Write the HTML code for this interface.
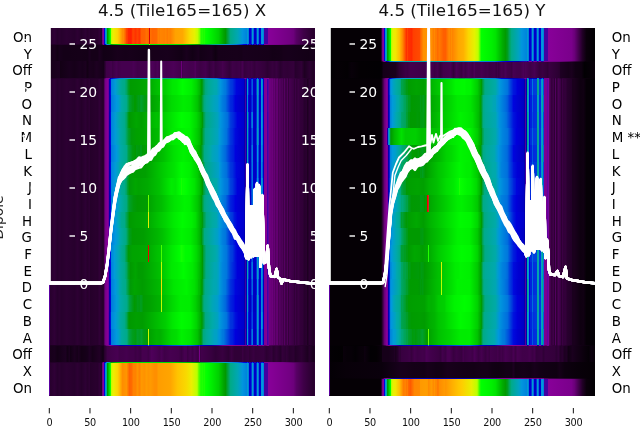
<!DOCTYPE html><html><head><meta charset="utf-8"><title>Tile165</title><style>html,body{margin:0;padding:0;background:#fff}svg{display:block}</style></head><body><svg width="640" height="440" viewBox="0 0 640 440" font-family="'DejaVu Sans','Liberation Sans',sans-serif">
<defs><linearGradient id="l0"><stop offset="0.00188" stop-color="#26002b"/><stop offset="0.02068" stop-color="#2f0036"/><stop offset="0.03195" stop-color="#27002d"/><stop offset="0.03947" stop-color="#2b0031"/><stop offset="0.04699" stop-color="#27002d"/><stop offset="0.06579" stop-color="#2c0032"/><stop offset="0.09586" stop-color="#27002d"/><stop offset="0.1071" stop-color="#2d0033"/><stop offset="0.1147" stop-color="#29002f"/><stop offset="0.1222" stop-color="#25002a"/><stop offset="0.1372" stop-color="#2d0034"/><stop offset="0.1447" stop-color="#28002d"/><stop offset="0.1523" stop-color="#2d0033"/><stop offset="0.156" stop-color="#25002a"/><stop offset="0.1748" stop-color="#29002e"/><stop offset="0.1823" stop-color="#28002d"/><stop offset="0.1898" stop-color="#300036"/><stop offset="0.1974" stop-color="#28002d"/><stop offset="0.2011" stop-color="#710082"/><stop offset="0.2049" stop-color="#880099"/><stop offset="0.2086" stop-color="#0000dd"/><stop offset="0.2124" stop-color="#008bdd"/><stop offset="0.2162" stop-color="#00aaa1"/><stop offset="0.2199" stop-color="#009a00"/><stop offset="0.2274" stop-color="#00e000"/><stop offset="0.2312" stop-color="#13ff00"/><stop offset="0.235" stop-color="#c4fc00"/><stop offset="0.2387" stop-color="#def300"/><stop offset="0.2425" stop-color="#edee00"/><stop offset="0.2575" stop-color="#fbd500"/><stop offset="0.265" stop-color="#ffba00"/><stop offset="0.2763" stop-color="#ff8d00"/><stop offset="0.2801" stop-color="#ff8c00"/><stop offset="0.2876" stop-color="#ff6000"/><stop offset="0.2914" stop-color="#ff4200"/><stop offset="0.2951" stop-color="#ff3900"/><stop offset="0.2989" stop-color="#ff2400"/><stop offset="0.3064" stop-color="#ff2000"/><stop offset="0.3102" stop-color="#ff2600"/><stop offset="0.3139" stop-color="#ff3c00"/><stop offset="0.3177" stop-color="#ff4200"/><stop offset="0.3252" stop-color="#ff3300"/><stop offset="0.3327" stop-color="#ff4200"/><stop offset="0.3402" stop-color="#ff3300"/><stop offset="0.3477" stop-color="#ff6000"/><stop offset="0.359" stop-color="#ff6200"/><stop offset="0.3665" stop-color="#ff7000"/><stop offset="0.3741" stop-color="#ff6700"/><stop offset="0.3778" stop-color="#dd0000"/><stop offset="0.3816" stop-color="#ff7000"/><stop offset="0.3891" stop-color="#ff6500"/><stop offset="0.4041" stop-color="#ff6900"/><stop offset="0.4117" stop-color="#ff8200"/><stop offset="0.4154" stop-color="#ff7d00"/><stop offset="0.4192" stop-color="#ff8400"/><stop offset="0.4342" stop-color="#ff8000"/><stop offset="0.438" stop-color="#ff8500"/><stop offset="0.4455" stop-color="#ff7c00"/><stop offset="0.4492" stop-color="#ff8400"/><stop offset="0.4568" stop-color="#ff8100"/><stop offset="0.4756" stop-color="#ffa200"/><stop offset="0.5019" stop-color="#ffa800"/><stop offset="0.5282" stop-color="#f8db00"/><stop offset="0.547" stop-color="#e6f100"/><stop offset="0.5583" stop-color="#c5fc00"/><stop offset="0.5658" stop-color="#84ff00"/><stop offset="0.5695" stop-color="#44ff00"/><stop offset="0.5733" stop-color="#20ff00"/><stop offset="0.5771" stop-color="#24ff00"/><stop offset="0.5808" stop-color="#17ff00"/><stop offset="0.5846" stop-color="#1dff00"/><stop offset="0.5883" stop-color="#09ff00"/><stop offset="0.5959" stop-color="#00fe00"/><stop offset="0.6372" stop-color="#00d100"/><stop offset="0.656" stop-color="#00a600"/><stop offset="0.6635" stop-color="#009900"/><stop offset="0.6823" stop-color="#00aa87"/><stop offset="0.7086" stop-color="#00a7b2"/><stop offset="0.7274" stop-color="#0096dd"/><stop offset="0.7425" stop-color="#0084dd"/><stop offset="0.7462" stop-color="#009ece"/><stop offset="0.75" stop-color="#0080dd"/><stop offset="0.7538" stop-color="#0000c9"/><stop offset="0.7575" stop-color="#0000d1"/><stop offset="0.7613" stop-color="#0038dd"/><stop offset="0.765" stop-color="#009ece"/><stop offset="0.7688" stop-color="#006add"/><stop offset="0.7726" stop-color="#0000c9"/><stop offset="0.7763" stop-color="#0000c9"/><stop offset="0.7801" stop-color="#0031dd"/><stop offset="0.7838" stop-color="#009ece"/><stop offset="0.7876" stop-color="#0071dd"/><stop offset="0.7914" stop-color="#0000c9"/><stop offset="0.7951" stop-color="#0000ce"/><stop offset="0.7989" stop-color="#0092dd"/><stop offset="0.8026" stop-color="#0099dd"/><stop offset="0.8064" stop-color="#0081dd"/><stop offset="0.8102" stop-color="#4400a2"/><stop offset="0.8214" stop-color="#4400a2"/><stop offset="0.8252" stop-color="#880099"/><stop offset="0.9041" stop-color="#730083"/><stop offset="0.9192" stop-color="#6c007b"/><stop offset="0.9305" stop-color="#570064"/><stop offset="0.9568" stop-color="#3f0048"/><stop offset="0.9756" stop-color="#33003a"/><stop offset="0.9868" stop-color="#2d0033"/><stop offset="0.9944" stop-color="#28002d"/><stop offset="0.9981" stop-color="#2d0034"/></linearGradient><linearGradient id="l1"><stop offset="0.00188" stop-color="#140017"/><stop offset="0.02068" stop-color="#1a001d"/><stop offset="0.03195" stop-color="#130015"/><stop offset="0.03947" stop-color="#17001b"/><stop offset="0.05451" stop-color="#140017"/><stop offset="0.06955" stop-color="#140017"/><stop offset="0.1147" stop-color="#150018"/><stop offset="0.1447" stop-color="#140017"/><stop offset="0.1523" stop-color="#1a001e"/><stop offset="0.1598" stop-color="#150018"/><stop offset="0.1823" stop-color="#150018"/><stop offset="0.1898" stop-color="#1b001f"/><stop offset="0.2049" stop-color="#120015"/><stop offset="0.235" stop-color="#140017"/><stop offset="0.2575" stop-color="#18001b"/><stop offset="0.2876" stop-color="#160019"/><stop offset="0.3026" stop-color="#17001a"/><stop offset="0.3477" stop-color="#140017"/><stop offset="0.3665" stop-color="#140017"/><stop offset="0.3929" stop-color="#17001a"/><stop offset="0.4192" stop-color="#17001b"/><stop offset="0.4455" stop-color="#18001c"/><stop offset="0.468" stop-color="#160019"/><stop offset="0.4981" stop-color="#120015"/><stop offset="0.5169" stop-color="#19001d"/><stop offset="0.5395" stop-color="#120015"/><stop offset="0.562" stop-color="#19001d"/><stop offset="0.5695" stop-color="#130016"/><stop offset="0.6109" stop-color="#18001c"/><stop offset="0.6259" stop-color="#0f0011"/><stop offset="0.6372" stop-color="#160019"/><stop offset="0.7049" stop-color="#17001a"/><stop offset="0.7237" stop-color="#160019"/><stop offset="0.7312" stop-color="#18001c"/><stop offset="0.8252" stop-color="#160019"/><stop offset="0.8402" stop-color="#130016"/><stop offset="0.8741" stop-color="#150018"/><stop offset="0.8816" stop-color="#17001a"/><stop offset="0.9004" stop-color="#17001b"/><stop offset="0.9756" stop-color="#130016"/><stop offset="0.9981" stop-color="#17001b"/></linearGradient><linearGradient id="l2"><stop offset="0.00188" stop-color="#18001b"/><stop offset="0.03947" stop-color="#1c0020"/><stop offset="0.04323" stop-color="#130015"/><stop offset="0.07707" stop-color="#19001d"/><stop offset="0.09586" stop-color="#160019"/><stop offset="0.1147" stop-color="#1a001e"/><stop offset="0.1259" stop-color="#17001b"/><stop offset="0.1372" stop-color="#1b001f"/><stop offset="0.1447" stop-color="#130015"/><stop offset="0.1523" stop-color="#1a001e"/><stop offset="0.1673" stop-color="#18001b"/><stop offset="0.1786" stop-color="#1d0021"/><stop offset="0.2049" stop-color="#160019"/><stop offset="0.2162" stop-color="#3f0048"/><stop offset="0.235" stop-color="#43004d"/><stop offset="0.2387" stop-color="#3c0045"/><stop offset="0.2538" stop-color="#470052"/><stop offset="0.2613" stop-color="#41004a"/><stop offset="0.2726" stop-color="#45004f"/><stop offset="0.3102" stop-color="#45004f"/><stop offset="0.3177" stop-color="#490054"/><stop offset="0.3327" stop-color="#41004a"/><stop offset="0.3553" stop-color="#43004d"/><stop offset="0.3665" stop-color="#45004f"/><stop offset="0.3741" stop-color="#41004a"/><stop offset="0.3891" stop-color="#4d0058"/><stop offset="0.4004" stop-color="#460050"/><stop offset="0.4079" stop-color="#4b0056"/><stop offset="0.4154" stop-color="#43004c"/><stop offset="0.4267" stop-color="#4a0055"/><stop offset="0.4417" stop-color="#45004f"/><stop offset="0.468" stop-color="#4c0057"/><stop offset="0.4944" stop-color="#43004c"/><stop offset="0.4981" stop-color="#6b007a"/><stop offset="0.5019" stop-color="#42004c"/><stop offset="0.5056" stop-color="#4a0055"/><stop offset="0.5282" stop-color="#45004f"/><stop offset="0.5432" stop-color="#460050"/><stop offset="0.5508" stop-color="#4f005a"/><stop offset="0.5545" stop-color="#44004e"/><stop offset="0.5695" stop-color="#3e0046"/><stop offset="0.5883" stop-color="#44004e"/><stop offset="0.6034" stop-color="#36003e"/><stop offset="0.6184" stop-color="#400049"/><stop offset="0.6259" stop-color="#36003e"/><stop offset="0.6485" stop-color="#400049"/><stop offset="0.6523" stop-color="#45004e"/><stop offset="0.6786" stop-color="#33003a"/><stop offset="0.6898" stop-color="#3f0048"/><stop offset="0.7049" stop-color="#3b0044"/><stop offset="0.7162" stop-color="#3e0047"/><stop offset="0.7199" stop-color="#3a0042"/><stop offset="0.7274" stop-color="#460050"/><stop offset="0.735" stop-color="#36003e"/><stop offset="0.75" stop-color="#3c0045"/><stop offset="0.7575" stop-color="#3a0042"/><stop offset="0.7613" stop-color="#3d0046"/><stop offset="0.7726" stop-color="#35003c"/><stop offset="0.7801" stop-color="#3b0044"/><stop offset="0.8102" stop-color="#34003b"/><stop offset="0.8214" stop-color="#2d0033"/><stop offset="0.8402" stop-color="#37003e"/><stop offset="0.8477" stop-color="#33003a"/><stop offset="0.8553" stop-color="#380040"/><stop offset="0.8703" stop-color="#2a0030"/><stop offset="0.8816" stop-color="#320039"/><stop offset="0.8966" stop-color="#300036"/><stop offset="0.9192" stop-color="#34003b"/><stop offset="0.9267" stop-color="#27002d"/><stop offset="0.9492" stop-color="#300036"/><stop offset="0.9605" stop-color="#1e0022"/><stop offset="0.9793" stop-color="#2b0031"/><stop offset="0.9944" stop-color="#210025"/><stop offset="0.9981" stop-color="#2a0030"/></linearGradient><linearGradient id="l3"><stop offset="0.00188" stop-color="#26002b"/><stop offset="0.02068" stop-color="#2f0036"/><stop offset="0.03195" stop-color="#27002d"/><stop offset="0.03947" stop-color="#2b0031"/><stop offset="0.04699" stop-color="#27002d"/><stop offset="0.06579" stop-color="#2c0032"/><stop offset="0.09586" stop-color="#27002d"/><stop offset="0.1071" stop-color="#2d0033"/><stop offset="0.1147" stop-color="#29002f"/><stop offset="0.1222" stop-color="#25002a"/><stop offset="0.1372" stop-color="#2d0034"/><stop offset="0.1447" stop-color="#28002d"/><stop offset="0.1523" stop-color="#2d0033"/><stop offset="0.156" stop-color="#25002a"/><stop offset="0.1748" stop-color="#29002e"/><stop offset="0.1823" stop-color="#28002d"/><stop offset="0.1898" stop-color="#300036"/><stop offset="0.2011" stop-color="#25002a"/><stop offset="0.2049" stop-color="#29002e"/><stop offset="0.2086" stop-color="#570064"/><stop offset="0.2124" stop-color="#780089"/><stop offset="0.2199" stop-color="#860097"/><stop offset="0.2237" stop-color="#6e009c"/><stop offset="0.2274" stop-color="#0000ac"/><stop offset="0.2312" stop-color="#0005dd"/><stop offset="0.235" stop-color="#0082dd"/><stop offset="0.25" stop-color="#009cd5"/><stop offset="0.2688" stop-color="#00aa9a"/><stop offset="0.2763" stop-color="#00aa8e"/><stop offset="0.2838" stop-color="#00aa88"/><stop offset="0.2914" stop-color="#00a665"/><stop offset="0.2989" stop-color="#009e26"/><stop offset="0.3064" stop-color="#009b00"/><stop offset="0.3289" stop-color="#009e00"/><stop offset="0.3741" stop-color="#00a800"/><stop offset="0.4079" stop-color="#00bf00"/><stop offset="0.438" stop-color="#00ce00"/><stop offset="0.4643" stop-color="#00e800"/><stop offset="0.4793" stop-color="#00ec00"/><stop offset="0.5019" stop-color="#00fe00"/><stop offset="0.5357" stop-color="#00ef00"/><stop offset="0.5545" stop-color="#00d500"/><stop offset="0.5658" stop-color="#00bb00"/><stop offset="0.5733" stop-color="#009b00"/><stop offset="0.5771" stop-color="#009c15"/><stop offset="0.5808" stop-color="#00a143"/><stop offset="0.5883" stop-color="#00a97c"/><stop offset="0.5996" stop-color="#00aa95"/><stop offset="0.6222" stop-color="#00a9ad"/><stop offset="0.6297" stop-color="#00a8b0"/><stop offset="0.6447" stop-color="#0096dd"/><stop offset="0.6598" stop-color="#007cdd"/><stop offset="0.6635" stop-color="#0079dd"/><stop offset="0.6823" stop-color="#003cdd"/><stop offset="0.6898" stop-color="#0034dd"/><stop offset="0.7049" stop-color="#0005dd"/><stop offset="0.7312" stop-color="#0000ce"/><stop offset="0.735" stop-color="#0000b7"/><stop offset="0.7387" stop-color="#3b00a3"/><stop offset="0.7425" stop-color="#0000bb"/><stop offset="0.7462" stop-color="#009ece"/><stop offset="0.75" stop-color="#002add"/><stop offset="0.7538" stop-color="#0000c5"/><stop offset="0.7575" stop-color="#0000c5"/><stop offset="0.7613" stop-color="#0037dd"/><stop offset="0.765" stop-color="#0060dd"/><stop offset="0.7688" stop-color="#0000cd"/><stop offset="0.7763" stop-color="#0000c4"/><stop offset="0.7801" stop-color="#003cdd"/><stop offset="0.7838" stop-color="#00a6b7"/><stop offset="0.7876" stop-color="#007cdd"/><stop offset="0.7914" stop-color="#0000c4"/><stop offset="0.7951" stop-color="#0000d4"/><stop offset="0.7989" stop-color="#009fcb"/><stop offset="0.8026" stop-color="#0087dd"/><stop offset="0.8064" stop-color="#0000c4"/><stop offset="0.8102" stop-color="#800091"/><stop offset="0.8177" stop-color="#840095"/><stop offset="0.8214" stop-color="#3d00a2"/><stop offset="0.8252" stop-color="#5e009e"/><stop offset="0.8289" stop-color="#700080"/><stop offset="0.8365" stop-color="#670076"/><stop offset="0.8402" stop-color="#6c007b"/><stop offset="0.844" stop-color="#5c006a"/><stop offset="0.8477" stop-color="#660075"/><stop offset="0.8515" stop-color="#540060"/><stop offset="0.8553" stop-color="#60006e"/><stop offset="0.859" stop-color="#620070"/><stop offset="0.8628" stop-color="#490053"/><stop offset="0.8665" stop-color="#550061"/><stop offset="0.8741" stop-color="#4a0055"/><stop offset="0.8778" stop-color="#4e0059"/><stop offset="0.8816" stop-color="#3f0048"/><stop offset="0.8853" stop-color="#550061"/><stop offset="0.8891" stop-color="#3f0048"/><stop offset="0.8929" stop-color="#3e0047"/><stop offset="0.8966" stop-color="#4e0059"/><stop offset="0.9004" stop-color="#35003c"/><stop offset="0.9041" stop-color="#460050"/><stop offset="0.9192" stop-color="#3b0044"/><stop offset="0.9229" stop-color="#320039"/><stop offset="0.9267" stop-color="#3d0046"/><stop offset="0.9305" stop-color="#33003a"/><stop offset="0.938" stop-color="#3b0043"/><stop offset="0.9455" stop-color="#320039"/><stop offset="0.953" stop-color="#310038"/><stop offset="0.9605" stop-color="#27002d"/><stop offset="0.968" stop-color="#2a0030"/><stop offset="0.9718" stop-color="#1e0022"/><stop offset="0.9793" stop-color="#2c0032"/><stop offset="0.9944" stop-color="#210025"/><stop offset="0.9981" stop-color="#2c0032"/></linearGradient><linearGradient id="l4"><stop offset="0.00188" stop-color="#26002b"/><stop offset="0.02068" stop-color="#2f0036"/><stop offset="0.03195" stop-color="#27002d"/><stop offset="0.03947" stop-color="#2b0031"/><stop offset="0.04699" stop-color="#27002d"/><stop offset="0.06579" stop-color="#2c0032"/><stop offset="0.09586" stop-color="#27002d"/><stop offset="0.1071" stop-color="#2d0033"/><stop offset="0.1147" stop-color="#29002f"/><stop offset="0.1222" stop-color="#25002a"/><stop offset="0.1372" stop-color="#2d0034"/><stop offset="0.1447" stop-color="#28002d"/><stop offset="0.1523" stop-color="#2d0033"/><stop offset="0.156" stop-color="#25002a"/><stop offset="0.1748" stop-color="#29002e"/><stop offset="0.1823" stop-color="#28002d"/><stop offset="0.1898" stop-color="#300036"/><stop offset="0.2011" stop-color="#25002a"/><stop offset="0.2049" stop-color="#29002e"/><stop offset="0.2086" stop-color="#570064"/><stop offset="0.2124" stop-color="#780089"/><stop offset="0.2199" stop-color="#860097"/><stop offset="0.2237" stop-color="#70009c"/><stop offset="0.2274" stop-color="#0600a9"/><stop offset="0.2312" stop-color="#0000d8"/><stop offset="0.235" stop-color="#007bdd"/><stop offset="0.2538" stop-color="#0098dd"/><stop offset="0.2613" stop-color="#009dd0"/><stop offset="0.2726" stop-color="#00aaa6"/><stop offset="0.2876" stop-color="#00aa91"/><stop offset="0.2914" stop-color="#00aa8a"/><stop offset="0.3026" stop-color="#009f2f"/><stop offset="0.3139" stop-color="#009b10"/><stop offset="0.3177" stop-color="#009b0e"/><stop offset="0.3214" stop-color="#009a00"/><stop offset="0.3252" stop-color="#009a00"/><stop offset="0.3365" stop-color="#009c1a"/><stop offset="0.3402" stop-color="#009c14"/><stop offset="0.344" stop-color="#009e26"/><stop offset="0.3477" stop-color="#009e2c"/><stop offset="0.359" stop-color="#009b12"/><stop offset="0.3665" stop-color="#009b0c"/><stop offset="0.3703" stop-color="#009900"/><stop offset="0.4079" stop-color="#00b000"/><stop offset="0.438" stop-color="#00c400"/><stop offset="0.4605" stop-color="#00da00"/><stop offset="0.5056" stop-color="#00ed00"/><stop offset="0.532" stop-color="#00e700"/><stop offset="0.5583" stop-color="#00c400"/><stop offset="0.5695" stop-color="#00a300"/><stop offset="0.5733" stop-color="#009b11"/><stop offset="0.5808" stop-color="#00a563"/><stop offset="0.5846" stop-color="#00a981"/><stop offset="0.5921" stop-color="#00aa96"/><stop offset="0.6184" stop-color="#00a5b9"/><stop offset="0.6335" stop-color="#00a0c8"/><stop offset="0.641" stop-color="#0095dd"/><stop offset="0.6523" stop-color="#007ddd"/><stop offset="0.6635" stop-color="#006edd"/><stop offset="0.6823" stop-color="#0029dd"/><stop offset="0.6898" stop-color="#0022dd"/><stop offset="0.7011" stop-color="#0000db"/><stop offset="0.7199" stop-color="#0000cd"/><stop offset="0.7312" stop-color="#0000c8"/><stop offset="0.735" stop-color="#0000b0"/><stop offset="0.7387" stop-color="#4b00a1"/><stop offset="0.7425" stop-color="#0000b6"/><stop offset="0.7462" stop-color="#008bdd"/><stop offset="0.75" stop-color="#000bdd"/><stop offset="0.7538" stop-color="#0000bf"/><stop offset="0.7575" stop-color="#0000c0"/><stop offset="0.7613" stop-color="#001edd"/><stop offset="0.765" stop-color="#0042dd"/><stop offset="0.7688" stop-color="#0000c7"/><stop offset="0.7763" stop-color="#0000c0"/><stop offset="0.7801" stop-color="#002add"/><stop offset="0.7838" stop-color="#00a1c5"/><stop offset="0.7876" stop-color="#0071dd"/><stop offset="0.7914" stop-color="#0000bf"/><stop offset="0.7951" stop-color="#0000cd"/><stop offset="0.7989" stop-color="#0095dd"/><stop offset="0.8026" stop-color="#007bdd"/><stop offset="0.8064" stop-color="#0000bf"/><stop offset="0.8102" stop-color="#800091"/><stop offset="0.8177" stop-color="#840095"/><stop offset="0.8214" stop-color="#4300a2"/><stop offset="0.8252" stop-color="#62009e"/><stop offset="0.8289" stop-color="#700080"/><stop offset="0.8365" stop-color="#670076"/><stop offset="0.8402" stop-color="#6c007b"/><stop offset="0.844" stop-color="#5c006a"/><stop offset="0.8477" stop-color="#660075"/><stop offset="0.8515" stop-color="#540060"/><stop offset="0.8553" stop-color="#60006e"/><stop offset="0.859" stop-color="#620070"/><stop offset="0.8628" stop-color="#490053"/><stop offset="0.8665" stop-color="#550061"/><stop offset="0.8741" stop-color="#4a0055"/><stop offset="0.8778" stop-color="#4e0059"/><stop offset="0.8816" stop-color="#3f0048"/><stop offset="0.8853" stop-color="#550061"/><stop offset="0.8891" stop-color="#3f0048"/><stop offset="0.8929" stop-color="#3e0047"/><stop offset="0.8966" stop-color="#4e0059"/><stop offset="0.9004" stop-color="#35003c"/><stop offset="0.9041" stop-color="#460050"/><stop offset="0.9192" stop-color="#3b0044"/><stop offset="0.9229" stop-color="#320039"/><stop offset="0.9267" stop-color="#3d0046"/><stop offset="0.9305" stop-color="#33003a"/><stop offset="0.938" stop-color="#3b0043"/><stop offset="0.9455" stop-color="#320039"/><stop offset="0.953" stop-color="#310038"/><stop offset="0.9605" stop-color="#27002d"/><stop offset="0.968" stop-color="#2a0030"/><stop offset="0.9718" stop-color="#1e0022"/><stop offset="0.9793" stop-color="#2c0032"/><stop offset="0.9944" stop-color="#210025"/><stop offset="0.9981" stop-color="#2c0032"/></linearGradient><linearGradient id="l5"><stop offset="0.00188" stop-color="#26002b"/><stop offset="0.02068" stop-color="#2f0036"/><stop offset="0.03195" stop-color="#27002d"/><stop offset="0.03947" stop-color="#2b0031"/><stop offset="0.04699" stop-color="#27002d"/><stop offset="0.06579" stop-color="#2c0032"/><stop offset="0.09586" stop-color="#27002d"/><stop offset="0.1071" stop-color="#2d0033"/><stop offset="0.1147" stop-color="#29002f"/><stop offset="0.1222" stop-color="#25002a"/><stop offset="0.1372" stop-color="#2d0034"/><stop offset="0.1447" stop-color="#28002d"/><stop offset="0.1523" stop-color="#2d0033"/><stop offset="0.156" stop-color="#25002a"/><stop offset="0.1748" stop-color="#29002e"/><stop offset="0.1823" stop-color="#28002d"/><stop offset="0.1898" stop-color="#300036"/><stop offset="0.2011" stop-color="#25002a"/><stop offset="0.2049" stop-color="#29002e"/><stop offset="0.2086" stop-color="#570064"/><stop offset="0.2124" stop-color="#780089"/><stop offset="0.2199" stop-color="#860097"/><stop offset="0.2237" stop-color="#6f009c"/><stop offset="0.2274" stop-color="#0000ab"/><stop offset="0.2312" stop-color="#0005dd"/><stop offset="0.235" stop-color="#0083dd"/><stop offset="0.25" stop-color="#009cd4"/><stop offset="0.2688" stop-color="#00aaa0"/><stop offset="0.2838" stop-color="#00aa8c"/><stop offset="0.2914" stop-color="#00a664"/><stop offset="0.2989" stop-color="#009b14"/><stop offset="0.3026" stop-color="#009900"/><stop offset="0.3289" stop-color="#00a600"/><stop offset="0.3477" stop-color="#009f00"/><stop offset="0.3853" stop-color="#00b600"/><stop offset="0.4041" stop-color="#00c100"/><stop offset="0.4154" stop-color="#00bf00"/><stop offset="0.4342" stop-color="#00d000"/><stop offset="0.4643" stop-color="#00e700"/><stop offset="0.4981" stop-color="#00fd00"/><stop offset="0.5282" stop-color="#00f600"/><stop offset="0.5545" stop-color="#00d800"/><stop offset="0.5658" stop-color="#00c000"/><stop offset="0.5771" stop-color="#009a04"/><stop offset="0.5808" stop-color="#00a036"/><stop offset="0.5883" stop-color="#00a879"/><stop offset="0.5921" stop-color="#00aa87"/><stop offset="0.6335" stop-color="#00a4bb"/><stop offset="0.6447" stop-color="#0095dd"/><stop offset="0.6598" stop-color="#007fdd"/><stop offset="0.6711" stop-color="#006fdd"/><stop offset="0.6823" stop-color="#003cdd"/><stop offset="0.6936" stop-color="#0028dd"/><stop offset="0.7086" stop-color="#0000dd"/><stop offset="0.7312" stop-color="#0000cf"/><stop offset="0.735" stop-color="#0000b8"/><stop offset="0.7387" stop-color="#3600a3"/><stop offset="0.7425" stop-color="#0000bd"/><stop offset="0.7462" stop-color="#00a7b4"/><stop offset="0.75" stop-color="#0042dd"/><stop offset="0.7538" stop-color="#0000c7"/><stop offset="0.7575" stop-color="#0000c7"/><stop offset="0.7613" stop-color="#005fdd"/><stop offset="0.765" stop-color="#0081dd"/><stop offset="0.7688" stop-color="#0000d0"/><stop offset="0.7726" stop-color="#0000c5"/><stop offset="0.7763" stop-color="#0000c5"/><stop offset="0.7801" stop-color="#002ddd"/><stop offset="0.7838" stop-color="#009fca"/><stop offset="0.7876" stop-color="#0071dd"/><stop offset="0.7914" stop-color="#0000c5"/><stop offset="0.7951" stop-color="#0000d3"/><stop offset="0.7989" stop-color="#009adb"/><stop offset="0.8026" stop-color="#0081dd"/><stop offset="0.8064" stop-color="#0000c6"/><stop offset="0.8102" stop-color="#800091"/><stop offset="0.8177" stop-color="#840095"/><stop offset="0.8214" stop-color="#3b00a3"/><stop offset="0.8252" stop-color="#5d009e"/><stop offset="0.8289" stop-color="#700080"/><stop offset="0.8365" stop-color="#670076"/><stop offset="0.8402" stop-color="#6c007b"/><stop offset="0.844" stop-color="#5c006a"/><stop offset="0.8477" stop-color="#660075"/><stop offset="0.8515" stop-color="#540060"/><stop offset="0.8553" stop-color="#60006e"/><stop offset="0.859" stop-color="#620070"/><stop offset="0.8628" stop-color="#490053"/><stop offset="0.8665" stop-color="#550061"/><stop offset="0.8741" stop-color="#4a0055"/><stop offset="0.8778" stop-color="#4e0059"/><stop offset="0.8816" stop-color="#3f0048"/><stop offset="0.8853" stop-color="#550061"/><stop offset="0.8891" stop-color="#3f0048"/><stop offset="0.8929" stop-color="#3e0047"/><stop offset="0.8966" stop-color="#4e0059"/><stop offset="0.9004" stop-color="#35003c"/><stop offset="0.9041" stop-color="#460050"/><stop offset="0.9192" stop-color="#3b0044"/><stop offset="0.9229" stop-color="#320039"/><stop offset="0.9267" stop-color="#3d0046"/><stop offset="0.9305" stop-color="#33003a"/><stop offset="0.938" stop-color="#3b0043"/><stop offset="0.9455" stop-color="#320039"/><stop offset="0.953" stop-color="#310038"/><stop offset="0.9605" stop-color="#27002d"/><stop offset="0.968" stop-color="#2a0030"/><stop offset="0.9718" stop-color="#1e0022"/><stop offset="0.9793" stop-color="#2c0032"/><stop offset="0.9944" stop-color="#210025"/><stop offset="0.9981" stop-color="#2c0032"/></linearGradient><linearGradient id="l6"><stop offset="0.00188" stop-color="#26002b"/><stop offset="0.02068" stop-color="#2f0036"/><stop offset="0.03195" stop-color="#27002d"/><stop offset="0.03947" stop-color="#2b0031"/><stop offset="0.04699" stop-color="#27002d"/><stop offset="0.06579" stop-color="#2c0032"/><stop offset="0.09586" stop-color="#27002d"/><stop offset="0.1071" stop-color="#2d0033"/><stop offset="0.1147" stop-color="#29002f"/><stop offset="0.1222" stop-color="#25002a"/><stop offset="0.1372" stop-color="#2d0034"/><stop offset="0.1447" stop-color="#28002d"/><stop offset="0.1523" stop-color="#2d0033"/><stop offset="0.156" stop-color="#25002a"/><stop offset="0.1748" stop-color="#29002e"/><stop offset="0.1823" stop-color="#28002d"/><stop offset="0.1898" stop-color="#300036"/><stop offset="0.2011" stop-color="#25002a"/><stop offset="0.2049" stop-color="#29002e"/><stop offset="0.2086" stop-color="#570064"/><stop offset="0.2124" stop-color="#780089"/><stop offset="0.2199" stop-color="#860097"/><stop offset="0.2237" stop-color="#6e009c"/><stop offset="0.2274" stop-color="#0000ac"/><stop offset="0.2312" stop-color="#0004dd"/><stop offset="0.235" stop-color="#0083dd"/><stop offset="0.25" stop-color="#009bd7"/><stop offset="0.2613" stop-color="#00a4bd"/><stop offset="0.2688" stop-color="#00aaa3"/><stop offset="0.2838" stop-color="#00aa8c"/><stop offset="0.2876" stop-color="#00a97e"/><stop offset="0.2989" stop-color="#009f2f"/><stop offset="0.3102" stop-color="#009a08"/><stop offset="0.3289" stop-color="#00a000"/><stop offset="0.3553" stop-color="#00a300"/><stop offset="0.4192" stop-color="#00bf00"/><stop offset="0.4643" stop-color="#00e900"/><stop offset="0.5132" stop-color="#00f600"/><stop offset="0.532" stop-color="#00f200"/><stop offset="0.5583" stop-color="#00cc00"/><stop offset="0.5658" stop-color="#00bd00"/><stop offset="0.5733" stop-color="#009b00"/><stop offset="0.5771" stop-color="#009d1f"/><stop offset="0.5808" stop-color="#00a34f"/><stop offset="0.5883" stop-color="#00aa8b"/><stop offset="0.6071" stop-color="#00aa9f"/><stop offset="0.6335" stop-color="#00a4bd"/><stop offset="0.641" stop-color="#009bd8"/><stop offset="0.6598" stop-color="#007ddd"/><stop offset="0.6673" stop-color="#0073dd"/><stop offset="0.6823" stop-color="#0036dd"/><stop offset="0.6898" stop-color="#002add"/><stop offset="0.7011" stop-color="#0009dd"/><stop offset="0.7162" stop-color="#0000d4"/><stop offset="0.7312" stop-color="#0000ce"/><stop offset="0.735" stop-color="#0000b6"/><stop offset="0.7387" stop-color="#3c00a3"/><stop offset="0.7425" stop-color="#0000ba"/><stop offset="0.7462" stop-color="#00a5b8"/><stop offset="0.75" stop-color="#0038dd"/><stop offset="0.7538" stop-color="#0000c3"/><stop offset="0.7575" stop-color="#0000c3"/><stop offset="0.7613" stop-color="#0031dd"/><stop offset="0.765" stop-color="#005add"/><stop offset="0.7688" stop-color="#0000ca"/><stop offset="0.7763" stop-color="#0000c3"/><stop offset="0.7801" stop-color="#0035dd"/><stop offset="0.7838" stop-color="#00a4bb"/><stop offset="0.7876" stop-color="#007add"/><stop offset="0.7914" stop-color="#0000c3"/><stop offset="0.7951" stop-color="#0000d1"/><stop offset="0.7989" stop-color="#0096dd"/><stop offset="0.8026" stop-color="#007ddd"/><stop offset="0.8064" stop-color="#0000c5"/><stop offset="0.8102" stop-color="#800091"/><stop offset="0.8177" stop-color="#840095"/><stop offset="0.8214" stop-color="#3f00a2"/><stop offset="0.8252" stop-color="#5e009e"/><stop offset="0.8289" stop-color="#700080"/><stop offset="0.8365" stop-color="#670076"/><stop offset="0.8402" stop-color="#6c007b"/><stop offset="0.844" stop-color="#5c006a"/><stop offset="0.8477" stop-color="#660075"/><stop offset="0.8515" stop-color="#540060"/><stop offset="0.8553" stop-color="#60006e"/><stop offset="0.859" stop-color="#620070"/><stop offset="0.8628" stop-color="#490053"/><stop offset="0.8665" stop-color="#550061"/><stop offset="0.8741" stop-color="#4a0055"/><stop offset="0.8778" stop-color="#4e0059"/><stop offset="0.8816" stop-color="#3f0048"/><stop offset="0.8853" stop-color="#550061"/><stop offset="0.8891" stop-color="#3f0048"/><stop offset="0.8929" stop-color="#3e0047"/><stop offset="0.8966" stop-color="#4e0059"/><stop offset="0.9004" stop-color="#35003c"/><stop offset="0.9041" stop-color="#460050"/><stop offset="0.9192" stop-color="#3b0044"/><stop offset="0.9229" stop-color="#320039"/><stop offset="0.9267" stop-color="#3d0046"/><stop offset="0.9305" stop-color="#33003a"/><stop offset="0.938" stop-color="#3b0043"/><stop offset="0.9455" stop-color="#320039"/><stop offset="0.953" stop-color="#310038"/><stop offset="0.9605" stop-color="#27002d"/><stop offset="0.968" stop-color="#2a0030"/><stop offset="0.9718" stop-color="#1e0022"/><stop offset="0.9793" stop-color="#2c0032"/><stop offset="0.9944" stop-color="#210025"/><stop offset="0.9981" stop-color="#2c0032"/></linearGradient><linearGradient id="l7"><stop offset="0.00188" stop-color="#26002b"/><stop offset="0.02068" stop-color="#2f0036"/><stop offset="0.03195" stop-color="#27002d"/><stop offset="0.03947" stop-color="#2b0031"/><stop offset="0.04699" stop-color="#27002d"/><stop offset="0.06579" stop-color="#2c0032"/><stop offset="0.09586" stop-color="#27002d"/><stop offset="0.1071" stop-color="#2d0033"/><stop offset="0.1147" stop-color="#29002f"/><stop offset="0.1222" stop-color="#25002a"/><stop offset="0.1372" stop-color="#2d0034"/><stop offset="0.1447" stop-color="#28002d"/><stop offset="0.1523" stop-color="#2d0033"/><stop offset="0.156" stop-color="#25002a"/><stop offset="0.1748" stop-color="#29002e"/><stop offset="0.1823" stop-color="#28002d"/><stop offset="0.1898" stop-color="#300036"/><stop offset="0.2011" stop-color="#25002a"/><stop offset="0.2049" stop-color="#29002e"/><stop offset="0.2086" stop-color="#570064"/><stop offset="0.2124" stop-color="#780089"/><stop offset="0.2199" stop-color="#860097"/><stop offset="0.2237" stop-color="#70009c"/><stop offset="0.2274" stop-color="#0500a9"/><stop offset="0.2312" stop-color="#0000d9"/><stop offset="0.235" stop-color="#007bdd"/><stop offset="0.2538" stop-color="#0099dd"/><stop offset="0.2613" stop-color="#00a0c7"/><stop offset="0.2688" stop-color="#00aaa8"/><stop offset="0.2914" stop-color="#00aa8a"/><stop offset="0.2989" stop-color="#00a246"/><stop offset="0.3139" stop-color="#009b0e"/><stop offset="0.3252" stop-color="#009900"/><stop offset="0.3289" stop-color="#009b10"/><stop offset="0.3402" stop-color="#009a09"/><stop offset="0.344" stop-color="#009c17"/><stop offset="0.3477" stop-color="#009c16"/><stop offset="0.3515" stop-color="#009904"/><stop offset="0.3853" stop-color="#00a600"/><stop offset="0.4305" stop-color="#00c000"/><stop offset="0.468" stop-color="#00e000"/><stop offset="0.4906" stop-color="#00ec00"/><stop offset="0.5056" stop-color="#00f200"/><stop offset="0.5357" stop-color="#00e800"/><stop offset="0.5583" stop-color="#00bf00"/><stop offset="0.5658" stop-color="#00b100"/><stop offset="0.5695" stop-color="#00a100"/><stop offset="0.5733" stop-color="#009c15"/><stop offset="0.5846" stop-color="#00aa88"/><stop offset="0.6071" stop-color="#00aaa9"/><stop offset="0.6147" stop-color="#00a5b9"/><stop offset="0.6335" stop-color="#009fca"/><stop offset="0.641" stop-color="#0095dd"/><stop offset="0.6523" stop-color="#007ddd"/><stop offset="0.6635" stop-color="#006add"/><stop offset="0.6748" stop-color="#0044dd"/><stop offset="0.6823" stop-color="#002ddd"/><stop offset="0.6936" stop-color="#001ddd"/><stop offset="0.7011" stop-color="#0003dd"/><stop offset="0.7312" stop-color="#0000ca"/><stop offset="0.735" stop-color="#0000b2"/><stop offset="0.7387" stop-color="#4300a2"/><stop offset="0.7425" stop-color="#0000b8"/><stop offset="0.7462" stop-color="#00a5b9"/><stop offset="0.75" stop-color="#0035dd"/><stop offset="0.7538" stop-color="#0000c1"/><stop offset="0.7575" stop-color="#0000c1"/><stop offset="0.7613" stop-color="#004ddd"/><stop offset="0.765" stop-color="#007bdd"/><stop offset="0.7688" stop-color="#0000ca"/><stop offset="0.7763" stop-color="#0000c1"/><stop offset="0.7801" stop-color="#001add"/><stop offset="0.7838" stop-color="#0098dd"/><stop offset="0.7876" stop-color="#0055dd"/><stop offset="0.7914" stop-color="#0000c0"/><stop offset="0.7951" stop-color="#0000cc"/><stop offset="0.7989" stop-color="#008bdd"/><stop offset="0.8026" stop-color="#0071dd"/><stop offset="0.8064" stop-color="#0000c1"/><stop offset="0.8102" stop-color="#800091"/><stop offset="0.8177" stop-color="#840095"/><stop offset="0.8214" stop-color="#4200a2"/><stop offset="0.8252" stop-color="#61009e"/><stop offset="0.8289" stop-color="#700080"/><stop offset="0.8365" stop-color="#670076"/><stop offset="0.8402" stop-color="#6c007b"/><stop offset="0.844" stop-color="#5c006a"/><stop offset="0.8477" stop-color="#660075"/><stop offset="0.8515" stop-color="#540060"/><stop offset="0.8553" stop-color="#60006e"/><stop offset="0.859" stop-color="#620070"/><stop offset="0.8628" stop-color="#490053"/><stop offset="0.8665" stop-color="#550061"/><stop offset="0.8741" stop-color="#4a0055"/><stop offset="0.8778" stop-color="#4e0059"/><stop offset="0.8816" stop-color="#3f0048"/><stop offset="0.8853" stop-color="#550061"/><stop offset="0.8891" stop-color="#3f0048"/><stop offset="0.8929" stop-color="#3e0047"/><stop offset="0.8966" stop-color="#4e0059"/><stop offset="0.9004" stop-color="#35003c"/><stop offset="0.9041" stop-color="#460050"/><stop offset="0.9192" stop-color="#3b0044"/><stop offset="0.9229" stop-color="#320039"/><stop offset="0.9267" stop-color="#3d0046"/><stop offset="0.9305" stop-color="#33003a"/><stop offset="0.938" stop-color="#3b0043"/><stop offset="0.9455" stop-color="#320039"/><stop offset="0.953" stop-color="#310038"/><stop offset="0.9605" stop-color="#27002d"/><stop offset="0.968" stop-color="#2a0030"/><stop offset="0.9718" stop-color="#1e0022"/><stop offset="0.9793" stop-color="#2c0032"/><stop offset="0.9944" stop-color="#210025"/><stop offset="0.9981" stop-color="#2c0032"/></linearGradient><linearGradient id="l8"><stop offset="0.00188" stop-color="#26002b"/><stop offset="0.02068" stop-color="#2f0036"/><stop offset="0.03195" stop-color="#27002d"/><stop offset="0.03947" stop-color="#2b0031"/><stop offset="0.04699" stop-color="#27002d"/><stop offset="0.06579" stop-color="#2c0032"/><stop offset="0.09586" stop-color="#27002d"/><stop offset="0.1071" stop-color="#2d0033"/><stop offset="0.1147" stop-color="#29002f"/><stop offset="0.1222" stop-color="#25002a"/><stop offset="0.1372" stop-color="#2d0034"/><stop offset="0.1447" stop-color="#28002d"/><stop offset="0.1523" stop-color="#2d0033"/><stop offset="0.156" stop-color="#25002a"/><stop offset="0.1748" stop-color="#29002e"/><stop offset="0.1823" stop-color="#28002d"/><stop offset="0.1898" stop-color="#300036"/><stop offset="0.2011" stop-color="#25002a"/><stop offset="0.2049" stop-color="#29002e"/><stop offset="0.2086" stop-color="#570064"/><stop offset="0.2124" stop-color="#780089"/><stop offset="0.2199" stop-color="#860097"/><stop offset="0.2237" stop-color="#6f009c"/><stop offset="0.2274" stop-color="#0000ab"/><stop offset="0.2312" stop-color="#0005dd"/><stop offset="0.235" stop-color="#0083dd"/><stop offset="0.25" stop-color="#009bd7"/><stop offset="0.2613" stop-color="#00a4bc"/><stop offset="0.265" stop-color="#00aaaa"/><stop offset="0.2876" stop-color="#00aa88"/><stop offset="0.2951" stop-color="#00a24c"/><stop offset="0.3026" stop-color="#009a09"/><stop offset="0.3102" stop-color="#009f00"/><stop offset="0.3402" stop-color="#009e00"/><stop offset="0.3628" stop-color="#00a000"/><stop offset="0.4079" stop-color="#00be00"/><stop offset="0.4492" stop-color="#00d800"/><stop offset="0.4718" stop-color="#00e400"/><stop offset="0.4981" stop-color="#00fa00"/><stop offset="0.5282" stop-color="#00f100"/><stop offset="0.5583" stop-color="#00ce00"/><stop offset="0.5695" stop-color="#00ae00"/><stop offset="0.5733" stop-color="#009d00"/><stop offset="0.5771" stop-color="#009c19"/><stop offset="0.5846" stop-color="#00a76c"/><stop offset="0.5883" stop-color="#00aa88"/><stop offset="0.6372" stop-color="#00a0c7"/><stop offset="0.641" stop-color="#009ad9"/><stop offset="0.6523" stop-color="#0083dd"/><stop offset="0.6673" stop-color="#0070dd"/><stop offset="0.6823" stop-color="#0037dd"/><stop offset="0.6898" stop-color="#002fdd"/><stop offset="0.7049" stop-color="#0005dd"/><stop offset="0.7312" stop-color="#0000cd"/><stop offset="0.735" stop-color="#0000b6"/><stop offset="0.7387" stop-color="#3d00a2"/><stop offset="0.7425" stop-color="#0000b9"/><stop offset="0.7462" stop-color="#00a3bf"/><stop offset="0.75" stop-color="#0035dd"/><stop offset="0.7538" stop-color="#0000c5"/><stop offset="0.7575" stop-color="#0000c5"/><stop offset="0.7613" stop-color="#0047dd"/><stop offset="0.765" stop-color="#0078dd"/><stop offset="0.7688" stop-color="#0000cd"/><stop offset="0.7763" stop-color="#0000c3"/><stop offset="0.7801" stop-color="#0014dd"/><stop offset="0.7838" stop-color="#008fdd"/><stop offset="0.7876" stop-color="#0049dd"/><stop offset="0.7914" stop-color="#0000c1"/><stop offset="0.7951" stop-color="#0000cd"/><stop offset="0.7989" stop-color="#0084dd"/><stop offset="0.8026" stop-color="#0060dd"/><stop offset="0.8064" stop-color="#0000c3"/><stop offset="0.8102" stop-color="#800091"/><stop offset="0.8177" stop-color="#840095"/><stop offset="0.8214" stop-color="#4100a2"/><stop offset="0.8252" stop-color="#60009e"/><stop offset="0.8289" stop-color="#700080"/><stop offset="0.8365" stop-color="#670076"/><stop offset="0.8402" stop-color="#6c007b"/><stop offset="0.844" stop-color="#5c006a"/><stop offset="0.8477" stop-color="#660075"/><stop offset="0.8515" stop-color="#540060"/><stop offset="0.8553" stop-color="#60006e"/><stop offset="0.859" stop-color="#620070"/><stop offset="0.8628" stop-color="#490053"/><stop offset="0.8665" stop-color="#550061"/><stop offset="0.8741" stop-color="#4a0055"/><stop offset="0.8778" stop-color="#4e0059"/><stop offset="0.8816" stop-color="#3f0048"/><stop offset="0.8853" stop-color="#550061"/><stop offset="0.8891" stop-color="#3f0048"/><stop offset="0.8929" stop-color="#3e0047"/><stop offset="0.8966" stop-color="#4e0059"/><stop offset="0.9004" stop-color="#35003c"/><stop offset="0.9041" stop-color="#460050"/><stop offset="0.9192" stop-color="#3b0044"/><stop offset="0.9229" stop-color="#320039"/><stop offset="0.9267" stop-color="#3d0046"/><stop offset="0.9305" stop-color="#33003a"/><stop offset="0.938" stop-color="#3b0043"/><stop offset="0.9455" stop-color="#320039"/><stop offset="0.953" stop-color="#310038"/><stop offset="0.9605" stop-color="#27002d"/><stop offset="0.968" stop-color="#2a0030"/><stop offset="0.9718" stop-color="#1e0022"/><stop offset="0.9793" stop-color="#2c0032"/><stop offset="0.9944" stop-color="#210025"/><stop offset="0.9981" stop-color="#2c0032"/></linearGradient><linearGradient id="l9"><stop offset="0.00188" stop-color="#26002b"/><stop offset="0.02068" stop-color="#2f0036"/><stop offset="0.03195" stop-color="#27002d"/><stop offset="0.03947" stop-color="#2b0031"/><stop offset="0.04699" stop-color="#27002d"/><stop offset="0.06579" stop-color="#2c0032"/><stop offset="0.09586" stop-color="#27002d"/><stop offset="0.1071" stop-color="#2d0033"/><stop offset="0.1147" stop-color="#29002f"/><stop offset="0.1222" stop-color="#25002a"/><stop offset="0.1372" stop-color="#2d0034"/><stop offset="0.1447" stop-color="#28002d"/><stop offset="0.1523" stop-color="#2d0033"/><stop offset="0.156" stop-color="#25002a"/><stop offset="0.1748" stop-color="#29002e"/><stop offset="0.1823" stop-color="#28002d"/><stop offset="0.1898" stop-color="#300036"/><stop offset="0.2011" stop-color="#25002a"/><stop offset="0.2049" stop-color="#29002e"/><stop offset="0.2086" stop-color="#570064"/><stop offset="0.2124" stop-color="#780089"/><stop offset="0.2199" stop-color="#860097"/><stop offset="0.2237" stop-color="#6e009c"/><stop offset="0.2274" stop-color="#0000ac"/><stop offset="0.2312" stop-color="#0009dd"/><stop offset="0.235" stop-color="#0083dd"/><stop offset="0.25" stop-color="#009cd5"/><stop offset="0.2726" stop-color="#00aa96"/><stop offset="0.2838" stop-color="#00aa8a"/><stop offset="0.2914" stop-color="#00a563"/><stop offset="0.2951" stop-color="#00a038"/><stop offset="0.3026" stop-color="#009a06"/><stop offset="0.3252" stop-color="#00a600"/><stop offset="0.3365" stop-color="#00a200"/><stop offset="0.3703" stop-color="#00aa00"/><stop offset="0.4154" stop-color="#00c100"/><stop offset="0.4605" stop-color="#00ec00"/><stop offset="0.4756" stop-color="#00e900"/><stop offset="0.4944" stop-color="#01ff00"/><stop offset="0.4981" stop-color="#14ff00"/><stop offset="0.5019" stop-color="#05ff00"/><stop offset="0.5056" stop-color="#07ff00"/><stop offset="0.5169" stop-color="#00fd00"/><stop offset="0.547" stop-color="#00e500"/><stop offset="0.5658" stop-color="#00c200"/><stop offset="0.5771" stop-color="#009a00"/><stop offset="0.5808" stop-color="#00a035"/><stop offset="0.5883" stop-color="#00a771"/><stop offset="0.5921" stop-color="#00a983"/><stop offset="0.6147" stop-color="#00aaa3"/><stop offset="0.6297" stop-color="#00aaaa"/><stop offset="0.6447" stop-color="#0097dd"/><stop offset="0.6598" stop-color="#007fdd"/><stop offset="0.6711" stop-color="#0074dd"/><stop offset="0.6823" stop-color="#0042dd"/><stop offset="0.6898" stop-color="#0037dd"/><stop offset="0.7086" stop-color="#0000db"/><stop offset="0.7312" stop-color="#0000cf"/><stop offset="0.735" stop-color="#0000b8"/><stop offset="0.7387" stop-color="#3500a3"/><stop offset="0.7425" stop-color="#0000bd"/><stop offset="0.7462" stop-color="#009ecd"/><stop offset="0.75" stop-color="#0031dd"/><stop offset="0.7538" stop-color="#0000c7"/><stop offset="0.7575" stop-color="#0000c7"/><stop offset="0.7613" stop-color="#0045dd"/><stop offset="0.765" stop-color="#0074dd"/><stop offset="0.7688" stop-color="#0000d0"/><stop offset="0.7763" stop-color="#0000c6"/><stop offset="0.7801" stop-color="#0025dd"/><stop offset="0.7838" stop-color="#009ad9"/><stop offset="0.7876" stop-color="#0061dd"/><stop offset="0.7914" stop-color="#0000c4"/><stop offset="0.7951" stop-color="#0000d4"/><stop offset="0.7989" stop-color="#009bd6"/><stop offset="0.8026" stop-color="#0083dd"/><stop offset="0.8064" stop-color="#0000c5"/><stop offset="0.8102" stop-color="#800091"/><stop offset="0.8177" stop-color="#840095"/><stop offset="0.8214" stop-color="#3d00a2"/><stop offset="0.8252" stop-color="#5e009e"/><stop offset="0.8289" stop-color="#700080"/><stop offset="0.8365" stop-color="#670076"/><stop offset="0.8402" stop-color="#6c007b"/><stop offset="0.844" stop-color="#5c006a"/><stop offset="0.8477" stop-color="#660075"/><stop offset="0.8515" stop-color="#540060"/><stop offset="0.8553" stop-color="#60006e"/><stop offset="0.859" stop-color="#620070"/><stop offset="0.8628" stop-color="#490053"/><stop offset="0.8665" stop-color="#550061"/><stop offset="0.8741" stop-color="#4a0055"/><stop offset="0.8778" stop-color="#4e0059"/><stop offset="0.8816" stop-color="#3f0048"/><stop offset="0.8853" stop-color="#550061"/><stop offset="0.8891" stop-color="#3f0048"/><stop offset="0.8929" stop-color="#3e0047"/><stop offset="0.8966" stop-color="#4e0059"/><stop offset="0.9004" stop-color="#35003c"/><stop offset="0.9041" stop-color="#460050"/><stop offset="0.9192" stop-color="#3b0044"/><stop offset="0.9229" stop-color="#320039"/><stop offset="0.9267" stop-color="#3d0046"/><stop offset="0.9305" stop-color="#33003a"/><stop offset="0.938" stop-color="#3b0043"/><stop offset="0.9455" stop-color="#320039"/><stop offset="0.953" stop-color="#310038"/><stop offset="0.9605" stop-color="#27002d"/><stop offset="0.968" stop-color="#2a0030"/><stop offset="0.9718" stop-color="#1e0022"/><stop offset="0.9793" stop-color="#2c0032"/><stop offset="0.9944" stop-color="#210025"/><stop offset="0.9981" stop-color="#2c0032"/></linearGradient><linearGradient id="l10"><stop offset="0.00188" stop-color="#26002b"/><stop offset="0.02068" stop-color="#2f0036"/><stop offset="0.03195" stop-color="#27002d"/><stop offset="0.03947" stop-color="#2b0031"/><stop offset="0.04699" stop-color="#27002d"/><stop offset="0.06579" stop-color="#2c0032"/><stop offset="0.09586" stop-color="#27002d"/><stop offset="0.1071" stop-color="#2d0033"/><stop offset="0.1147" stop-color="#29002f"/><stop offset="0.1222" stop-color="#25002a"/><stop offset="0.1372" stop-color="#2d0034"/><stop offset="0.1447" stop-color="#28002d"/><stop offset="0.1523" stop-color="#2d0033"/><stop offset="0.156" stop-color="#25002a"/><stop offset="0.1748" stop-color="#29002e"/><stop offset="0.1823" stop-color="#28002d"/><stop offset="0.1898" stop-color="#300036"/><stop offset="0.2011" stop-color="#25002a"/><stop offset="0.2049" stop-color="#29002e"/><stop offset="0.2086" stop-color="#570064"/><stop offset="0.2124" stop-color="#780089"/><stop offset="0.2199" stop-color="#860097"/><stop offset="0.2237" stop-color="#70009c"/><stop offset="0.2274" stop-color="#0100aa"/><stop offset="0.2312" stop-color="#0000dc"/><stop offset="0.235" stop-color="#007edd"/><stop offset="0.2538" stop-color="#009ada"/><stop offset="0.2613" stop-color="#00a0c7"/><stop offset="0.2688" stop-color="#00aaaa"/><stop offset="0.2914" stop-color="#00a981"/><stop offset="0.2989" stop-color="#00a03c"/><stop offset="0.3026" stop-color="#009e27"/><stop offset="0.3177" stop-color="#009a0a"/><stop offset="0.3327" stop-color="#009900"/><stop offset="0.3703" stop-color="#009d00"/><stop offset="0.3741" stop-color="#70ff00"/><stop offset="0.3778" stop-color="#00a400"/><stop offset="0.4041" stop-color="#00b500"/><stop offset="0.4229" stop-color="#00bd00"/><stop offset="0.453" stop-color="#00d700"/><stop offset="0.4718" stop-color="#00e400"/><stop offset="0.5094" stop-color="#00f400"/><stop offset="0.5282" stop-color="#00f000"/><stop offset="0.5583" stop-color="#00c800"/><stop offset="0.5658" stop-color="#00b700"/><stop offset="0.5733" stop-color="#009a06"/><stop offset="0.5808" stop-color="#00a55f"/><stop offset="0.5846" stop-color="#00a982"/><stop offset="0.5921" stop-color="#00aa92"/><stop offset="0.6297" stop-color="#00a4bd"/><stop offset="0.641" stop-color="#0096dd"/><stop offset="0.6523" stop-color="#007ddd"/><stop offset="0.6635" stop-color="#006ddd"/><stop offset="0.6823" stop-color="#0022dd"/><stop offset="0.6936" stop-color="#0011dd"/><stop offset="0.7011" stop-color="#0000dd"/><stop offset="0.7237" stop-color="#0000ce"/><stop offset="0.7312" stop-color="#0000cb"/><stop offset="0.735" stop-color="#0000b4"/><stop offset="0.7387" stop-color="#4200a2"/><stop offset="0.7425" stop-color="#0000b8"/><stop offset="0.7462" stop-color="#0095dd"/><stop offset="0.75" stop-color="#001bdd"/><stop offset="0.7538" stop-color="#0000c2"/><stop offset="0.7575" stop-color="#0000c2"/><stop offset="0.7613" stop-color="#003fdd"/><stop offset="0.765" stop-color="#0071dd"/><stop offset="0.7688" stop-color="#0000ca"/><stop offset="0.7726" stop-color="#0000c0"/><stop offset="0.7763" stop-color="#0000c1"/><stop offset="0.7801" stop-color="#0023dd"/><stop offset="0.7838" stop-color="#009dd1"/><stop offset="0.7876" stop-color="#0066dd"/><stop offset="0.7914" stop-color="#0000c1"/><stop offset="0.7951" stop-color="#0000cc"/><stop offset="0.7989" stop-color="#0087dd"/><stop offset="0.8026" stop-color="#0066dd"/><stop offset="0.8064" stop-color="#0000c0"/><stop offset="0.8102" stop-color="#800091"/><stop offset="0.8177" stop-color="#840095"/><stop offset="0.8214" stop-color="#4100a2"/><stop offset="0.8252" stop-color="#60009e"/><stop offset="0.8289" stop-color="#700080"/><stop offset="0.8365" stop-color="#670076"/><stop offset="0.8402" stop-color="#6c007b"/><stop offset="0.844" stop-color="#5c006a"/><stop offset="0.8477" stop-color="#660075"/><stop offset="0.8515" stop-color="#540060"/><stop offset="0.8553" stop-color="#60006e"/><stop offset="0.859" stop-color="#620070"/><stop offset="0.8628" stop-color="#490053"/><stop offset="0.8665" stop-color="#550061"/><stop offset="0.8741" stop-color="#4a0055"/><stop offset="0.8778" stop-color="#4e0059"/><stop offset="0.8816" stop-color="#3f0048"/><stop offset="0.8853" stop-color="#550061"/><stop offset="0.8891" stop-color="#3f0048"/><stop offset="0.8929" stop-color="#3e0047"/><stop offset="0.8966" stop-color="#4e0059"/><stop offset="0.9004" stop-color="#35003c"/><stop offset="0.9041" stop-color="#460050"/><stop offset="0.9192" stop-color="#3b0044"/><stop offset="0.9229" stop-color="#320039"/><stop offset="0.9267" stop-color="#3d0046"/><stop offset="0.9305" stop-color="#33003a"/><stop offset="0.938" stop-color="#3b0043"/><stop offset="0.9455" stop-color="#320039"/><stop offset="0.953" stop-color="#310038"/><stop offset="0.9605" stop-color="#27002d"/><stop offset="0.968" stop-color="#2a0030"/><stop offset="0.9718" stop-color="#1e0022"/><stop offset="0.9793" stop-color="#2c0032"/><stop offset="0.9944" stop-color="#210025"/><stop offset="0.9981" stop-color="#2c0032"/></linearGradient><linearGradient id="l11"><stop offset="0.00188" stop-color="#26002b"/><stop offset="0.02068" stop-color="#2f0036"/><stop offset="0.03195" stop-color="#27002d"/><stop offset="0.03947" stop-color="#2b0031"/><stop offset="0.04699" stop-color="#27002d"/><stop offset="0.06579" stop-color="#2c0032"/><stop offset="0.09586" stop-color="#27002d"/><stop offset="0.1071" stop-color="#2d0033"/><stop offset="0.1147" stop-color="#29002f"/><stop offset="0.1222" stop-color="#25002a"/><stop offset="0.1372" stop-color="#2d0034"/><stop offset="0.1447" stop-color="#28002d"/><stop offset="0.1523" stop-color="#2d0033"/><stop offset="0.156" stop-color="#25002a"/><stop offset="0.1748" stop-color="#29002e"/><stop offset="0.1823" stop-color="#28002d"/><stop offset="0.1898" stop-color="#300036"/><stop offset="0.2011" stop-color="#25002a"/><stop offset="0.2049" stop-color="#29002e"/><stop offset="0.2086" stop-color="#570064"/><stop offset="0.2124" stop-color="#780089"/><stop offset="0.2199" stop-color="#860097"/><stop offset="0.2237" stop-color="#6e009c"/><stop offset="0.2274" stop-color="#0000ad"/><stop offset="0.2312" stop-color="#000add"/><stop offset="0.235" stop-color="#0084dd"/><stop offset="0.25" stop-color="#009bd8"/><stop offset="0.2613" stop-color="#00a6b7"/><stop offset="0.2726" stop-color="#00aa91"/><stop offset="0.2838" stop-color="#00aa88"/><stop offset="0.2951" stop-color="#00a03b"/><stop offset="0.3026" stop-color="#009a00"/><stop offset="0.3289" stop-color="#00a100"/><stop offset="0.3553" stop-color="#00a400"/><stop offset="0.3703" stop-color="#00aa00"/><stop offset="0.3741" stop-color="#e4f100"/><stop offset="0.3778" stop-color="#00ad00"/><stop offset="0.4079" stop-color="#00c100"/><stop offset="0.438" stop-color="#00d400"/><stop offset="0.468" stop-color="#00ea00"/><stop offset="0.5019" stop-color="#00fb00"/><stop offset="0.5357" stop-color="#00f000"/><stop offset="0.5508" stop-color="#00e000"/><stop offset="0.5695" stop-color="#00af00"/><stop offset="0.5771" stop-color="#009a0a"/><stop offset="0.5808" stop-color="#00a037"/><stop offset="0.5921" stop-color="#00aa85"/><stop offset="0.6147" stop-color="#00aaa2"/><stop offset="0.6297" stop-color="#00a8af"/><stop offset="0.641" stop-color="#009bd8"/><stop offset="0.656" stop-color="#0083dd"/><stop offset="0.6711" stop-color="#0076dd"/><stop offset="0.6823" stop-color="#0041dd"/><stop offset="0.6898" stop-color="#0035dd"/><stop offset="0.6974" stop-color="#0017dd"/><stop offset="0.7086" stop-color="#0000dc"/><stop offset="0.7312" stop-color="#0000ce"/><stop offset="0.735" stop-color="#0000b7"/><stop offset="0.7387" stop-color="#3700a3"/><stop offset="0.7425" stop-color="#0000bc"/><stop offset="0.7462" stop-color="#009bd8"/><stop offset="0.75" stop-color="#0025dd"/><stop offset="0.7538" stop-color="#0000c6"/><stop offset="0.7575" stop-color="#0000c6"/><stop offset="0.7613" stop-color="#0045dd"/><stop offset="0.765" stop-color="#0075dd"/><stop offset="0.7688" stop-color="#0000ce"/><stop offset="0.7763" stop-color="#0000c6"/><stop offset="0.7801" stop-color="#0022dd"/><stop offset="0.7838" stop-color="#0098dd"/><stop offset="0.7876" stop-color="#005bdd"/><stop offset="0.7914" stop-color="#0000c6"/><stop offset="0.7951" stop-color="#0000d3"/><stop offset="0.7989" stop-color="#0094dd"/><stop offset="0.8026" stop-color="#007cdd"/><stop offset="0.8064" stop-color="#0000c5"/><stop offset="0.8102" stop-color="#800091"/><stop offset="0.8177" stop-color="#840095"/><stop offset="0.8214" stop-color="#3e00a2"/><stop offset="0.8252" stop-color="#5e009e"/><stop offset="0.8289" stop-color="#700080"/><stop offset="0.8365" stop-color="#670076"/><stop offset="0.8402" stop-color="#6c007b"/><stop offset="0.844" stop-color="#5c006a"/><stop offset="0.8477" stop-color="#660075"/><stop offset="0.8515" stop-color="#540060"/><stop offset="0.8553" stop-color="#60006e"/><stop offset="0.859" stop-color="#620070"/><stop offset="0.8628" stop-color="#490053"/><stop offset="0.8665" stop-color="#550061"/><stop offset="0.8741" stop-color="#4a0055"/><stop offset="0.8778" stop-color="#4e0059"/><stop offset="0.8816" stop-color="#3f0048"/><stop offset="0.8853" stop-color="#550061"/><stop offset="0.8891" stop-color="#3f0048"/><stop offset="0.8929" stop-color="#3e0047"/><stop offset="0.8966" stop-color="#4e0059"/><stop offset="0.9004" stop-color="#35003c"/><stop offset="0.9041" stop-color="#460050"/><stop offset="0.9192" stop-color="#3b0044"/><stop offset="0.9229" stop-color="#320039"/><stop offset="0.9267" stop-color="#3d0046"/><stop offset="0.9305" stop-color="#33003a"/><stop offset="0.938" stop-color="#3b0043"/><stop offset="0.9455" stop-color="#320039"/><stop offset="0.953" stop-color="#310038"/><stop offset="0.9605" stop-color="#27002d"/><stop offset="0.968" stop-color="#2a0030"/><stop offset="0.9718" stop-color="#1e0022"/><stop offset="0.9793" stop-color="#2c0032"/><stop offset="0.9944" stop-color="#210025"/><stop offset="0.9981" stop-color="#2c0032"/></linearGradient><linearGradient id="l12"><stop offset="0.00188" stop-color="#26002b"/><stop offset="0.02068" stop-color="#2f0036"/><stop offset="0.03195" stop-color="#27002d"/><stop offset="0.03947" stop-color="#2b0031"/><stop offset="0.04699" stop-color="#27002d"/><stop offset="0.06579" stop-color="#2c0032"/><stop offset="0.09586" stop-color="#27002d"/><stop offset="0.1071" stop-color="#2d0033"/><stop offset="0.1147" stop-color="#29002f"/><stop offset="0.1222" stop-color="#25002a"/><stop offset="0.1372" stop-color="#2d0034"/><stop offset="0.1447" stop-color="#28002d"/><stop offset="0.1523" stop-color="#2d0033"/><stop offset="0.156" stop-color="#25002a"/><stop offset="0.1748" stop-color="#29002e"/><stop offset="0.1823" stop-color="#28002d"/><stop offset="0.1898" stop-color="#300036"/><stop offset="0.2011" stop-color="#25002a"/><stop offset="0.2049" stop-color="#29002e"/><stop offset="0.2086" stop-color="#570064"/><stop offset="0.2124" stop-color="#780089"/><stop offset="0.2199" stop-color="#860097"/><stop offset="0.2237" stop-color="#6f009c"/><stop offset="0.2274" stop-color="#0000ab"/><stop offset="0.2312" stop-color="#0000dd"/><stop offset="0.235" stop-color="#0080dd"/><stop offset="0.25" stop-color="#0098dd"/><stop offset="0.2613" stop-color="#00a1c4"/><stop offset="0.2688" stop-color="#00aaa6"/><stop offset="0.2876" stop-color="#00aa87"/><stop offset="0.2914" stop-color="#00a874"/><stop offset="0.2989" stop-color="#009f32"/><stop offset="0.3026" stop-color="#009c1a"/><stop offset="0.3139" stop-color="#009a00"/><stop offset="0.3553" stop-color="#009e00"/><stop offset="0.4079" stop-color="#00b600"/><stop offset="0.4267" stop-color="#00c100"/><stop offset="0.4643" stop-color="#00e100"/><stop offset="0.4981" stop-color="#00f500"/><stop offset="0.532" stop-color="#00ec00"/><stop offset="0.5545" stop-color="#00d100"/><stop offset="0.5658" stop-color="#00b800"/><stop offset="0.5733" stop-color="#009a08"/><stop offset="0.5846" stop-color="#00aa86"/><stop offset="0.6222" stop-color="#00a5ba"/><stop offset="0.6335" stop-color="#00a0c8"/><stop offset="0.641" stop-color="#0097dd"/><stop offset="0.6523" stop-color="#0081dd"/><stop offset="0.6635" stop-color="#0075dd"/><stop offset="0.6823" stop-color="#002cdd"/><stop offset="0.6898" stop-color="#0028dd"/><stop offset="0.7049" stop-color="#0000dd"/><stop offset="0.7199" stop-color="#0000d0"/><stop offset="0.7312" stop-color="#0000cb"/><stop offset="0.735" stop-color="#0000b3"/><stop offset="0.7387" stop-color="#4300a2"/><stop offset="0.7425" stop-color="#0000b7"/><stop offset="0.7462" stop-color="#009ecd"/><stop offset="0.75" stop-color="#0026dd"/><stop offset="0.7538" stop-color="#0000c1"/><stop offset="0.7575" stop-color="#0000c3"/><stop offset="0.7613" stop-color="#002edd"/><stop offset="0.765" stop-color="#0058dd"/><stop offset="0.7688" stop-color="#0000c9"/><stop offset="0.7763" stop-color="#0000c2"/><stop offset="0.7801" stop-color="#000cdd"/><stop offset="0.7838" stop-color="#008add"/><stop offset="0.7876" stop-color="#003edd"/><stop offset="0.7914" stop-color="#0000c1"/><stop offset="0.7951" stop-color="#0000cc"/><stop offset="0.7989" stop-color="#0084dd"/><stop offset="0.8026" stop-color="#0060dd"/><stop offset="0.8064" stop-color="#0000c2"/><stop offset="0.8102" stop-color="#800091"/><stop offset="0.8177" stop-color="#840095"/><stop offset="0.8214" stop-color="#3f00a2"/><stop offset="0.8252" stop-color="#5f009e"/><stop offset="0.8289" stop-color="#700080"/><stop offset="0.8365" stop-color="#670076"/><stop offset="0.8402" stop-color="#6c007b"/><stop offset="0.844" stop-color="#5c006a"/><stop offset="0.8477" stop-color="#660075"/><stop offset="0.8515" stop-color="#540060"/><stop offset="0.8553" stop-color="#60006e"/><stop offset="0.859" stop-color="#620070"/><stop offset="0.8628" stop-color="#490053"/><stop offset="0.8665" stop-color="#550061"/><stop offset="0.8741" stop-color="#4a0055"/><stop offset="0.8778" stop-color="#4e0059"/><stop offset="0.8816" stop-color="#3f0048"/><stop offset="0.8853" stop-color="#550061"/><stop offset="0.8891" stop-color="#3f0048"/><stop offset="0.8929" stop-color="#3e0047"/><stop offset="0.8966" stop-color="#4e0059"/><stop offset="0.9004" stop-color="#35003c"/><stop offset="0.9041" stop-color="#460050"/><stop offset="0.9192" stop-color="#3b0044"/><stop offset="0.9229" stop-color="#320039"/><stop offset="0.9267" stop-color="#3d0046"/><stop offset="0.9305" stop-color="#33003a"/><stop offset="0.938" stop-color="#3b0043"/><stop offset="0.9455" stop-color="#320039"/><stop offset="0.953" stop-color="#310038"/><stop offset="0.9605" stop-color="#27002d"/><stop offset="0.968" stop-color="#2a0030"/><stop offset="0.9718" stop-color="#1e0022"/><stop offset="0.9793" stop-color="#2c0032"/><stop offset="0.9944" stop-color="#210025"/><stop offset="0.9981" stop-color="#2c0032"/></linearGradient><linearGradient id="l13"><stop offset="0.00188" stop-color="#26002b"/><stop offset="0.02068" stop-color="#2f0036"/><stop offset="0.03195" stop-color="#27002d"/><stop offset="0.03947" stop-color="#2b0031"/><stop offset="0.04699" stop-color="#27002d"/><stop offset="0.06579" stop-color="#2c0032"/><stop offset="0.09586" stop-color="#27002d"/><stop offset="0.1071" stop-color="#2d0033"/><stop offset="0.1147" stop-color="#29002f"/><stop offset="0.1222" stop-color="#25002a"/><stop offset="0.1372" stop-color="#2d0034"/><stop offset="0.1447" stop-color="#28002d"/><stop offset="0.1523" stop-color="#2d0033"/><stop offset="0.156" stop-color="#25002a"/><stop offset="0.1748" stop-color="#29002e"/><stop offset="0.1823" stop-color="#28002d"/><stop offset="0.1898" stop-color="#300036"/><stop offset="0.2011" stop-color="#25002a"/><stop offset="0.2049" stop-color="#29002e"/><stop offset="0.2086" stop-color="#570064"/><stop offset="0.2124" stop-color="#780089"/><stop offset="0.2199" stop-color="#860097"/><stop offset="0.2237" stop-color="#6e009c"/><stop offset="0.2274" stop-color="#0000ad"/><stop offset="0.2312" stop-color="#000ddd"/><stop offset="0.235" stop-color="#0086dd"/><stop offset="0.2462" stop-color="#009bd8"/><stop offset="0.2613" stop-color="#00a6b5"/><stop offset="0.2726" stop-color="#00aa94"/><stop offset="0.2838" stop-color="#00a981"/><stop offset="0.2989" stop-color="#009a06"/><stop offset="0.3139" stop-color="#00a300"/><stop offset="0.3289" stop-color="#00a400"/><stop offset="0.3703" stop-color="#00a800"/><stop offset="0.3741" stop-color="#f10000"/><stop offset="0.3778" stop-color="#00ad00"/><stop offset="0.4079" stop-color="#00c000"/><stop offset="0.4192" stop-color="#00c400"/><stop offset="0.4229" stop-color="#4bff00"/><stop offset="0.4267" stop-color="#00cb00"/><stop offset="0.4643" stop-color="#00eb00"/><stop offset="0.4906" stop-color="#00fd00"/><stop offset="0.4981" stop-color="#12ff00"/><stop offset="0.5132" stop-color="#00fb00"/><stop offset="0.532" stop-color="#00f800"/><stop offset="0.5545" stop-color="#00da00"/><stop offset="0.5658" stop-color="#00c200"/><stop offset="0.5771" stop-color="#009900"/><stop offset="0.5808" stop-color="#00a036"/><stop offset="0.5883" stop-color="#00a773"/><stop offset="0.5921" stop-color="#00aa8a"/><stop offset="0.6259" stop-color="#00aaa9"/><stop offset="0.6335" stop-color="#00a6b7"/><stop offset="0.6447" stop-color="#0095dd"/><stop offset="0.656" stop-color="#0083dd"/><stop offset="0.6673" stop-color="#0077dd"/><stop offset="0.6823" stop-color="#0041dd"/><stop offset="0.6898" stop-color="#0039dd"/><stop offset="0.7011" stop-color="#0010dd"/><stop offset="0.7086" stop-color="#0000db"/><stop offset="0.7312" stop-color="#0000ce"/><stop offset="0.735" stop-color="#0000b6"/><stop offset="0.7387" stop-color="#3900a3"/><stop offset="0.7425" stop-color="#0000bb"/><stop offset="0.7462" stop-color="#00a2c1"/><stop offset="0.75" stop-color="#0038dd"/><stop offset="0.7538" stop-color="#0000c7"/><stop offset="0.7575" stop-color="#0000c8"/><stop offset="0.7613" stop-color="#0031dd"/><stop offset="0.765" stop-color="#005add"/><stop offset="0.7688" stop-color="#0000cd"/><stop offset="0.7763" stop-color="#0000c6"/><stop offset="0.7801" stop-color="#0033dd"/><stop offset="0.7838" stop-color="#00a1c5"/><stop offset="0.7876" stop-color="#0077dd"/><stop offset="0.7914" stop-color="#0000c6"/><stop offset="0.7951" stop-color="#0000d4"/><stop offset="0.7989" stop-color="#009cd5"/><stop offset="0.8026" stop-color="#0084dd"/><stop offset="0.8064" stop-color="#0000c5"/><stop offset="0.8102" stop-color="#800091"/><stop offset="0.8177" stop-color="#840095"/><stop offset="0.8214" stop-color="#3e00a2"/><stop offset="0.8252" stop-color="#5e009e"/><stop offset="0.8289" stop-color="#700080"/><stop offset="0.8365" stop-color="#670076"/><stop offset="0.8402" stop-color="#6c007b"/><stop offset="0.844" stop-color="#5c006a"/><stop offset="0.8477" stop-color="#660075"/><stop offset="0.8515" stop-color="#540060"/><stop offset="0.8553" stop-color="#60006e"/><stop offset="0.859" stop-color="#620070"/><stop offset="0.8628" stop-color="#490053"/><stop offset="0.8665" stop-color="#550061"/><stop offset="0.8741" stop-color="#4a0055"/><stop offset="0.8778" stop-color="#4e0059"/><stop offset="0.8816" stop-color="#3f0048"/><stop offset="0.8853" stop-color="#550061"/><stop offset="0.8891" stop-color="#3f0048"/><stop offset="0.8929" stop-color="#3e0047"/><stop offset="0.8966" stop-color="#4e0059"/><stop offset="0.9004" stop-color="#35003c"/><stop offset="0.9041" stop-color="#460050"/><stop offset="0.9192" stop-color="#3b0044"/><stop offset="0.9229" stop-color="#320039"/><stop offset="0.9267" stop-color="#3d0046"/><stop offset="0.9305" stop-color="#33003a"/><stop offset="0.938" stop-color="#3b0043"/><stop offset="0.9455" stop-color="#320039"/><stop offset="0.953" stop-color="#310038"/><stop offset="0.9605" stop-color="#27002d"/><stop offset="0.968" stop-color="#2a0030"/><stop offset="0.9718" stop-color="#1e0022"/><stop offset="0.9793" stop-color="#2c0032"/><stop offset="0.9944" stop-color="#210025"/><stop offset="0.9981" stop-color="#2c0032"/></linearGradient><linearGradient id="l14"><stop offset="0.00188" stop-color="#26002b"/><stop offset="0.02068" stop-color="#2f0036"/><stop offset="0.03195" stop-color="#27002d"/><stop offset="0.03947" stop-color="#2b0031"/><stop offset="0.04699" stop-color="#27002d"/><stop offset="0.06579" stop-color="#2c0032"/><stop offset="0.09586" stop-color="#27002d"/><stop offset="0.1071" stop-color="#2d0033"/><stop offset="0.1147" stop-color="#29002f"/><stop offset="0.1222" stop-color="#25002a"/><stop offset="0.1372" stop-color="#2d0034"/><stop offset="0.1447" stop-color="#28002d"/><stop offset="0.1523" stop-color="#2d0033"/><stop offset="0.156" stop-color="#25002a"/><stop offset="0.1748" stop-color="#29002e"/><stop offset="0.1823" stop-color="#28002d"/><stop offset="0.1898" stop-color="#300036"/><stop offset="0.2011" stop-color="#25002a"/><stop offset="0.2049" stop-color="#29002e"/><stop offset="0.2086" stop-color="#570064"/><stop offset="0.2124" stop-color="#780089"/><stop offset="0.2199" stop-color="#860097"/><stop offset="0.2237" stop-color="#6e009c"/><stop offset="0.2274" stop-color="#0000ac"/><stop offset="0.2312" stop-color="#0005dd"/><stop offset="0.235" stop-color="#0082dd"/><stop offset="0.2462" stop-color="#009ada"/><stop offset="0.2613" stop-color="#00a6b7"/><stop offset="0.2688" stop-color="#00aaa0"/><stop offset="0.2838" stop-color="#00aa8a"/><stop offset="0.2914" stop-color="#00a667"/><stop offset="0.2989" stop-color="#009d22"/><stop offset="0.3064" stop-color="#009900"/><stop offset="0.3252" stop-color="#00a400"/><stop offset="0.3365" stop-color="#009c00"/><stop offset="0.3515" stop-color="#009d00"/><stop offset="0.4192" stop-color="#00c100"/><stop offset="0.4229" stop-color="#c5fc00"/><stop offset="0.4267" stop-color="#00c700"/><stop offset="0.4605" stop-color="#00e900"/><stop offset="0.4831" stop-color="#00f000"/><stop offset="0.5056" stop-color="#00fc00"/><stop offset="0.5395" stop-color="#00ea00"/><stop offset="0.5545" stop-color="#00d600"/><stop offset="0.5658" stop-color="#00bd00"/><stop offset="0.5771" stop-color="#009902"/><stop offset="0.5808" stop-color="#00a036"/><stop offset="0.5883" stop-color="#00a877"/><stop offset="0.5921" stop-color="#00aa89"/><stop offset="0.6222" stop-color="#00a7b2"/><stop offset="0.6297" stop-color="#00a7b4"/><stop offset="0.6372" stop-color="#00a1c5"/><stop offset="0.641" stop-color="#009bd6"/><stop offset="0.6523" stop-color="#0085dd"/><stop offset="0.6673" stop-color="#0077dd"/><stop offset="0.6823" stop-color="#003fdd"/><stop offset="0.6974" stop-color="#001ddd"/><stop offset="0.7086" stop-color="#0000da"/><stop offset="0.7312" stop-color="#0000d0"/><stop offset="0.735" stop-color="#0000b8"/><stop offset="0.7387" stop-color="#3700a3"/><stop offset="0.7425" stop-color="#0000bc"/><stop offset="0.7462" stop-color="#00a5ba"/><stop offset="0.75" stop-color="#003cdd"/><stop offset="0.7538" stop-color="#0000c4"/><stop offset="0.7575" stop-color="#0000c5"/><stop offset="0.7613" stop-color="#0054dd"/><stop offset="0.765" stop-color="#007cdd"/><stop offset="0.7688" stop-color="#0000ce"/><stop offset="0.7726" stop-color="#0000c4"/><stop offset="0.7763" stop-color="#0000c5"/><stop offset="0.7801" stop-color="#0031dd"/><stop offset="0.7838" stop-color="#00a1c5"/><stop offset="0.7876" stop-color="#0078dd"/><stop offset="0.7914" stop-color="#0000c5"/><stop offset="0.7951" stop-color="#0000d2"/><stop offset="0.7989" stop-color="#0094dd"/><stop offset="0.8026" stop-color="#007cdd"/><stop offset="0.8064" stop-color="#0000c5"/><stop offset="0.8102" stop-color="#800091"/><stop offset="0.8177" stop-color="#840095"/><stop offset="0.8214" stop-color="#3e00a2"/><stop offset="0.8252" stop-color="#5e009e"/><stop offset="0.8289" stop-color="#700080"/><stop offset="0.8365" stop-color="#670076"/><stop offset="0.8402" stop-color="#6c007b"/><stop offset="0.844" stop-color="#5c006a"/><stop offset="0.8477" stop-color="#660075"/><stop offset="0.8515" stop-color="#540060"/><stop offset="0.8553" stop-color="#60006e"/><stop offset="0.859" stop-color="#620070"/><stop offset="0.8628" stop-color="#490053"/><stop offset="0.8665" stop-color="#550061"/><stop offset="0.8741" stop-color="#4a0055"/><stop offset="0.8778" stop-color="#4e0059"/><stop offset="0.8816" stop-color="#3f0048"/><stop offset="0.8853" stop-color="#550061"/><stop offset="0.8891" stop-color="#3f0048"/><stop offset="0.8929" stop-color="#3e0047"/><stop offset="0.8966" stop-color="#4e0059"/><stop offset="0.9004" stop-color="#35003c"/><stop offset="0.9041" stop-color="#460050"/><stop offset="0.9192" stop-color="#3b0044"/><stop offset="0.9229" stop-color="#320039"/><stop offset="0.9267" stop-color="#3d0046"/><stop offset="0.9305" stop-color="#33003a"/><stop offset="0.938" stop-color="#3b0043"/><stop offset="0.9455" stop-color="#320039"/><stop offset="0.953" stop-color="#310038"/><stop offset="0.9605" stop-color="#27002d"/><stop offset="0.968" stop-color="#2a0030"/><stop offset="0.9718" stop-color="#1e0022"/><stop offset="0.9793" stop-color="#2c0032"/><stop offset="0.9944" stop-color="#210025"/><stop offset="0.9981" stop-color="#2c0032"/></linearGradient><linearGradient id="l15"><stop offset="0.00188" stop-color="#26002b"/><stop offset="0.02068" stop-color="#2f0036"/><stop offset="0.03195" stop-color="#27002d"/><stop offset="0.03947" stop-color="#2b0031"/><stop offset="0.04699" stop-color="#27002d"/><stop offset="0.06579" stop-color="#2c0032"/><stop offset="0.09586" stop-color="#27002d"/><stop offset="0.1071" stop-color="#2d0033"/><stop offset="0.1147" stop-color="#29002f"/><stop offset="0.1222" stop-color="#25002a"/><stop offset="0.1372" stop-color="#2d0034"/><stop offset="0.1447" stop-color="#28002d"/><stop offset="0.1523" stop-color="#2d0033"/><stop offset="0.156" stop-color="#25002a"/><stop offset="0.1748" stop-color="#29002e"/><stop offset="0.1823" stop-color="#28002d"/><stop offset="0.1898" stop-color="#300036"/><stop offset="0.2011" stop-color="#25002a"/><stop offset="0.2049" stop-color="#29002e"/><stop offset="0.2086" stop-color="#570064"/><stop offset="0.2124" stop-color="#780089"/><stop offset="0.2199" stop-color="#860097"/><stop offset="0.2237" stop-color="#6f009c"/><stop offset="0.2274" stop-color="#0000aa"/><stop offset="0.2312" stop-color="#0000dc"/><stop offset="0.235" stop-color="#007edd"/><stop offset="0.25" stop-color="#0098dd"/><stop offset="0.2613" stop-color="#00a3bf"/><stop offset="0.265" stop-color="#00a9ac"/><stop offset="0.2763" stop-color="#00aa95"/><stop offset="0.2876" stop-color="#00aa89"/><stop offset="0.3026" stop-color="#009c18"/><stop offset="0.3064" stop-color="#009a06"/><stop offset="0.3214" stop-color="#00a400"/><stop offset="0.3515" stop-color="#009c00"/><stop offset="0.4079" stop-color="#00b500"/><stop offset="0.4192" stop-color="#00ba00"/><stop offset="0.4229" stop-color="#f5e000"/><stop offset="0.4267" stop-color="#00c100"/><stop offset="0.468" stop-color="#00e600"/><stop offset="0.4906" stop-color="#00ee00"/><stop offset="0.5169" stop-color="#00f500"/><stop offset="0.547" stop-color="#00e000"/><stop offset="0.5583" stop-color="#00ce00"/><stop offset="0.562" stop-color="#00c000"/><stop offset="0.5658" stop-color="#00bc00"/><stop offset="0.5733" stop-color="#009f00"/><stop offset="0.5771" stop-color="#009b14"/><stop offset="0.5808" stop-color="#00a350"/><stop offset="0.5846" stop-color="#00a874"/><stop offset="0.5883" stop-color="#00aa8b"/><stop offset="0.6184" stop-color="#00a8b0"/><stop offset="0.6297" stop-color="#00a6b5"/><stop offset="0.6372" stop-color="#00a0c7"/><stop offset="0.641" stop-color="#009ad9"/><stop offset="0.656" stop-color="#0080dd"/><stop offset="0.6635" stop-color="#0078dd"/><stop offset="0.6823" stop-color="#0031dd"/><stop offset="0.6936" stop-color="#001ddd"/><stop offset="0.7011" stop-color="#0006dd"/><stop offset="0.7312" stop-color="#0000cb"/><stop offset="0.735" stop-color="#0000b3"/><stop offset="0.7387" stop-color="#4000a2"/><stop offset="0.7425" stop-color="#0000ba"/><stop offset="0.7462" stop-color="#0096dd"/><stop offset="0.75" stop-color="#001edd"/><stop offset="0.7538" stop-color="#0000c4"/><stop offset="0.7575" stop-color="#0000c5"/><stop offset="0.7613" stop-color="#003bdd"/><stop offset="0.765" stop-color="#0069dd"/><stop offset="0.7688" stop-color="#0000ca"/><stop offset="0.7726" stop-color="#0000c0"/><stop offset="0.7763" stop-color="#0000c0"/><stop offset="0.7801" stop-color="#0016dd"/><stop offset="0.7838" stop-color="#0097dd"/><stop offset="0.7876" stop-color="#0053dd"/><stop offset="0.7914" stop-color="#0000c1"/><stop offset="0.7951" stop-color="#0000cd"/><stop offset="0.7989" stop-color="#008bdd"/><stop offset="0.8026" stop-color="#0073dd"/><stop offset="0.8064" stop-color="#0000c2"/><stop offset="0.8102" stop-color="#800091"/><stop offset="0.8177" stop-color="#840095"/><stop offset="0.8214" stop-color="#4100a2"/><stop offset="0.8252" stop-color="#60009e"/><stop offset="0.8289" stop-color="#700080"/><stop offset="0.8365" stop-color="#670076"/><stop offset="0.8402" stop-color="#6c007b"/><stop offset="0.844" stop-color="#5c006a"/><stop offset="0.8477" stop-color="#660075"/><stop offset="0.8515" stop-color="#540060"/><stop offset="0.8553" stop-color="#60006e"/><stop offset="0.859" stop-color="#620070"/><stop offset="0.8628" stop-color="#490053"/><stop offset="0.8665" stop-color="#550061"/><stop offset="0.8741" stop-color="#4a0055"/><stop offset="0.8778" stop-color="#4e0059"/><stop offset="0.8816" stop-color="#3f0048"/><stop offset="0.8853" stop-color="#550061"/><stop offset="0.8891" stop-color="#3f0048"/><stop offset="0.8929" stop-color="#3e0047"/><stop offset="0.8966" stop-color="#4e0059"/><stop offset="0.9004" stop-color="#35003c"/><stop offset="0.9041" stop-color="#460050"/><stop offset="0.9192" stop-color="#3b0044"/><stop offset="0.9229" stop-color="#320039"/><stop offset="0.9267" stop-color="#3d0046"/><stop offset="0.9305" stop-color="#33003a"/><stop offset="0.938" stop-color="#3b0043"/><stop offset="0.9455" stop-color="#320039"/><stop offset="0.953" stop-color="#310038"/><stop offset="0.9605" stop-color="#27002d"/><stop offset="0.968" stop-color="#2a0030"/><stop offset="0.9718" stop-color="#1e0022"/><stop offset="0.9793" stop-color="#2c0032"/><stop offset="0.9944" stop-color="#210025"/><stop offset="0.9981" stop-color="#2c0032"/></linearGradient><linearGradient id="l16"><stop offset="0.00188" stop-color="#26002b"/><stop offset="0.02068" stop-color="#2f0036"/><stop offset="0.03195" stop-color="#27002d"/><stop offset="0.03947" stop-color="#2b0031"/><stop offset="0.04699" stop-color="#27002d"/><stop offset="0.06579" stop-color="#2c0032"/><stop offset="0.09586" stop-color="#27002d"/><stop offset="0.1071" stop-color="#2d0033"/><stop offset="0.1147" stop-color="#29002f"/><stop offset="0.1222" stop-color="#25002a"/><stop offset="0.1372" stop-color="#2d0034"/><stop offset="0.1447" stop-color="#28002d"/><stop offset="0.1523" stop-color="#2d0033"/><stop offset="0.156" stop-color="#25002a"/><stop offset="0.1748" stop-color="#29002e"/><stop offset="0.1823" stop-color="#28002d"/><stop offset="0.1898" stop-color="#300036"/><stop offset="0.2011" stop-color="#25002a"/><stop offset="0.2049" stop-color="#29002e"/><stop offset="0.2086" stop-color="#570064"/><stop offset="0.2124" stop-color="#780089"/><stop offset="0.2199" stop-color="#860097"/><stop offset="0.2237" stop-color="#70009c"/><stop offset="0.2274" stop-color="#0500a9"/><stop offset="0.2312" stop-color="#0000d8"/><stop offset="0.235" stop-color="#007bdd"/><stop offset="0.2538" stop-color="#009bd8"/><stop offset="0.2613" stop-color="#00a1c6"/><stop offset="0.2688" stop-color="#00aaa9"/><stop offset="0.2914" stop-color="#00aa8c"/><stop offset="0.2951" stop-color="#00a878"/><stop offset="0.3026" stop-color="#00a140"/><stop offset="0.3139" stop-color="#009c18"/><stop offset="0.3214" stop-color="#009901"/><stop offset="0.3289" stop-color="#009a0a"/><stop offset="0.3327" stop-color="#009c15"/><stop offset="0.3402" stop-color="#009b10"/><stop offset="0.344" stop-color="#009d1f"/><stop offset="0.3477" stop-color="#009d1c"/><stop offset="0.3553" stop-color="#009b00"/><stop offset="0.3816" stop-color="#00a200"/><stop offset="0.4079" stop-color="#00ae00"/><stop offset="0.4192" stop-color="#00b100"/><stop offset="0.4229" stop-color="#c5fc00"/><stop offset="0.4267" stop-color="#00b900"/><stop offset="0.4643" stop-color="#00d900"/><stop offset="0.4944" stop-color="#00ee00"/><stop offset="0.5282" stop-color="#00ed00"/><stop offset="0.5508" stop-color="#00d100"/><stop offset="0.5658" stop-color="#00b400"/><stop offset="0.5695" stop-color="#00a300"/><stop offset="0.5733" stop-color="#009b11"/><stop offset="0.5808" stop-color="#00a76e"/><stop offset="0.5846" stop-color="#00aa87"/><stop offset="0.6071" stop-color="#00aaaa"/><stop offset="0.6147" stop-color="#00a6b7"/><stop offset="0.6335" stop-color="#009fca"/><stop offset="0.641" stop-color="#0092dd"/><stop offset="0.6635" stop-color="#0069dd"/><stop offset="0.6823" stop-color="#0024dd"/><stop offset="0.6936" stop-color="#0014dd"/><stop offset="0.7011" stop-color="#0000dd"/><stop offset="0.7312" stop-color="#0000c9"/><stop offset="0.735" stop-color="#0000b1"/><stop offset="0.7387" stop-color="#4900a1"/><stop offset="0.7425" stop-color="#0000b6"/><stop offset="0.7462" stop-color="#00a0c8"/><stop offset="0.75" stop-color="#0029dd"/><stop offset="0.7538" stop-color="#0000bf"/><stop offset="0.7575" stop-color="#0000bf"/><stop offset="0.7613" stop-color="#0021dd"/><stop offset="0.765" stop-color="#0049dd"/><stop offset="0.7688" stop-color="#0000c6"/><stop offset="0.7763" stop-color="#0000bf"/><stop offset="0.7801" stop-color="#002ddd"/><stop offset="0.7838" stop-color="#00a2c1"/><stop offset="0.7876" stop-color="#0078dd"/><stop offset="0.7914" stop-color="#0000c1"/><stop offset="0.7951" stop-color="#0000cd"/><stop offset="0.7989" stop-color="#008bdd"/><stop offset="0.8026" stop-color="#006edd"/><stop offset="0.8064" stop-color="#0000c0"/><stop offset="0.8102" stop-color="#800091"/><stop offset="0.8177" stop-color="#840095"/><stop offset="0.8214" stop-color="#4300a2"/><stop offset="0.8252" stop-color="#62009e"/><stop offset="0.8289" stop-color="#700080"/><stop offset="0.8365" stop-color="#670076"/><stop offset="0.8402" stop-color="#6c007b"/><stop offset="0.844" stop-color="#5c006a"/><stop offset="0.8477" stop-color="#660075"/><stop offset="0.8515" stop-color="#540060"/><stop offset="0.8553" stop-color="#60006e"/><stop offset="0.859" stop-color="#620070"/><stop offset="0.8628" stop-color="#490053"/><stop offset="0.8665" stop-color="#550061"/><stop offset="0.8741" stop-color="#4a0055"/><stop offset="0.8778" stop-color="#4e0059"/><stop offset="0.8816" stop-color="#3f0048"/><stop offset="0.8853" stop-color="#550061"/><stop offset="0.8891" stop-color="#3f0048"/><stop offset="0.8929" stop-color="#3e0047"/><stop offset="0.8966" stop-color="#4e0059"/><stop offset="0.9004" stop-color="#35003c"/><stop offset="0.9041" stop-color="#460050"/><stop offset="0.9192" stop-color="#3b0044"/><stop offset="0.9229" stop-color="#320039"/><stop offset="0.9267" stop-color="#3d0046"/><stop offset="0.9305" stop-color="#33003a"/><stop offset="0.938" stop-color="#3b0043"/><stop offset="0.9455" stop-color="#320039"/><stop offset="0.953" stop-color="#310038"/><stop offset="0.9605" stop-color="#27002d"/><stop offset="0.968" stop-color="#2a0030"/><stop offset="0.9718" stop-color="#1e0022"/><stop offset="0.9793" stop-color="#2c0032"/><stop offset="0.9944" stop-color="#210025"/><stop offset="0.9981" stop-color="#2c0032"/></linearGradient><linearGradient id="l17"><stop offset="0.00188" stop-color="#26002b"/><stop offset="0.02068" stop-color="#2f0036"/><stop offset="0.03195" stop-color="#27002d"/><stop offset="0.03947" stop-color="#2b0031"/><stop offset="0.04699" stop-color="#27002d"/><stop offset="0.06579" stop-color="#2c0032"/><stop offset="0.09586" stop-color="#27002d"/><stop offset="0.1071" stop-color="#2d0033"/><stop offset="0.1147" stop-color="#29002f"/><stop offset="0.1222" stop-color="#25002a"/><stop offset="0.1372" stop-color="#2d0034"/><stop offset="0.1447" stop-color="#28002d"/><stop offset="0.1523" stop-color="#2d0033"/><stop offset="0.156" stop-color="#25002a"/><stop offset="0.1748" stop-color="#29002e"/><stop offset="0.1823" stop-color="#28002d"/><stop offset="0.1898" stop-color="#300036"/><stop offset="0.2011" stop-color="#25002a"/><stop offset="0.2049" stop-color="#29002e"/><stop offset="0.2086" stop-color="#570064"/><stop offset="0.2124" stop-color="#780089"/><stop offset="0.2199" stop-color="#860097"/><stop offset="0.2237" stop-color="#6e009c"/><stop offset="0.2274" stop-color="#0000ad"/><stop offset="0.2312" stop-color="#000cdd"/><stop offset="0.235" stop-color="#0085dd"/><stop offset="0.25" stop-color="#009ad9"/><stop offset="0.2613" stop-color="#00a4bc"/><stop offset="0.2688" stop-color="#00aaa0"/><stop offset="0.2838" stop-color="#00aa8b"/><stop offset="0.2914" stop-color="#00a561"/><stop offset="0.2989" stop-color="#009b12"/><stop offset="0.3026" stop-color="#009900"/><stop offset="0.3289" stop-color="#009f00"/><stop offset="0.3515" stop-color="#009d00"/><stop offset="0.4079" stop-color="#00bd00"/><stop offset="0.438" stop-color="#00ce00"/><stop offset="0.4643" stop-color="#00e700"/><stop offset="0.4981" stop-color="#00fb00"/><stop offset="0.532" stop-color="#00f300"/><stop offset="0.5545" stop-color="#00d500"/><stop offset="0.5695" stop-color="#00ae00"/><stop offset="0.5733" stop-color="#00a000"/><stop offset="0.5771" stop-color="#009c16"/><stop offset="0.5883" stop-color="#00a983"/><stop offset="0.6147" stop-color="#00aaa9"/><stop offset="0.6335" stop-color="#00a3bf"/><stop offset="0.641" stop-color="#009ada"/><stop offset="0.656" stop-color="#0084dd"/><stop offset="0.6673" stop-color="#0075dd"/><stop offset="0.6823" stop-color="#0035dd"/><stop offset="0.6898" stop-color="#0030dd"/><stop offset="0.7011" stop-color="#000fdd"/><stop offset="0.7124" stop-color="#0000d8"/><stop offset="0.7312" stop-color="#0000cd"/><stop offset="0.735" stop-color="#0000b6"/><stop offset="0.7387" stop-color="#3d00a2"/><stop offset="0.7425" stop-color="#0000bb"/><stop offset="0.7462" stop-color="#008edd"/><stop offset="0.75" stop-color="#0018dd"/><stop offset="0.7538" stop-color="#0000c5"/><stop offset="0.7575" stop-color="#0000c5"/><stop offset="0.7613" stop-color="#002add"/><stop offset="0.765" stop-color="#004edd"/><stop offset="0.7688" stop-color="#0000cc"/><stop offset="0.7763" stop-color="#0000c4"/><stop offset="0.7801" stop-color="#002edd"/><stop offset="0.7838" stop-color="#00a0c7"/><stop offset="0.7876" stop-color="#0077dd"/><stop offset="0.7914" stop-color="#0000c3"/><stop offset="0.7951" stop-color="#0000d1"/><stop offset="0.7989" stop-color="#0099dd"/><stop offset="0.8026" stop-color="#0080dd"/><stop offset="0.8064" stop-color="#0000c5"/><stop offset="0.8102" stop-color="#800091"/><stop offset="0.8177" stop-color="#840095"/><stop offset="0.8214" stop-color="#3f00a2"/><stop offset="0.8252" stop-color="#5f009e"/><stop offset="0.8289" stop-color="#700080"/><stop offset="0.8365" stop-color="#670076"/><stop offset="0.8402" stop-color="#6c007b"/><stop offset="0.844" stop-color="#5c006a"/><stop offset="0.8477" stop-color="#660075"/><stop offset="0.8515" stop-color="#540060"/><stop offset="0.8553" stop-color="#60006e"/><stop offset="0.859" stop-color="#620070"/><stop offset="0.8628" stop-color="#490053"/><stop offset="0.8665" stop-color="#550061"/><stop offset="0.8741" stop-color="#4a0055"/><stop offset="0.8778" stop-color="#4e0059"/><stop offset="0.8816" stop-color="#3f0048"/><stop offset="0.8853" stop-color="#550061"/><stop offset="0.8891" stop-color="#3f0048"/><stop offset="0.8929" stop-color="#3e0047"/><stop offset="0.8966" stop-color="#4e0059"/><stop offset="0.9004" stop-color="#35003c"/><stop offset="0.9041" stop-color="#460050"/><stop offset="0.9192" stop-color="#3b0044"/><stop offset="0.9229" stop-color="#320039"/><stop offset="0.9267" stop-color="#3d0046"/><stop offset="0.9305" stop-color="#33003a"/><stop offset="0.938" stop-color="#3b0043"/><stop offset="0.9455" stop-color="#320039"/><stop offset="0.953" stop-color="#310038"/><stop offset="0.9605" stop-color="#27002d"/><stop offset="0.968" stop-color="#2a0030"/><stop offset="0.9718" stop-color="#1e0022"/><stop offset="0.9793" stop-color="#2c0032"/><stop offset="0.9944" stop-color="#210025"/><stop offset="0.9981" stop-color="#2c0032"/></linearGradient><linearGradient id="l18"><stop offset="0.00188" stop-color="#26002b"/><stop offset="0.02068" stop-color="#2f0036"/><stop offset="0.03195" stop-color="#27002d"/><stop offset="0.03947" stop-color="#2b0031"/><stop offset="0.04699" stop-color="#27002d"/><stop offset="0.06579" stop-color="#2c0032"/><stop offset="0.09586" stop-color="#27002d"/><stop offset="0.1071" stop-color="#2d0033"/><stop offset="0.1147" stop-color="#29002f"/><stop offset="0.1222" stop-color="#25002a"/><stop offset="0.1372" stop-color="#2d0034"/><stop offset="0.1447" stop-color="#28002d"/><stop offset="0.1523" stop-color="#2d0033"/><stop offset="0.156" stop-color="#25002a"/><stop offset="0.1748" stop-color="#29002e"/><stop offset="0.1823" stop-color="#28002d"/><stop offset="0.1898" stop-color="#300036"/><stop offset="0.2011" stop-color="#25002a"/><stop offset="0.2049" stop-color="#29002e"/><stop offset="0.2086" stop-color="#570064"/><stop offset="0.2124" stop-color="#780089"/><stop offset="0.2199" stop-color="#860097"/><stop offset="0.2237" stop-color="#70009c"/><stop offset="0.2274" stop-color="#0500a9"/><stop offset="0.2312" stop-color="#0000d8"/><stop offset="0.235" stop-color="#007add"/><stop offset="0.2538" stop-color="#0099dc"/><stop offset="0.2613" stop-color="#009fcc"/><stop offset="0.2726" stop-color="#00aaa0"/><stop offset="0.2914" stop-color="#00aa8a"/><stop offset="0.2951" stop-color="#00a876"/><stop offset="0.2989" stop-color="#00a354"/><stop offset="0.3026" stop-color="#00a13f"/><stop offset="0.3139" stop-color="#009d1e"/><stop offset="0.3252" stop-color="#009b10"/><stop offset="0.3327" stop-color="#009e2a"/><stop offset="0.3402" stop-color="#009d21"/><stop offset="0.3477" stop-color="#009f30"/><stop offset="0.3553" stop-color="#009c17"/><stop offset="0.3665" stop-color="#009a0c"/><stop offset="0.3703" stop-color="#009a00"/><stop offset="0.3741" stop-color="#cff800"/><stop offset="0.3778" stop-color="#00a100"/><stop offset="0.4041" stop-color="#00b100"/><stop offset="0.4192" stop-color="#00b100"/><stop offset="0.4605" stop-color="#00d800"/><stop offset="0.4793" stop-color="#00de00"/><stop offset="0.4981" stop-color="#00f100"/><stop offset="0.532" stop-color="#00e500"/><stop offset="0.5583" stop-color="#00c300"/><stop offset="0.5695" stop-color="#00a000"/><stop offset="0.5733" stop-color="#009c1b"/><stop offset="0.5808" stop-color="#00a97f"/><stop offset="0.5921" stop-color="#00aa97"/><stop offset="0.6071" stop-color="#00aaab"/><stop offset="0.6222" stop-color="#00a2c3"/><stop offset="0.6297" stop-color="#00a1c5"/><stop offset="0.641" stop-color="#0092dd"/><stop offset="0.6523" stop-color="#007add"/><stop offset="0.656" stop-color="#0078dd"/><stop offset="0.6748" stop-color="#003fdd"/><stop offset="0.6823" stop-color="#0025dd"/><stop offset="0.6898" stop-color="#001ddd"/><stop offset="0.7011" stop-color="#0000dc"/><stop offset="0.7312" stop-color="#0000c7"/><stop offset="0.735" stop-color="#0000ae"/><stop offset="0.7387" stop-color="#4c00a1"/><stop offset="0.7425" stop-color="#0000b5"/><stop offset="0.7462" stop-color="#009dd1"/><stop offset="0.75" stop-color="#001fdd"/><stop offset="0.7538" stop-color="#0000bf"/><stop offset="0.7575" stop-color="#0000c0"/><stop offset="0.7613" stop-color="#004edd"/><stop offset="0.765" stop-color="#007cdd"/><stop offset="0.7688" stop-color="#0000c9"/><stop offset="0.7763" stop-color="#0000be"/><stop offset="0.7801" stop-color="#0024dd"/><stop offset="0.7838" stop-color="#00a1c5"/><stop offset="0.7876" stop-color="#006edd"/><stop offset="0.7914" stop-color="#0000bd"/><stop offset="0.7951" stop-color="#0000c9"/><stop offset="0.7989" stop-color="#0083dd"/><stop offset="0.8026" stop-color="#005bdd"/><stop offset="0.8064" stop-color="#0000be"/><stop offset="0.8102" stop-color="#800091"/><stop offset="0.8177" stop-color="#840095"/><stop offset="0.8214" stop-color="#4400a2"/><stop offset="0.8252" stop-color="#62009e"/><stop offset="0.8289" stop-color="#700080"/><stop offset="0.8365" stop-color="#670076"/><stop offset="0.8402" stop-color="#6c007b"/><stop offset="0.844" stop-color="#5c006a"/><stop offset="0.8477" stop-color="#660075"/><stop offset="0.8515" stop-color="#540060"/><stop offset="0.8553" stop-color="#60006e"/><stop offset="0.859" stop-color="#620070"/><stop offset="0.8628" stop-color="#490053"/><stop offset="0.8665" stop-color="#550061"/><stop offset="0.8741" stop-color="#4a0055"/><stop offset="0.8778" stop-color="#4e0059"/><stop offset="0.8816" stop-color="#3f0048"/><stop offset="0.8853" stop-color="#550061"/><stop offset="0.8891" stop-color="#3f0048"/><stop offset="0.8929" stop-color="#3e0047"/><stop offset="0.8966" stop-color="#4e0059"/><stop offset="0.9004" stop-color="#35003c"/><stop offset="0.9041" stop-color="#460050"/><stop offset="0.9192" stop-color="#3b0044"/><stop offset="0.9229" stop-color="#320039"/><stop offset="0.9267" stop-color="#3d0046"/><stop offset="0.9305" stop-color="#33003a"/><stop offset="0.938" stop-color="#3b0043"/><stop offset="0.9455" stop-color="#320039"/><stop offset="0.953" stop-color="#310038"/><stop offset="0.9605" stop-color="#27002d"/><stop offset="0.968" stop-color="#2a0030"/><stop offset="0.9718" stop-color="#1e0022"/><stop offset="0.9793" stop-color="#2c0032"/><stop offset="0.9944" stop-color="#210025"/><stop offset="0.9981" stop-color="#2c0032"/></linearGradient><linearGradient id="l19"><stop offset="0.00188" stop-color="#160019"/><stop offset="0.02068" stop-color="#19001d"/><stop offset="0.03195" stop-color="#130016"/><stop offset="0.06203" stop-color="#1c0021"/><stop offset="0.06955" stop-color="#130016"/><stop offset="0.07707" stop-color="#1a001e"/><stop offset="0.08083" stop-color="#120015"/><stop offset="0.09586" stop-color="#1b001f"/><stop offset="0.1071" stop-color="#160019"/><stop offset="0.1109" stop-color="#1b001f"/><stop offset="0.1222" stop-color="#130015"/><stop offset="0.1447" stop-color="#17001b"/><stop offset="0.1523" stop-color="#1e0023"/><stop offset="0.1635" stop-color="#160019"/><stop offset="0.1898" stop-color="#210025"/><stop offset="0.2011" stop-color="#140017"/><stop offset="0.2049" stop-color="#17001a"/><stop offset="0.2086" stop-color="#28002d"/><stop offset="0.2199" stop-color="#3f0048"/><stop offset="0.2575" stop-color="#470051"/><stop offset="0.265" stop-color="#41004a"/><stop offset="0.2801" stop-color="#42004b"/><stop offset="0.2914" stop-color="#44004e"/><stop offset="0.3026" stop-color="#41004a"/><stop offset="0.3177" stop-color="#41004a"/><stop offset="0.3252" stop-color="#3c0044"/><stop offset="0.3327" stop-color="#400049"/><stop offset="0.344" stop-color="#3a0042"/><stop offset="0.3515" stop-color="#45004e"/><stop offset="0.3665" stop-color="#44004e"/><stop offset="0.3741" stop-color="#3f0048"/><stop offset="0.3853" stop-color="#4e005a"/><stop offset="0.4041" stop-color="#470052"/><stop offset="0.4154" stop-color="#42004b"/><stop offset="0.4229" stop-color="#490054"/><stop offset="0.4342" stop-color="#3f0048"/><stop offset="0.4568" stop-color="#460050"/><stop offset="0.4868" stop-color="#43004c"/><stop offset="0.4981" stop-color="#3a0042"/><stop offset="0.5094" stop-color="#460050"/><stop offset="0.5169" stop-color="#45004e"/><stop offset="0.5207" stop-color="#3b0044"/><stop offset="0.532" stop-color="#460050"/><stop offset="0.5395" stop-color="#3e0047"/><stop offset="0.547" stop-color="#470052"/><stop offset="0.5583" stop-color="#3d0046"/><stop offset="0.562" stop-color="#400049"/><stop offset="0.5658" stop-color="#770087"/><stop offset="0.5695" stop-color="#3b0044"/><stop offset="0.5733" stop-color="#41004a"/><stop offset="0.6109" stop-color="#37003f"/><stop offset="0.6259" stop-color="#300037"/><stop offset="0.641" stop-color="#35003c"/><stop offset="0.6523" stop-color="#380040"/><stop offset="0.6748" stop-color="#2d0034"/><stop offset="0.6861" stop-color="#390041"/><stop offset="0.6974" stop-color="#300036"/><stop offset="0.7162" stop-color="#300037"/><stop offset="0.7237" stop-color="#310038"/><stop offset="0.7274" stop-color="#390041"/><stop offset="0.735" stop-color="#310038"/><stop offset="0.7425" stop-color="#34003c"/><stop offset="0.75" stop-color="#36003e"/><stop offset="0.7538" stop-color="#300036"/><stop offset="0.7688" stop-color="#380040"/><stop offset="0.7763" stop-color="#33003a"/><stop offset="0.7951" stop-color="#35003c"/><stop offset="0.8064" stop-color="#36003e"/><stop offset="0.8177" stop-color="#2c0032"/><stop offset="0.8365" stop-color="#35003d"/><stop offset="0.844" stop-color="#2a0030"/><stop offset="0.8553" stop-color="#320039"/><stop offset="0.8703" stop-color="#26002c"/><stop offset="0.8778" stop-color="#33003a"/><stop offset="0.8891" stop-color="#2d0034"/><stop offset="0.8929" stop-color="#320039"/><stop offset="0.9041" stop-color="#28002e"/><stop offset="0.9192" stop-color="#2c0032"/><stop offset="0.9267" stop-color="#230028"/><stop offset="0.9492" stop-color="#2c0032"/><stop offset="0.9718" stop-color="#1d0021"/><stop offset="0.9793" stop-color="#26002b"/><stop offset="0.9944" stop-color="#18001c"/><stop offset="0.9981" stop-color="#1f0023"/></linearGradient><linearGradient id="l20"><stop offset="0.00188" stop-color="#26002b"/><stop offset="0.02068" stop-color="#2f0036"/><stop offset="0.03195" stop-color="#27002d"/><stop offset="0.03947" stop-color="#2b0031"/><stop offset="0.04699" stop-color="#27002d"/><stop offset="0.06579" stop-color="#2c0032"/><stop offset="0.09586" stop-color="#27002d"/><stop offset="0.1071" stop-color="#2d0033"/><stop offset="0.1147" stop-color="#29002f"/><stop offset="0.1222" stop-color="#25002a"/><stop offset="0.1372" stop-color="#2d0034"/><stop offset="0.1447" stop-color="#28002d"/><stop offset="0.1523" stop-color="#2d0033"/><stop offset="0.156" stop-color="#25002a"/><stop offset="0.1748" stop-color="#29002e"/><stop offset="0.1823" stop-color="#28002d"/><stop offset="0.1898" stop-color="#300036"/><stop offset="0.1974" stop-color="#28002d"/><stop offset="0.2011" stop-color="#710082"/><stop offset="0.2049" stop-color="#880099"/><stop offset="0.2086" stop-color="#0000dd"/><stop offset="0.2124" stop-color="#008bdd"/><stop offset="0.2162" stop-color="#00aaa1"/><stop offset="0.2199" stop-color="#009a00"/><stop offset="0.2274" stop-color="#00e000"/><stop offset="0.2312" stop-color="#13ff00"/><stop offset="0.235" stop-color="#c4fc00"/><stop offset="0.2387" stop-color="#def300"/><stop offset="0.2425" stop-color="#edee00"/><stop offset="0.2575" stop-color="#fbd500"/><stop offset="0.265" stop-color="#ffba00"/><stop offset="0.2763" stop-color="#ff8d00"/><stop offset="0.2914" stop-color="#ff9500"/><stop offset="0.3026" stop-color="#ff6200"/><stop offset="0.3102" stop-color="#ff6a00"/><stop offset="0.3177" stop-color="#ff8200"/><stop offset="0.3252" stop-color="#ff8200"/><stop offset="0.3327" stop-color="#ff9200"/><stop offset="0.3402" stop-color="#ff8400"/><stop offset="0.3477" stop-color="#ff9800"/><stop offset="0.359" stop-color="#ff9200"/><stop offset="0.3665" stop-color="#ff9b00"/><stop offset="0.3741" stop-color="#ff9500"/><stop offset="0.3816" stop-color="#ff9a00"/><stop offset="0.3966" stop-color="#ff8f00"/><stop offset="0.4041" stop-color="#ff8f00"/><stop offset="0.4117" stop-color="#ff9d00"/><stop offset="0.4568" stop-color="#ffa500"/><stop offset="0.4831" stop-color="#ffc300"/><stop offset="0.5169" stop-color="#f8da00"/><stop offset="0.5357" stop-color="#ebef00"/><stop offset="0.5545" stop-color="#bffe00"/><stop offset="0.5583" stop-color="#a7ff00"/><stop offset="0.562" stop-color="#6fff00"/><stop offset="0.5695" stop-color="#25ff00"/><stop offset="0.5733" stop-color="#1aff00"/><stop offset="0.5771" stop-color="#1fff00"/><stop offset="0.5808" stop-color="#14ff00"/><stop offset="0.5846" stop-color="#1aff00"/><stop offset="0.5883" stop-color="#08ff00"/><stop offset="0.5959" stop-color="#00fe00"/><stop offset="0.6372" stop-color="#00d100"/><stop offset="0.656" stop-color="#00a600"/><stop offset="0.6635" stop-color="#009900"/><stop offset="0.6823" stop-color="#00aa87"/><stop offset="0.7086" stop-color="#00a7b2"/><stop offset="0.7274" stop-color="#0096dd"/><stop offset="0.7425" stop-color="#0084dd"/><stop offset="0.7462" stop-color="#009ece"/><stop offset="0.75" stop-color="#0080dd"/><stop offset="0.7538" stop-color="#0000c9"/><stop offset="0.7575" stop-color="#0000d1"/><stop offset="0.7613" stop-color="#0038dd"/><stop offset="0.765" stop-color="#009ece"/><stop offset="0.7688" stop-color="#006add"/><stop offset="0.7726" stop-color="#0000c9"/><stop offset="0.7763" stop-color="#0000c9"/><stop offset="0.7801" stop-color="#0031dd"/><stop offset="0.7838" stop-color="#009ece"/><stop offset="0.7876" stop-color="#0071dd"/><stop offset="0.7914" stop-color="#0000c9"/><stop offset="0.7951" stop-color="#0000ce"/><stop offset="0.7989" stop-color="#0092dd"/><stop offset="0.8026" stop-color="#0099dd"/><stop offset="0.8064" stop-color="#0081dd"/><stop offset="0.8102" stop-color="#4400a2"/><stop offset="0.8214" stop-color="#4400a2"/><stop offset="0.8252" stop-color="#880099"/><stop offset="0.9041" stop-color="#730083"/><stop offset="0.9192" stop-color="#6c007b"/><stop offset="0.9305" stop-color="#570064"/><stop offset="0.9568" stop-color="#3f0048"/><stop offset="0.9756" stop-color="#33003a"/><stop offset="0.9868" stop-color="#2d0033"/><stop offset="0.9944" stop-color="#28002d"/><stop offset="0.9981" stop-color="#2d0034"/></linearGradient><linearGradient id="l21"><stop offset="0.00188" stop-color="#26002b"/><stop offset="0.02068" stop-color="#2f0036"/><stop offset="0.03195" stop-color="#27002d"/><stop offset="0.03947" stop-color="#2b0031"/><stop offset="0.04699" stop-color="#27002d"/><stop offset="0.06579" stop-color="#2c0032"/><stop offset="0.09586" stop-color="#27002d"/><stop offset="0.1071" stop-color="#2d0033"/><stop offset="0.1147" stop-color="#29002f"/><stop offset="0.1222" stop-color="#25002a"/><stop offset="0.1372" stop-color="#2d0034"/><stop offset="0.1447" stop-color="#28002d"/><stop offset="0.1523" stop-color="#2d0033"/><stop offset="0.156" stop-color="#25002a"/><stop offset="0.1748" stop-color="#29002e"/><stop offset="0.1823" stop-color="#28002d"/><stop offset="0.1898" stop-color="#300036"/><stop offset="0.1974" stop-color="#28002d"/><stop offset="0.2011" stop-color="#710082"/><stop offset="0.2049" stop-color="#880099"/><stop offset="0.2086" stop-color="#0000dd"/><stop offset="0.2124" stop-color="#008bdd"/><stop offset="0.2162" stop-color="#00aaa1"/><stop offset="0.2199" stop-color="#009a00"/><stop offset="0.2274" stop-color="#00e000"/><stop offset="0.2312" stop-color="#13ff00"/><stop offset="0.235" stop-color="#c4fc00"/><stop offset="0.2387" stop-color="#def300"/><stop offset="0.2425" stop-color="#edee00"/><stop offset="0.2575" stop-color="#fbd500"/><stop offset="0.265" stop-color="#ffba00"/><stop offset="0.2763" stop-color="#ff8d00"/><stop offset="0.2914" stop-color="#ff9500"/><stop offset="0.3026" stop-color="#ff6200"/><stop offset="0.3102" stop-color="#ff6a00"/><stop offset="0.3177" stop-color="#ff8200"/><stop offset="0.3252" stop-color="#ff8200"/><stop offset="0.3327" stop-color="#ff9200"/><stop offset="0.3402" stop-color="#ff8400"/><stop offset="0.3477" stop-color="#ff9800"/><stop offset="0.359" stop-color="#ff9200"/><stop offset="0.3665" stop-color="#ff9b00"/><stop offset="0.3741" stop-color="#ff9500"/><stop offset="0.3816" stop-color="#ff9a00"/><stop offset="0.3966" stop-color="#ff8f00"/><stop offset="0.4041" stop-color="#ff8f00"/><stop offset="0.4117" stop-color="#ff9d00"/><stop offset="0.4568" stop-color="#ffa500"/><stop offset="0.4831" stop-color="#ffc300"/><stop offset="0.5169" stop-color="#f8da00"/><stop offset="0.5357" stop-color="#ebef00"/><stop offset="0.5545" stop-color="#bffe00"/><stop offset="0.5583" stop-color="#a7ff00"/><stop offset="0.562" stop-color="#6fff00"/><stop offset="0.5695" stop-color="#25ff00"/><stop offset="0.5733" stop-color="#1aff00"/><stop offset="0.5771" stop-color="#1fff00"/><stop offset="0.5808" stop-color="#14ff00"/><stop offset="0.5846" stop-color="#1aff00"/><stop offset="0.5883" stop-color="#08ff00"/><stop offset="0.5959" stop-color="#00fe00"/><stop offset="0.6372" stop-color="#00d100"/><stop offset="0.656" stop-color="#00a600"/><stop offset="0.6635" stop-color="#009900"/><stop offset="0.6823" stop-color="#00aa87"/><stop offset="0.7086" stop-color="#00a7b2"/><stop offset="0.7274" stop-color="#0096dd"/><stop offset="0.7425" stop-color="#0084dd"/><stop offset="0.7462" stop-color="#009ece"/><stop offset="0.75" stop-color="#0080dd"/><stop offset="0.7538" stop-color="#0000c9"/><stop offset="0.7575" stop-color="#0000d1"/><stop offset="0.7613" stop-color="#0038dd"/><stop offset="0.765" stop-color="#009ece"/><stop offset="0.7688" stop-color="#006add"/><stop offset="0.7726" stop-color="#0000c9"/><stop offset="0.7763" stop-color="#0000c9"/><stop offset="0.7801" stop-color="#0031dd"/><stop offset="0.7838" stop-color="#009ece"/><stop offset="0.7876" stop-color="#0071dd"/><stop offset="0.7914" stop-color="#0000c9"/><stop offset="0.7951" stop-color="#0000ce"/><stop offset="0.7989" stop-color="#0092dd"/><stop offset="0.8026" stop-color="#0099dd"/><stop offset="0.8064" stop-color="#0081dd"/><stop offset="0.8102" stop-color="#4400a2"/><stop offset="0.8214" stop-color="#4400a2"/><stop offset="0.8252" stop-color="#880099"/><stop offset="0.9041" stop-color="#730083"/><stop offset="0.9192" stop-color="#6c007b"/><stop offset="0.9305" stop-color="#570064"/><stop offset="0.9568" stop-color="#3f0048"/><stop offset="0.9756" stop-color="#33003a"/><stop offset="0.9868" stop-color="#2d0033"/><stop offset="0.9944" stop-color="#28002d"/><stop offset="0.9981" stop-color="#2d0034"/></linearGradient><linearGradient id="lb0"><stop offset="0.00188" stop-color="#210025"/><stop offset="0.02444" stop-color="#230029"/><stop offset="0.09962" stop-color="#25002a"/><stop offset="0.1222" stop-color="#200025"/><stop offset="0.1523" stop-color="#28002d"/><stop offset="0.1823" stop-color="#220027"/><stop offset="0.1936" stop-color="#230029"/><stop offset="0.1974" stop-color="#220027"/><stop offset="0.2049" stop-color="#7f0090"/><stop offset="0.2086" stop-color="#1100a8"/><stop offset="0.2124" stop-color="#0000dd"/><stop offset="0.2162" stop-color="#007ddd"/><stop offset="0.2199" stop-color="#00a0c7"/><stop offset="0.2274" stop-color="#00aa8c"/><stop offset="0.2312" stop-color="#00a039"/><stop offset="0.235" stop-color="#00a400"/><stop offset="0.2763" stop-color="#00ea00"/><stop offset="0.3102" stop-color="#00fa00"/><stop offset="0.3741" stop-color="#00f000"/><stop offset="0.3778" stop-color="#89ff00"/><stop offset="0.3816" stop-color="#00ef00"/><stop offset="0.5056" stop-color="#00df00"/><stop offset="0.5658" stop-color="#009900"/><stop offset="0.5733" stop-color="#009f32"/><stop offset="0.5883" stop-color="#00a13e"/><stop offset="0.6034" stop-color="#00a459"/><stop offset="0.6147" stop-color="#00a980"/><stop offset="0.6485" stop-color="#00a9ae"/><stop offset="0.6786" stop-color="#0094dd"/><stop offset="0.7049" stop-color="#0079dd"/><stop offset="0.7237" stop-color="#0037dd"/><stop offset="0.7312" stop-color="#000ddd"/><stop offset="0.7425" stop-color="#0000d6"/><stop offset="0.7462" stop-color="#003bdd"/><stop offset="0.75" stop-color="#0000d1"/><stop offset="0.7538" stop-color="#3800a3"/><stop offset="0.7575" stop-color="#2700a5"/><stop offset="0.7613" stop-color="#0000b4"/><stop offset="0.765" stop-color="#003add"/><stop offset="0.7688" stop-color="#0000c3"/><stop offset="0.7726" stop-color="#3900a3"/><stop offset="0.7763" stop-color="#3900a3"/><stop offset="0.7801" stop-color="#0000b2"/><stop offset="0.7838" stop-color="#003add"/><stop offset="0.7876" stop-color="#0000c6"/><stop offset="0.7914" stop-color="#3800a3"/><stop offset="0.7951" stop-color="#2e00a4"/><stop offset="0.7989" stop-color="#0010dd"/><stop offset="0.8026" stop-color="#0021dd"/><stop offset="0.8064" stop-color="#0000d2"/><stop offset="0.8102" stop-color="#850096"/><stop offset="0.8703" stop-color="#740084"/><stop offset="0.9229" stop-color="#4c0057"/><stop offset="0.9756" stop-color="#29002f"/><stop offset="0.9981" stop-color="#27002d"/></linearGradient><linearGradient id="lb2"><stop offset="0.00188" stop-color="#220027"/><stop offset="0.02444" stop-color="#25002a"/><stop offset="0.09962" stop-color="#26002b"/><stop offset="0.1259" stop-color="#25002b"/><stop offset="0.1974" stop-color="#230028"/><stop offset="0.2049" stop-color="#230028"/><stop offset="0.2124" stop-color="#680077"/><stop offset="0.2162" stop-color="#7b008c"/><stop offset="0.2237" stop-color="#830094"/><stop offset="0.2274" stop-color="#60009e"/><stop offset="0.2312" stop-color="#0000aa"/><stop offset="0.235" stop-color="#0000d8"/><stop offset="0.265" stop-color="#007fdd"/><stop offset="0.2951" stop-color="#009bd7"/><stop offset="0.3177" stop-color="#00a4bc"/><stop offset="0.3703" stop-color="#00a5ba"/><stop offset="0.4154" stop-color="#00aaa1"/><stop offset="0.4605" stop-color="#00a97d"/><stop offset="0.4756" stop-color="#00a879"/><stop offset="0.4944" stop-color="#00a144"/><stop offset="0.4981" stop-color="#009f2c"/><stop offset="0.5056" stop-color="#00a143"/><stop offset="0.5282" stop-color="#00a351"/><stop offset="0.5395" stop-color="#00a97f"/><stop offset="0.5658" stop-color="#00aaa5"/><stop offset="0.5846" stop-color="#0098dd"/><stop offset="0.6297" stop-color="#0073dd"/><stop offset="0.6447" stop-color="#0023dd"/><stop offset="0.6485" stop-color="#0009dd"/><stop offset="0.6748" stop-color="#0000c0"/><stop offset="0.7049" stop-color="#0300aa"/><stop offset="0.7312" stop-color="#2200a6"/><stop offset="0.7387" stop-color="#870098"/><stop offset="0.7425" stop-color="#4800a1"/><stop offset="0.7462" stop-color="#0042dd"/><stop offset="0.75" stop-color="#0000b4"/><stop offset="0.7538" stop-color="#3500a3"/><stop offset="0.7575" stop-color="#3500a3"/><stop offset="0.7613" stop-color="#0000b8"/><stop offset="0.765" stop-color="#0000c4"/><stop offset="0.7688" stop-color="#2700a5"/><stop offset="0.7763" stop-color="#3600a3"/><stop offset="0.7801" stop-color="#0000b9"/><stop offset="0.7838" stop-color="#0067dd"/><stop offset="0.7876" stop-color="#0000d0"/><stop offset="0.7914" stop-color="#3700a3"/><stop offset="0.7951" stop-color="#1800a7"/><stop offset="0.7989" stop-color="#0045dd"/><stop offset="0.8026" stop-color="#0000dc"/><stop offset="0.8064" stop-color="#3600a3"/><stop offset="0.8102" stop-color="#7b008c"/><stop offset="0.8252" stop-color="#840095"/><stop offset="0.8289" stop-color="#5e006c"/><stop offset="0.8402" stop-color="#5c0069"/><stop offset="0.844" stop-color="#50005b"/><stop offset="0.8477" stop-color="#570063"/><stop offset="0.8515" stop-color="#4a0055"/><stop offset="0.859" stop-color="#540060"/><stop offset="0.8628" stop-color="#41004a"/><stop offset="0.8703" stop-color="#44004e"/><stop offset="0.8778" stop-color="#460050"/><stop offset="0.8816" stop-color="#3b0043"/><stop offset="0.8853" stop-color="#490054"/><stop offset="0.8891" stop-color="#3a0042"/><stop offset="0.8966" stop-color="#45004e"/><stop offset="0.9004" stop-color="#34003c"/><stop offset="0.9041" stop-color="#3f0048"/><stop offset="0.9342" stop-color="#300037"/><stop offset="0.9492" stop-color="#320039"/><stop offset="0.9643" stop-color="#28002e"/><stop offset="0.9756" stop-color="#25002a"/><stop offset="0.9831" stop-color="#28002d"/><stop offset="0.9944" stop-color="#210025"/><stop offset="0.9981" stop-color="#2c0032"/></linearGradient><linearGradient id="lb18"><stop offset="0.00188" stop-color="#1b001f"/><stop offset="0.02444" stop-color="#1c0021"/><stop offset="0.06579" stop-color="#1d0021"/><stop offset="0.1147" stop-color="#1e0022"/><stop offset="0.1523" stop-color="#240029"/><stop offset="0.1711" stop-color="#1f0023"/><stop offset="0.1936" stop-color="#200025"/><stop offset="0.2049" stop-color="#1e0022"/><stop offset="0.2162" stop-color="#6a0079"/><stop offset="0.2237" stop-color="#7a008b"/><stop offset="0.2312" stop-color="#850096"/><stop offset="0.235" stop-color="#60009e"/><stop offset="0.2462" stop-color="#3a00a3"/><stop offset="0.2613" stop-color="#1e00a6"/><stop offset="0.2688" stop-color="#0000ab"/><stop offset="0.3177" stop-color="#0000d0"/><stop offset="0.3703" stop-color="#0000d3"/><stop offset="0.3741" stop-color="#0088dd"/><stop offset="0.3778" stop-color="#0000d9"/><stop offset="0.4079" stop-color="#000cdd"/><stop offset="0.4192" stop-color="#000ddd"/><stop offset="0.4643" stop-color="#0044dd"/><stop offset="0.4793" stop-color="#004bdd"/><stop offset="0.5169" stop-color="#005ddd"/><stop offset="0.5207" stop-color="#0051dd"/><stop offset="0.532" stop-color="#0053dd"/><stop offset="0.5432" stop-color="#0042dd"/><stop offset="0.5583" stop-color="#001fdd"/><stop offset="0.562" stop-color="#000fdd"/><stop offset="0.5658" stop-color="#002add"/><stop offset="0.5695" stop-color="#0000d6"/><stop offset="0.5996" stop-color="#0000b0"/><stop offset="0.6109" stop-color="#0c00a8"/><stop offset="0.6259" stop-color="#2100a6"/><stop offset="0.6372" stop-color="#3300a4"/><stop offset="0.6523" stop-color="#66009d"/><stop offset="0.6786" stop-color="#870098"/><stop offset="0.7425" stop-color="#800091"/><stop offset="0.7462" stop-color="#2c00a5"/><stop offset="0.75" stop-color="#870098"/><stop offset="0.7613" stop-color="#7e009a"/><stop offset="0.765" stop-color="#66009d"/><stop offset="0.7688" stop-color="#830094"/><stop offset="0.7801" stop-color="#870098"/><stop offset="0.7838" stop-color="#2200a6"/><stop offset="0.7876" stop-color="#74009c"/><stop offset="0.7951" stop-color="#820093"/><stop offset="0.7989" stop-color="#59009f"/><stop offset="0.8026" stop-color="#7a009b"/><stop offset="0.8064" stop-color="#810092"/><stop offset="0.8102" stop-color="#630072"/><stop offset="0.8139" stop-color="#5f006c"/><stop offset="0.8214" stop-color="#7a008b"/><stop offset="0.8252" stop-color="#7a008b"/><stop offset="0.8289" stop-color="#4c0056"/><stop offset="0.8515" stop-color="#3e0047"/><stop offset="0.859" stop-color="#41004a"/><stop offset="0.8703" stop-color="#36003e"/><stop offset="0.8778" stop-color="#3e0046"/><stop offset="0.8816" stop-color="#36003e"/><stop offset="0.8853" stop-color="#3d0046"/><stop offset="0.8929" stop-color="#37003e"/><stop offset="0.9192" stop-color="#320039"/><stop offset="0.9342" stop-color="#2d0033"/><stop offset="0.9568" stop-color="#26002b"/><stop offset="0.9756" stop-color="#220027"/><stop offset="0.9906" stop-color="#200025"/><stop offset="0.9981" stop-color="#240029"/></linearGradient><linearGradient id="lb19"><stop offset="0.00188" stop-color="#210025"/><stop offset="0.02444" stop-color="#230029"/><stop offset="0.07707" stop-color="#25002b"/><stop offset="0.1147" stop-color="#230029"/><stop offset="0.1523" stop-color="#29002e"/><stop offset="0.1673" stop-color="#240029"/><stop offset="0.1936" stop-color="#25002b"/><stop offset="0.1974" stop-color="#230028"/><stop offset="0.2049" stop-color="#7f0090"/><stop offset="0.2086" stop-color="#0e00a8"/><stop offset="0.2124" stop-color="#0004dd"/><stop offset="0.2162" stop-color="#007fdd"/><stop offset="0.2199" stop-color="#00a1c4"/><stop offset="0.2274" stop-color="#00aa8a"/><stop offset="0.2312" stop-color="#009f32"/><stop offset="0.235" stop-color="#00a600"/><stop offset="0.2763" stop-color="#00eb00"/><stop offset="0.3628" stop-color="#00e900"/><stop offset="0.468" stop-color="#00dd00"/><stop offset="0.5357" stop-color="#00b800"/><stop offset="0.5658" stop-color="#009902"/><stop offset="0.5695" stop-color="#009e2a"/><stop offset="0.5883" stop-color="#00a038"/><stop offset="0.6034" stop-color="#00a455"/><stop offset="0.6147" stop-color="#00a97d"/><stop offset="0.656" stop-color="#00a5ba"/><stop offset="0.6786" stop-color="#0095dd"/><stop offset="0.7086" stop-color="#006edd"/><stop offset="0.7237" stop-color="#003bdd"/><stop offset="0.7312" stop-color="#0012dd"/><stop offset="0.7425" stop-color="#0000d9"/><stop offset="0.7462" stop-color="#0041dd"/><stop offset="0.75" stop-color="#0000d4"/><stop offset="0.7538" stop-color="#3100a4"/><stop offset="0.7613" stop-color="#0000b7"/><stop offset="0.765" stop-color="#0040dd"/><stop offset="0.7688" stop-color="#0000c7"/><stop offset="0.7726" stop-color="#3100a4"/><stop offset="0.7763" stop-color="#3000a4"/><stop offset="0.7801" stop-color="#0000b5"/><stop offset="0.7838" stop-color="#003fdd"/><stop offset="0.7876" stop-color="#0000c8"/><stop offset="0.7914" stop-color="#3100a4"/><stop offset="0.7951" stop-color="#2600a5"/><stop offset="0.7989" stop-color="#0017dd"/><stop offset="0.8026" stop-color="#0027dd"/><stop offset="0.8064" stop-color="#0000d5"/><stop offset="0.8102" stop-color="#860097"/><stop offset="0.8816" stop-color="#730083"/><stop offset="0.9229" stop-color="#50005c"/><stop offset="0.9756" stop-color="#2d0034"/><stop offset="0.9981" stop-color="#29002e"/></linearGradient><linearGradient id="r0"><stop offset="0.00188" stop-color="#050005"/><stop offset="0.1936" stop-color="#050005"/><stop offset="0.1974" stop-color="#2d0033"/><stop offset="0.2011" stop-color="#770088"/><stop offset="0.2049" stop-color="#880099"/><stop offset="0.2086" stop-color="#0000dd"/><stop offset="0.2124" stop-color="#008bdd"/><stop offset="0.2162" stop-color="#00aaa8"/><stop offset="0.2199" stop-color="#009a0b"/><stop offset="0.2237" stop-color="#00b900"/><stop offset="0.2312" stop-color="#00fe00"/><stop offset="0.235" stop-color="#b6ff00"/><stop offset="0.2387" stop-color="#d8f500"/><stop offset="0.2425" stop-color="#eaef00"/><stop offset="0.25" stop-color="#f1e800"/><stop offset="0.265" stop-color="#ffbe00"/><stop offset="0.2763" stop-color="#ff8c00"/><stop offset="0.2914" stop-color="#ff2f00"/><stop offset="0.2951" stop-color="#ff4300"/><stop offset="0.2989" stop-color="#ff3000"/><stop offset="0.3102" stop-color="#ff2900"/><stop offset="0.3177" stop-color="#ff3f00"/><stop offset="0.3402" stop-color="#ff4900"/><stop offset="0.344" stop-color="#ff6200"/><stop offset="0.3553" stop-color="#ff9000"/><stop offset="0.3703" stop-color="#ff9500"/><stop offset="0.3741" stop-color="#ff8100"/><stop offset="0.3853" stop-color="#ff9100"/><stop offset="0.3929" stop-color="#ff7e00"/><stop offset="0.3966" stop-color="#ff8900"/><stop offset="0.4004" stop-color="#ff7b00"/><stop offset="0.4041" stop-color="#ff7a00"/><stop offset="0.4079" stop-color="#ff6b00"/><stop offset="0.4154" stop-color="#ff7800"/><stop offset="0.4305" stop-color="#ff5f00"/><stop offset="0.438" stop-color="#ff5e00"/><stop offset="0.4492" stop-color="#ff8300"/><stop offset="0.453" stop-color="#ff8900"/><stop offset="0.4568" stop-color="#ff8200"/><stop offset="0.4605" stop-color="#ff8d00"/><stop offset="0.4643" stop-color="#ff8400"/><stop offset="0.4868" stop-color="#ffa600"/><stop offset="0.5056" stop-color="#ffb100"/><stop offset="0.5244" stop-color="#fad600"/><stop offset="0.547" stop-color="#e3f200"/><stop offset="0.5583" stop-color="#c5fc00"/><stop offset="0.562" stop-color="#abff00"/><stop offset="0.5658" stop-color="#73ff00"/><stop offset="0.5695" stop-color="#31ff00"/><stop offset="0.5733" stop-color="#03ff00"/><stop offset="0.6109" stop-color="#00f000"/><stop offset="0.6259" stop-color="#00e400"/><stop offset="0.6523" stop-color="#00ac00"/><stop offset="0.6635" stop-color="#009b00"/><stop offset="0.6711" stop-color="#009d1f"/><stop offset="0.6786" stop-color="#00a55d"/><stop offset="0.6861" stop-color="#00aa8a"/><stop offset="0.7124" stop-color="#00a3bf"/><stop offset="0.7237" stop-color="#0096dd"/><stop offset="0.7425" stop-color="#0084dd"/><stop offset="0.7462" stop-color="#009ece"/><stop offset="0.75" stop-color="#0080dd"/><stop offset="0.7538" stop-color="#0000c9"/><stop offset="0.7575" stop-color="#0000d1"/><stop offset="0.7613" stop-color="#0038dd"/><stop offset="0.765" stop-color="#009ece"/><stop offset="0.7688" stop-color="#006add"/><stop offset="0.7726" stop-color="#0000c9"/><stop offset="0.7763" stop-color="#0000c9"/><stop offset="0.7801" stop-color="#0031dd"/><stop offset="0.7838" stop-color="#009ece"/><stop offset="0.7876" stop-color="#0071dd"/><stop offset="0.7914" stop-color="#0000c9"/><stop offset="0.7951" stop-color="#0000ce"/><stop offset="0.7989" stop-color="#0092dd"/><stop offset="0.8026" stop-color="#0099dd"/><stop offset="0.8064" stop-color="#0081dd"/><stop offset="0.8102" stop-color="#4400a2"/><stop offset="0.8214" stop-color="#4400a2"/><stop offset="0.8252" stop-color="#880099"/><stop offset="0.9117" stop-color="#7a008b"/><stop offset="0.9229" stop-color="#6b007a"/><stop offset="0.938" stop-color="#45004f"/><stop offset="0.953" stop-color="#210026"/><stop offset="0.968" stop-color="#0a000b"/><stop offset="0.9981" stop-color="#020003"/></linearGradient><linearGradient id="r1"><stop offset="0.00188" stop-color="#050005"/><stop offset="0.1936" stop-color="#050005"/><stop offset="0.1974" stop-color="#2d0033"/><stop offset="0.2011" stop-color="#770088"/><stop offset="0.2049" stop-color="#880099"/><stop offset="0.2086" stop-color="#0000dd"/><stop offset="0.2124" stop-color="#008bdd"/><stop offset="0.2162" stop-color="#00aaa8"/><stop offset="0.2199" stop-color="#009a0b"/><stop offset="0.2237" stop-color="#00b900"/><stop offset="0.2312" stop-color="#00fe00"/><stop offset="0.235" stop-color="#b6ff00"/><stop offset="0.2387" stop-color="#d8f500"/><stop offset="0.2425" stop-color="#eaef00"/><stop offset="0.25" stop-color="#f1e800"/><stop offset="0.265" stop-color="#ffbe00"/><stop offset="0.2763" stop-color="#ff8c00"/><stop offset="0.2914" stop-color="#ff2f00"/><stop offset="0.2951" stop-color="#ff4300"/><stop offset="0.2989" stop-color="#ff3000"/><stop offset="0.3102" stop-color="#ff2900"/><stop offset="0.3177" stop-color="#ff3f00"/><stop offset="0.3402" stop-color="#ff4900"/><stop offset="0.344" stop-color="#ff6200"/><stop offset="0.3553" stop-color="#ff9000"/><stop offset="0.3703" stop-color="#ff9500"/><stop offset="0.3741" stop-color="#ff8100"/><stop offset="0.3853" stop-color="#ff9100"/><stop offset="0.3929" stop-color="#ff7e00"/><stop offset="0.3966" stop-color="#ff8900"/><stop offset="0.4004" stop-color="#ff7b00"/><stop offset="0.4041" stop-color="#ff7a00"/><stop offset="0.4079" stop-color="#ff6b00"/><stop offset="0.4154" stop-color="#ff7800"/><stop offset="0.4305" stop-color="#ff5f00"/><stop offset="0.438" stop-color="#ff5e00"/><stop offset="0.4492" stop-color="#ff8300"/><stop offset="0.453" stop-color="#ff8900"/><stop offset="0.4568" stop-color="#ff8200"/><stop offset="0.4605" stop-color="#ff8d00"/><stop offset="0.4643" stop-color="#ff8400"/><stop offset="0.4868" stop-color="#ffa600"/><stop offset="0.5056" stop-color="#ffb100"/><stop offset="0.5244" stop-color="#fad600"/><stop offset="0.547" stop-color="#e3f200"/><stop offset="0.5583" stop-color="#c5fc00"/><stop offset="0.562" stop-color="#abff00"/><stop offset="0.5658" stop-color="#73ff00"/><stop offset="0.5695" stop-color="#31ff00"/><stop offset="0.5733" stop-color="#03ff00"/><stop offset="0.6109" stop-color="#00f000"/><stop offset="0.6259" stop-color="#00e400"/><stop offset="0.6523" stop-color="#00ac00"/><stop offset="0.6635" stop-color="#009b00"/><stop offset="0.6711" stop-color="#009d1f"/><stop offset="0.6786" stop-color="#00a55d"/><stop offset="0.6861" stop-color="#00aa8a"/><stop offset="0.7124" stop-color="#00a3bf"/><stop offset="0.7237" stop-color="#0096dd"/><stop offset="0.7425" stop-color="#0084dd"/><stop offset="0.7462" stop-color="#009ece"/><stop offset="0.75" stop-color="#0080dd"/><stop offset="0.7538" stop-color="#0000c9"/><stop offset="0.7575" stop-color="#0000d1"/><stop offset="0.7613" stop-color="#0038dd"/><stop offset="0.765" stop-color="#009ece"/><stop offset="0.7688" stop-color="#006add"/><stop offset="0.7726" stop-color="#0000c9"/><stop offset="0.7763" stop-color="#0000c9"/><stop offset="0.7801" stop-color="#0031dd"/><stop offset="0.7838" stop-color="#009ece"/><stop offset="0.7876" stop-color="#0071dd"/><stop offset="0.7914" stop-color="#0000c9"/><stop offset="0.7951" stop-color="#0000ce"/><stop offset="0.7989" stop-color="#0092dd"/><stop offset="0.8026" stop-color="#0099dd"/><stop offset="0.8064" stop-color="#0081dd"/><stop offset="0.8102" stop-color="#4400a2"/><stop offset="0.8214" stop-color="#4400a2"/><stop offset="0.8252" stop-color="#880099"/><stop offset="0.9117" stop-color="#7a008b"/><stop offset="0.9229" stop-color="#6b007a"/><stop offset="0.938" stop-color="#45004f"/><stop offset="0.953" stop-color="#210026"/><stop offset="0.968" stop-color="#0a000b"/><stop offset="0.9981" stop-color="#020003"/></linearGradient><linearGradient id="r2"><stop offset="0.00188" stop-color="#020003"/><stop offset="0.03195" stop-color="#050005"/><stop offset="0.06955" stop-color="#030003"/><stop offset="0.08459" stop-color="#080009"/><stop offset="0.1184" stop-color="#030003"/><stop offset="0.1297" stop-color="#030003"/><stop offset="0.1898" stop-color="#020003"/><stop offset="0.1974" stop-color="#050006"/><stop offset="0.2049" stop-color="#150018"/><stop offset="0.25" stop-color="#1a001d"/><stop offset="0.265" stop-color="#2e0034"/><stop offset="0.2876" stop-color="#3c0045"/><stop offset="0.2951" stop-color="#3b0043"/><stop offset="0.3064" stop-color="#43004c"/><stop offset="0.3214" stop-color="#42004c"/><stop offset="0.359" stop-color="#3f0048"/><stop offset="0.3665" stop-color="#470052"/><stop offset="0.3816" stop-color="#3f0048"/><stop offset="0.3853" stop-color="#460050"/><stop offset="0.3966" stop-color="#3c0045"/><stop offset="0.4079" stop-color="#43004c"/><stop offset="0.4192" stop-color="#34003c"/><stop offset="0.4305" stop-color="#42004b"/><stop offset="0.4492" stop-color="#45004e"/><stop offset="0.4568" stop-color="#470052"/><stop offset="0.468" stop-color="#35003d"/><stop offset="0.4793" stop-color="#490053"/><stop offset="0.4981" stop-color="#3a0042"/><stop offset="0.5056" stop-color="#460050"/><stop offset="0.5132" stop-color="#3e0047"/><stop offset="0.5244" stop-color="#490054"/><stop offset="0.5395" stop-color="#3f0048"/><stop offset="0.547" stop-color="#4b0056"/><stop offset="0.5508" stop-color="#42004b"/><stop offset="0.5583" stop-color="#41004a"/><stop offset="0.5658" stop-color="#41004a"/><stop offset="0.5733" stop-color="#460050"/><stop offset="0.5883" stop-color="#3f0048"/><stop offset="0.5959" stop-color="#41004a"/><stop offset="0.6034" stop-color="#3c0044"/><stop offset="0.6222" stop-color="#3f0048"/><stop offset="0.6297" stop-color="#380040"/><stop offset="0.6335" stop-color="#3f0048"/><stop offset="0.6372" stop-color="#380040"/><stop offset="0.6485" stop-color="#45004e"/><stop offset="0.656" stop-color="#41004a"/><stop offset="0.6635" stop-color="#490054"/><stop offset="0.6711" stop-color="#41004a"/><stop offset="0.6823" stop-color="#3d0046"/><stop offset="0.6861" stop-color="#3a0042"/><stop offset="0.6936" stop-color="#470051"/><stop offset="0.7049" stop-color="#42004c"/><stop offset="0.7199" stop-color="#41004a"/><stop offset="0.7312" stop-color="#4b0056"/><stop offset="0.735" stop-color="#460050"/><stop offset="0.7387" stop-color="#4a0054"/><stop offset="0.7575" stop-color="#3e0046"/><stop offset="0.7726" stop-color="#470051"/><stop offset="0.7914" stop-color="#35003c"/><stop offset="0.8026" stop-color="#3a0042"/><stop offset="0.8177" stop-color="#33003a"/><stop offset="0.8214" stop-color="#300036"/><stop offset="0.8289" stop-color="#380040"/><stop offset="0.859" stop-color="#2d0034"/><stop offset="0.8665" stop-color="#29002f"/><stop offset="0.8703" stop-color="#1e0023"/><stop offset="0.9004" stop-color="#160019"/><stop offset="0.9117" stop-color="#1a001e"/><stop offset="0.9267" stop-color="#100013"/><stop offset="0.9492" stop-color="#0d000f"/><stop offset="0.9605" stop-color="#020003"/><stop offset="0.9981" stop-color="#080009"/></linearGradient><linearGradient id="r3"><stop offset="0.00188" stop-color="#050005"/><stop offset="0.1936" stop-color="#050005"/><stop offset="0.1974" stop-color="#0f0011"/><stop offset="0.2086" stop-color="#6a007a"/><stop offset="0.2162" stop-color="#850096"/><stop offset="0.2199" stop-color="#7a009b"/><stop offset="0.2237" stop-color="#0000b1"/><stop offset="0.2274" stop-color="#002add"/><stop offset="0.2312" stop-color="#008bdd"/><stop offset="0.235" stop-color="#009adb"/><stop offset="0.2425" stop-color="#00a3c0"/><stop offset="0.2538" stop-color="#00aaa5"/><stop offset="0.265" stop-color="#00aa92"/><stop offset="0.2688" stop-color="#00a97f"/><stop offset="0.2726" stop-color="#00a24a"/><stop offset="0.2763" stop-color="#00a248"/><stop offset="0.2876" stop-color="#009e26"/><stop offset="0.2914" stop-color="#009b13"/><stop offset="0.2951" stop-color="#009b14"/><stop offset="0.2989" stop-color="#009c00"/><stop offset="0.3289" stop-color="#00a300"/><stop offset="0.3553" stop-color="#009f00"/><stop offset="0.3778" stop-color="#00af00"/><stop offset="0.4117" stop-color="#00c700"/><stop offset="0.4342" stop-color="#00d400"/><stop offset="0.4605" stop-color="#00e700"/><stop offset="0.4756" stop-color="#00f600"/><stop offset="0.5094" stop-color="#00fa00"/><stop offset="0.5169" stop-color="#00f500"/><stop offset="0.532" stop-color="#00f400"/><stop offset="0.5583" stop-color="#00ce00"/><stop offset="0.5695" stop-color="#00ab00"/><stop offset="0.5733" stop-color="#009c00"/><stop offset="0.5771" stop-color="#009f32"/><stop offset="0.5846" stop-color="#00a877"/><stop offset="0.5883" stop-color="#00aa87"/><stop offset="0.6184" stop-color="#00aaa1"/><stop offset="0.6259" stop-color="#00aaa8"/><stop offset="0.641" stop-color="#0099dc"/><stop offset="0.6598" stop-color="#0081dd"/><stop offset="0.6711" stop-color="#0074dd"/><stop offset="0.6823" stop-color="#0041dd"/><stop offset="0.6936" stop-color="#0017dd"/><stop offset="0.7011" stop-color="#000fdd"/><stop offset="0.7086" stop-color="#0000da"/><stop offset="0.7312" stop-color="#0000c7"/><stop offset="0.735" stop-color="#0000b1"/><stop offset="0.7387" stop-color="#4600a1"/><stop offset="0.7425" stop-color="#0000b5"/><stop offset="0.7462" stop-color="#00aa8e"/><stop offset="0.75" stop-color="#00a2c3"/><stop offset="0.7538" stop-color="#0002dd"/><stop offset="0.7575" stop-color="#002add"/><stop offset="0.7613" stop-color="#002ddd"/><stop offset="0.765" stop-color="#0077dd"/><stop offset="0.7688" stop-color="#003bdd"/><stop offset="0.7801" stop-color="#003ddd"/><stop offset="0.7838" stop-color="#00aa8b"/><stop offset="0.7876" stop-color="#00aa9d"/><stop offset="0.7914" stop-color="#003cdd"/><stop offset="0.7951" stop-color="#003cdd"/><stop offset="0.7989" stop-color="#0092dd"/><stop offset="0.8026" stop-color="#00a6b7"/><stop offset="0.8064" stop-color="#0050dd"/><stop offset="0.8102" stop-color="#7f0090"/><stop offset="0.8177" stop-color="#7c008d"/><stop offset="0.8214" stop-color="#5f009e"/><stop offset="0.8252" stop-color="#7a009b"/><stop offset="0.8289" stop-color="#53005e"/><stop offset="0.8365" stop-color="#35003c"/><stop offset="0.844" stop-color="#400049"/><stop offset="0.8477" stop-color="#2d0034"/><stop offset="0.8515" stop-color="#52005e"/><stop offset="0.8553" stop-color="#300036"/><stop offset="0.8628" stop-color="#4a0055"/><stop offset="0.8703" stop-color="#3c0045"/><stop offset="0.8741" stop-color="#2d0033"/><stop offset="0.8778" stop-color="#3b0043"/><stop offset="0.8816" stop-color="#320039"/><stop offset="0.8891" stop-color="#33003a"/><stop offset="0.8966" stop-color="#28002e"/><stop offset="0.9117" stop-color="#230029"/><stop offset="0.9154" stop-color="#1a001e"/><stop offset="0.9229" stop-color="#1a001d"/><stop offset="0.9342" stop-color="#140017"/><stop offset="0.9455" stop-color="#0e0010"/><stop offset="0.9568" stop-color="#100012"/><stop offset="0.968" stop-color="#050006"/><stop offset="0.9793" stop-color="#050006"/><stop offset="0.9981" stop-color="#030004"/></linearGradient><linearGradient id="r4"><stop offset="0.00188" stop-color="#050005"/><stop offset="0.1936" stop-color="#050005"/><stop offset="0.1974" stop-color="#0f0011"/><stop offset="0.2086" stop-color="#6a007a"/><stop offset="0.2162" stop-color="#850096"/><stop offset="0.2199" stop-color="#7c009b"/><stop offset="0.2237" stop-color="#0000ae"/><stop offset="0.2274" stop-color="#0019dd"/><stop offset="0.2312" stop-color="#0084dd"/><stop offset="0.2387" stop-color="#009ada"/><stop offset="0.25" stop-color="#00a1c4"/><stop offset="0.2538" stop-color="#00a6b5"/><stop offset="0.2613" stop-color="#00aaa8"/><stop offset="0.2726" stop-color="#00a981"/><stop offset="0.2763" stop-color="#00a87b"/><stop offset="0.2838" stop-color="#00a55d"/><stop offset="0.2876" stop-color="#00a459"/><stop offset="0.2914" stop-color="#00a03c"/><stop offset="0.2951" stop-color="#00a039"/><stop offset="0.2989" stop-color="#009d1d"/><stop offset="0.3026" stop-color="#009d1c"/><stop offset="0.3102" stop-color="#009900"/><stop offset="0.3402" stop-color="#009a06"/><stop offset="0.344" stop-color="#009c17"/><stop offset="0.3477" stop-color="#009a0c"/><stop offset="0.3553" stop-color="#009c1c"/><stop offset="0.3628" stop-color="#009b00"/><stop offset="0.3703" stop-color="#009c00"/><stop offset="0.3816" stop-color="#00a700"/><stop offset="0.4154" stop-color="#00bc00"/><stop offset="0.4605" stop-color="#00da00"/><stop offset="0.4831" stop-color="#00eb00"/><stop offset="0.5094" stop-color="#00ec00"/><stop offset="0.5207" stop-color="#00e900"/><stop offset="0.532" stop-color="#00e500"/><stop offset="0.562" stop-color="#00be00"/><stop offset="0.5695" stop-color="#00a300"/><stop offset="0.5733" stop-color="#009e26"/><stop offset="0.5771" stop-color="#00a55d"/><stop offset="0.5808" stop-color="#00aa89"/><stop offset="0.5883" stop-color="#00aa99"/><stop offset="0.6109" stop-color="#00aaab"/><stop offset="0.6184" stop-color="#00a6b5"/><stop offset="0.6259" stop-color="#00a5b8"/><stop offset="0.6297" stop-color="#009fca"/><stop offset="0.641" stop-color="#0091dd"/><stop offset="0.6523" stop-color="#007edd"/><stop offset="0.6635" stop-color="#006ddd"/><stop offset="0.6711" stop-color="#005cdd"/><stop offset="0.6786" stop-color="#003bdd"/><stop offset="0.6861" stop-color="#0028dd"/><stop offset="0.6936" stop-color="#0005dd"/><stop offset="0.7312" stop-color="#0000c3"/><stop offset="0.735" stop-color="#0000ad"/><stop offset="0.7387" stop-color="#5100a0"/><stop offset="0.7425" stop-color="#0000b1"/><stop offset="0.7462" stop-color="#00aaa1"/><stop offset="0.75" stop-color="#009ad9"/><stop offset="0.7538" stop-color="#0000d9"/><stop offset="0.7575" stop-color="#001cdd"/><stop offset="0.7613" stop-color="#001edd"/><stop offset="0.765" stop-color="#005cdd"/><stop offset="0.7688" stop-color="#002ddd"/><stop offset="0.7801" stop-color="#0031dd"/><stop offset="0.7838" stop-color="#00a7b2"/><stop offset="0.7876" stop-color="#00a0c7"/><stop offset="0.7914" stop-color="#002ddd"/><stop offset="0.7951" stop-color="#002fdd"/><stop offset="0.7989" stop-color="#009dd0"/><stop offset="0.8026" stop-color="#00aa9c"/><stop offset="0.8064" stop-color="#0063dd"/><stop offset="0.8102" stop-color="#7f0090"/><stop offset="0.8177" stop-color="#7c008d"/><stop offset="0.8214" stop-color="#62009e"/><stop offset="0.8252" stop-color="#7a009b"/><stop offset="0.8289" stop-color="#53005e"/><stop offset="0.8365" stop-color="#35003c"/><stop offset="0.844" stop-color="#400049"/><stop offset="0.8477" stop-color="#2d0034"/><stop offset="0.8515" stop-color="#52005e"/><stop offset="0.8553" stop-color="#300036"/><stop offset="0.8628" stop-color="#4a0055"/><stop offset="0.8703" stop-color="#3c0045"/><stop offset="0.8741" stop-color="#2d0033"/><stop offset="0.8778" stop-color="#3b0043"/><stop offset="0.8816" stop-color="#320039"/><stop offset="0.8891" stop-color="#33003a"/><stop offset="0.8966" stop-color="#28002e"/><stop offset="0.9117" stop-color="#230029"/><stop offset="0.9154" stop-color="#1a001e"/><stop offset="0.9229" stop-color="#1a001d"/><stop offset="0.9342" stop-color="#140017"/><stop offset="0.9455" stop-color="#0e0010"/><stop offset="0.9568" stop-color="#100012"/><stop offset="0.968" stop-color="#050006"/><stop offset="0.9793" stop-color="#050006"/><stop offset="0.9981" stop-color="#030004"/></linearGradient><linearGradient id="r5"><stop offset="0.00188" stop-color="#050005"/><stop offset="0.1936" stop-color="#050005"/><stop offset="0.1974" stop-color="#0f0011"/><stop offset="0.2086" stop-color="#6a007a"/><stop offset="0.2162" stop-color="#850096"/><stop offset="0.2199" stop-color="#7c009b"/><stop offset="0.2237" stop-color="#0000ae"/><stop offset="0.2274" stop-color="#0018dd"/><stop offset="0.2312" stop-color="#0084dd"/><stop offset="0.2387" stop-color="#009ad9"/><stop offset="0.2538" stop-color="#00a9ac"/><stop offset="0.2688" stop-color="#00aa8d"/><stop offset="0.2726" stop-color="#00a76e"/><stop offset="0.2876" stop-color="#00a458"/><stop offset="0.2914" stop-color="#00a034"/><stop offset="0.2951" stop-color="#009f31"/><stop offset="0.2989" stop-color="#009b12"/><stop offset="0.3026" stop-color="#009b10"/><stop offset="0.3064" stop-color="#009900"/><stop offset="0.3252" stop-color="#009a00"/><stop offset="0.3327" stop-color="#009a06"/><stop offset="0.3402" stop-color="#009902"/><stop offset="0.344" stop-color="#009b11"/><stop offset="0.3553" stop-color="#009c16"/><stop offset="0.3628" stop-color="#009a00"/><stop offset="0.3778" stop-color="#00a800"/><stop offset="0.4041" stop-color="#00ba00"/><stop offset="0.4117" stop-color="#00c100"/><stop offset="0.4342" stop-color="#00ca00"/><stop offset="0.4944" stop-color="#00f300"/><stop offset="0.5207" stop-color="#00eb00"/><stop offset="0.5395" stop-color="#00e200"/><stop offset="0.562" stop-color="#00bc00"/><stop offset="0.5695" stop-color="#00a200"/><stop offset="0.5733" stop-color="#009d1c"/><stop offset="0.5771" stop-color="#00a560"/><stop offset="0.5808" stop-color="#00aa88"/><stop offset="0.5883" stop-color="#00aa97"/><stop offset="0.6259" stop-color="#00a7b2"/><stop offset="0.6335" stop-color="#009fcc"/><stop offset="0.641" stop-color="#0092dd"/><stop offset="0.6598" stop-color="#007bdd"/><stop offset="0.6673" stop-color="#006fdd"/><stop offset="0.6936" stop-color="#0013dd"/><stop offset="0.7086" stop-color="#0000d7"/><stop offset="0.7312" stop-color="#0000c3"/><stop offset="0.735" stop-color="#0000ad"/><stop offset="0.7387" stop-color="#5300a0"/><stop offset="0.7425" stop-color="#0000b2"/><stop offset="0.7462" stop-color="#00aa8a"/><stop offset="0.75" stop-color="#00a3c0"/><stop offset="0.7538" stop-color="#0000da"/><stop offset="0.7575" stop-color="#001edd"/><stop offset="0.7613" stop-color="#0021dd"/><stop offset="0.765" stop-color="#004ddd"/><stop offset="0.7688" stop-color="#002ddd"/><stop offset="0.7801" stop-color="#0033dd"/><stop offset="0.7838" stop-color="#00aa9a"/><stop offset="0.7876" stop-color="#00a9ac"/><stop offset="0.7914" stop-color="#0031dd"/><stop offset="0.7951" stop-color="#0031dd"/><stop offset="0.7989" stop-color="#0090dd"/><stop offset="0.8026" stop-color="#00a5b8"/><stop offset="0.8064" stop-color="#0049dd"/><stop offset="0.8102" stop-color="#7f0090"/><stop offset="0.8177" stop-color="#7c008d"/><stop offset="0.8214" stop-color="#61009e"/><stop offset="0.8252" stop-color="#7a009b"/><stop offset="0.8289" stop-color="#53005e"/><stop offset="0.8365" stop-color="#35003c"/><stop offset="0.844" stop-color="#400049"/><stop offset="0.8477" stop-color="#2d0034"/><stop offset="0.8515" stop-color="#52005e"/><stop offset="0.8553" stop-color="#300036"/><stop offset="0.8628" stop-color="#4a0055"/><stop offset="0.8703" stop-color="#3c0045"/><stop offset="0.8741" stop-color="#2d0033"/><stop offset="0.8778" stop-color="#3b0043"/><stop offset="0.8816" stop-color="#320039"/><stop offset="0.8891" stop-color="#33003a"/><stop offset="0.8966" stop-color="#28002e"/><stop offset="0.9117" stop-color="#230029"/><stop offset="0.9154" stop-color="#1a001e"/><stop offset="0.9229" stop-color="#1a001d"/><stop offset="0.9342" stop-color="#140017"/><stop offset="0.9455" stop-color="#0e0010"/><stop offset="0.9568" stop-color="#100012"/><stop offset="0.968" stop-color="#050006"/><stop offset="0.9793" stop-color="#050006"/><stop offset="0.9981" stop-color="#030004"/></linearGradient><linearGradient id="r6"><stop offset="0.00188" stop-color="#050005"/><stop offset="0.1936" stop-color="#050005"/><stop offset="0.1974" stop-color="#0f0011"/><stop offset="0.2086" stop-color="#6a007a"/><stop offset="0.2162" stop-color="#850096"/><stop offset="0.2199" stop-color="#0e00a8"/><stop offset="0.2237" stop-color="#0088dd"/><stop offset="0.2274" stop-color="#00aa9a"/><stop offset="0.2312" stop-color="#009d22"/><stop offset="0.235" stop-color="#009f00"/><stop offset="0.2462" stop-color="#00b800"/><stop offset="0.2575" stop-color="#00c800"/><stop offset="0.2726" stop-color="#00e000"/><stop offset="0.2876" stop-color="#00cc00"/><stop offset="0.3252" stop-color="#00cf00"/><stop offset="0.3477" stop-color="#00bf00"/><stop offset="0.3778" stop-color="#00c000"/><stop offset="0.4041" stop-color="#00c300"/><stop offset="0.4267" stop-color="#00cc00"/><stop offset="0.4605" stop-color="#00e600"/><stop offset="0.5019" stop-color="#00f500"/><stop offset="0.5282" stop-color="#00f800"/><stop offset="0.5583" stop-color="#00cc00"/><stop offset="0.5695" stop-color="#00a800"/><stop offset="0.5733" stop-color="#009a0a"/><stop offset="0.5771" stop-color="#00a247"/><stop offset="0.5846" stop-color="#00aa88"/><stop offset="0.6259" stop-color="#00a9ac"/><stop offset="0.641" stop-color="#0096dd"/><stop offset="0.6523" stop-color="#0084dd"/><stop offset="0.6711" stop-color="#0073dd"/><stop offset="0.6936" stop-color="#0017dd"/><stop offset="0.7049" stop-color="#0000dc"/><stop offset="0.7312" stop-color="#0000c7"/><stop offset="0.735" stop-color="#0000af"/><stop offset="0.7387" stop-color="#4d00a0"/><stop offset="0.7425" stop-color="#0000b4"/><stop offset="0.7462" stop-color="#00aa89"/><stop offset="0.75" stop-color="#00a3be"/><stop offset="0.7538" stop-color="#0003dd"/><stop offset="0.7575" stop-color="#002cdd"/><stop offset="0.7613" stop-color="#0030dd"/><stop offset="0.765" stop-color="#0064dd"/><stop offset="0.7688" stop-color="#003add"/><stop offset="0.7801" stop-color="#003bdd"/><stop offset="0.7838" stop-color="#00aa8e"/><stop offset="0.7876" stop-color="#00aaa0"/><stop offset="0.7914" stop-color="#0035dd"/><stop offset="0.7951" stop-color="#0035dd"/><stop offset="0.7989" stop-color="#0094dd"/><stop offset="0.8026" stop-color="#00a7b2"/><stop offset="0.8064" stop-color="#0052dd"/><stop offset="0.8102" stop-color="#7f0090"/><stop offset="0.8177" stop-color="#7c008d"/><stop offset="0.8214" stop-color="#60009e"/><stop offset="0.8252" stop-color="#7a009b"/><stop offset="0.8289" stop-color="#53005e"/><stop offset="0.8365" stop-color="#35003c"/><stop offset="0.844" stop-color="#400049"/><stop offset="0.8477" stop-color="#2d0034"/><stop offset="0.8515" stop-color="#52005e"/><stop offset="0.8553" stop-color="#300036"/><stop offset="0.8628" stop-color="#4a0055"/><stop offset="0.8703" stop-color="#3c0045"/><stop offset="0.8741" stop-color="#2d0033"/><stop offset="0.8778" stop-color="#3b0043"/><stop offset="0.8816" stop-color="#320039"/><stop offset="0.8891" stop-color="#33003a"/><stop offset="0.8966" stop-color="#28002e"/><stop offset="0.9117" stop-color="#230029"/><stop offset="0.9154" stop-color="#1a001e"/><stop offset="0.9229" stop-color="#1a001d"/><stop offset="0.9342" stop-color="#140017"/><stop offset="0.9455" stop-color="#0e0010"/><stop offset="0.9568" stop-color="#100012"/><stop offset="0.968" stop-color="#050006"/><stop offset="0.9793" stop-color="#050006"/><stop offset="0.9981" stop-color="#030004"/></linearGradient><linearGradient id="r7"><stop offset="0.00188" stop-color="#050005"/><stop offset="0.1936" stop-color="#050005"/><stop offset="0.1974" stop-color="#0f0011"/><stop offset="0.2086" stop-color="#6a007a"/><stop offset="0.2162" stop-color="#850096"/><stop offset="0.2199" stop-color="#7c009b"/><stop offset="0.2237" stop-color="#0000ae"/><stop offset="0.2274" stop-color="#001cdd"/><stop offset="0.2312" stop-color="#0084dd"/><stop offset="0.2387" stop-color="#009adb"/><stop offset="0.25" stop-color="#00a0c9"/><stop offset="0.2688" stop-color="#00aa93"/><stop offset="0.2763" stop-color="#00a875"/><stop offset="0.2876" stop-color="#00a561"/><stop offset="0.2914" stop-color="#00a34e"/><stop offset="0.2951" stop-color="#00a248"/><stop offset="0.2989" stop-color="#009f2d"/><stop offset="0.3139" stop-color="#009c00"/><stop offset="0.3289" stop-color="#009900"/><stop offset="0.3365" stop-color="#009b0c"/><stop offset="0.3402" stop-color="#009901"/><stop offset="0.344" stop-color="#009b10"/><stop offset="0.3515" stop-color="#009d1d"/><stop offset="0.3665" stop-color="#009b00"/><stop offset="0.4154" stop-color="#00ba00"/><stop offset="0.4417" stop-color="#00d200"/><stop offset="0.4605" stop-color="#00da00"/><stop offset="0.4944" stop-color="#00f400"/><stop offset="0.5282" stop-color="#00ee00"/><stop offset="0.5583" stop-color="#00c200"/><stop offset="0.5695" stop-color="#00a000"/><stop offset="0.5733" stop-color="#009f2f"/><stop offset="0.5771" stop-color="#00a668"/><stop offset="0.5808" stop-color="#00aa88"/><stop offset="0.5921" stop-color="#00aa99"/><stop offset="0.6222" stop-color="#00a8b0"/><stop offset="0.6372" stop-color="#0097dd"/><stop offset="0.6523" stop-color="#007fdd"/><stop offset="0.6673" stop-color="#006edd"/><stop offset="0.6711" stop-color="#0067dd"/><stop offset="0.6898" stop-color="#001cdd"/><stop offset="0.6936" stop-color="#0006dd"/><stop offset="0.7274" stop-color="#0000c4"/><stop offset="0.7312" stop-color="#0000c2"/><stop offset="0.735" stop-color="#0000ab"/><stop offset="0.7387" stop-color="#55009f"/><stop offset="0.7425" stop-color="#0000b0"/><stop offset="0.7462" stop-color="#00aaa1"/><stop offset="0.75" stop-color="#009bd8"/><stop offset="0.7538" stop-color="#0000d9"/><stop offset="0.7575" stop-color="#001edd"/><stop offset="0.7613" stop-color="#0021dd"/><stop offset="0.765" stop-color="#0056dd"/><stop offset="0.7688" stop-color="#002cdd"/><stop offset="0.7801" stop-color="#0030dd"/><stop offset="0.7838" stop-color="#00aa9f"/><stop offset="0.7876" stop-color="#00a8b1"/><stop offset="0.7914" stop-color="#002ddd"/><stop offset="0.7951" stop-color="#002ddd"/><stop offset="0.7989" stop-color="#009ecd"/><stop offset="0.8026" stop-color="#00aa97"/><stop offset="0.8064" stop-color="#006add"/><stop offset="0.8102" stop-color="#7f0090"/><stop offset="0.8177" stop-color="#7c008d"/><stop offset="0.8214" stop-color="#62009e"/><stop offset="0.8252" stop-color="#7a009b"/><stop offset="0.8289" stop-color="#53005e"/><stop offset="0.8365" stop-color="#35003c"/><stop offset="0.844" stop-color="#400049"/><stop offset="0.8477" stop-color="#2d0034"/><stop offset="0.8515" stop-color="#52005e"/><stop offset="0.8553" stop-color="#300036"/><stop offset="0.8628" stop-color="#4a0055"/><stop offset="0.8703" stop-color="#3c0045"/><stop offset="0.8741" stop-color="#2d0033"/><stop offset="0.8778" stop-color="#3b0043"/><stop offset="0.8816" stop-color="#320039"/><stop offset="0.8891" stop-color="#33003a"/><stop offset="0.8966" stop-color="#28002e"/><stop offset="0.9117" stop-color="#230029"/><stop offset="0.9154" stop-color="#1a001e"/><stop offset="0.9229" stop-color="#1a001d"/><stop offset="0.9342" stop-color="#140017"/><stop offset="0.9455" stop-color="#0e0010"/><stop offset="0.9568" stop-color="#100012"/><stop offset="0.968" stop-color="#050006"/><stop offset="0.9793" stop-color="#050006"/><stop offset="0.9981" stop-color="#030004"/></linearGradient><linearGradient id="r8"><stop offset="0.00188" stop-color="#050005"/><stop offset="0.1936" stop-color="#050005"/><stop offset="0.1974" stop-color="#0f0011"/><stop offset="0.2086" stop-color="#6a007a"/><stop offset="0.2162" stop-color="#850096"/><stop offset="0.2199" stop-color="#7b009b"/><stop offset="0.2237" stop-color="#0000ae"/><stop offset="0.2274" stop-color="#001bdd"/><stop offset="0.2312" stop-color="#0086dd"/><stop offset="0.2387" stop-color="#009cd4"/><stop offset="0.265" stop-color="#00aa97"/><stop offset="0.2688" stop-color="#00aa8d"/><stop offset="0.2726" stop-color="#00a668"/><stop offset="0.2763" stop-color="#00a667"/><stop offset="0.2801" stop-color="#00a45a"/><stop offset="0.2876" stop-color="#00a350"/><stop offset="0.2914" stop-color="#009f32"/><stop offset="0.2951" stop-color="#009f2d"/><stop offset="0.2989" stop-color="#009b10"/><stop offset="0.3064" stop-color="#009a08"/><stop offset="0.3139" stop-color="#009d00"/><stop offset="0.3402" stop-color="#009b00"/><stop offset="0.344" stop-color="#009c18"/><stop offset="0.3477" stop-color="#009b12"/><stop offset="0.3515" stop-color="#009d20"/><stop offset="0.3628" stop-color="#009900"/><stop offset="0.3778" stop-color="#00a800"/><stop offset="0.4117" stop-color="#00c400"/><stop offset="0.4267" stop-color="#00cc00"/><stop offset="0.4906" stop-color="#00f700"/><stop offset="0.5169" stop-color="#00ee00"/><stop offset="0.532" stop-color="#00ed00"/><stop offset="0.5583" stop-color="#00cb00"/><stop offset="0.5733" stop-color="#009a00"/><stop offset="0.5771" stop-color="#00a140"/><stop offset="0.5846" stop-color="#00aa8a"/><stop offset="0.6147" stop-color="#00aaa8"/><stop offset="0.6259" stop-color="#00a9ad"/><stop offset="0.6372" stop-color="#009bd7"/><stop offset="0.6485" stop-color="#0082dd"/><stop offset="0.6673" stop-color="#0072dd"/><stop offset="0.6711" stop-color="#006cdd"/><stop offset="0.6786" stop-color="#004add"/><stop offset="0.6898" stop-color="#0026dd"/><stop offset="0.6936" stop-color="#0014dd"/><stop offset="0.7086" stop-color="#0000d7"/><stop offset="0.7312" stop-color="#0000c7"/><stop offset="0.735" stop-color="#0000b0"/><stop offset="0.7387" stop-color="#4c00a1"/><stop offset="0.7425" stop-color="#0000b3"/><stop offset="0.7462" stop-color="#00aa96"/><stop offset="0.75" stop-color="#009fcc"/><stop offset="0.7538" stop-color="#0000dc"/><stop offset="0.7575" stop-color="#0027dd"/><stop offset="0.7613" stop-color="#002add"/><stop offset="0.765" stop-color="#005bdd"/><stop offset="0.7688" stop-color="#0036dd"/><stop offset="0.7801" stop-color="#003bdd"/><stop offset="0.7838" stop-color="#00aa99"/><stop offset="0.7876" stop-color="#00aaaa"/><stop offset="0.7914" stop-color="#0036dd"/><stop offset="0.7951" stop-color="#0035dd"/><stop offset="0.7989" stop-color="#0093dd"/><stop offset="0.8026" stop-color="#00a7b4"/><stop offset="0.8064" stop-color="#004cdd"/><stop offset="0.8102" stop-color="#7f0090"/><stop offset="0.8177" stop-color="#7c008d"/><stop offset="0.8214" stop-color="#61009e"/><stop offset="0.8252" stop-color="#7a009b"/><stop offset="0.8289" stop-color="#53005e"/><stop offset="0.8365" stop-color="#35003c"/><stop offset="0.844" stop-color="#400049"/><stop offset="0.8477" stop-color="#2d0034"/><stop offset="0.8515" stop-color="#52005e"/><stop offset="0.8553" stop-color="#300036"/><stop offset="0.8628" stop-color="#4a0055"/><stop offset="0.8703" stop-color="#3c0045"/><stop offset="0.8741" stop-color="#2d0033"/><stop offset="0.8778" stop-color="#3b0043"/><stop offset="0.8816" stop-color="#320039"/><stop offset="0.8891" stop-color="#33003a"/><stop offset="0.8966" stop-color="#28002e"/><stop offset="0.9117" stop-color="#230029"/><stop offset="0.9154" stop-color="#1a001e"/><stop offset="0.9229" stop-color="#1a001d"/><stop offset="0.9342" stop-color="#140017"/><stop offset="0.9455" stop-color="#0e0010"/><stop offset="0.9568" stop-color="#100012"/><stop offset="0.968" stop-color="#050006"/><stop offset="0.9793" stop-color="#050006"/><stop offset="0.9981" stop-color="#030004"/></linearGradient><linearGradient id="r9"><stop offset="0.00188" stop-color="#050005"/><stop offset="0.1936" stop-color="#050005"/><stop offset="0.1974" stop-color="#0f0011"/><stop offset="0.2086" stop-color="#6a007a"/><stop offset="0.2162" stop-color="#850096"/><stop offset="0.2199" stop-color="#7a009b"/><stop offset="0.2237" stop-color="#0000b2"/><stop offset="0.2274" stop-color="#002cdd"/><stop offset="0.2312" stop-color="#008cdd"/><stop offset="0.235" stop-color="#0099dc"/><stop offset="0.2425" stop-color="#00a2c3"/><stop offset="0.2538" stop-color="#00aaa7"/><stop offset="0.2613" stop-color="#00aa9d"/><stop offset="0.2688" stop-color="#00a980"/><stop offset="0.2726" stop-color="#00a34d"/><stop offset="0.2801" stop-color="#009f30"/><stop offset="0.2876" stop-color="#009d24"/><stop offset="0.2914" stop-color="#009a05"/><stop offset="0.2951" stop-color="#009a08"/><stop offset="0.3026" stop-color="#009f00"/><stop offset="0.3327" stop-color="#00a300"/><stop offset="0.3553" stop-color="#00a000"/><stop offset="0.3778" stop-color="#00b200"/><stop offset="0.4041" stop-color="#00be00"/><stop offset="0.4417" stop-color="#00dd00"/><stop offset="0.468" stop-color="#00e900"/><stop offset="0.4868" stop-color="#00fb00"/><stop offset="0.4906" stop-color="#1bff00"/><stop offset="0.4944" stop-color="#05ff00"/><stop offset="0.5207" stop-color="#00f400"/><stop offset="0.532" stop-color="#00f100"/><stop offset="0.5545" stop-color="#00da00"/><stop offset="0.5658" stop-color="#00bc00"/><stop offset="0.5733" stop-color="#009a00"/><stop offset="0.5771" stop-color="#00a036"/><stop offset="0.5846" stop-color="#00aa84"/><stop offset="0.6147" stop-color="#00aaa2"/><stop offset="0.6259" stop-color="#00aaa8"/><stop offset="0.641" stop-color="#0099dd"/><stop offset="0.656" stop-color="#0084dd"/><stop offset="0.6711" stop-color="#0074dd"/><stop offset="0.6786" stop-color="#0055dd"/><stop offset="0.6898" stop-color="#0035dd"/><stop offset="0.6936" stop-color="#0025dd"/><stop offset="0.7011" stop-color="#0015dd"/><stop offset="0.7049" stop-color="#0005dd"/><stop offset="0.7312" stop-color="#0000c7"/><stop offset="0.735" stop-color="#0000b0"/><stop offset="0.7387" stop-color="#4900a1"/><stop offset="0.7425" stop-color="#0000b6"/><stop offset="0.7462" stop-color="#00a9ac"/><stop offset="0.75" stop-color="#0097dd"/><stop offset="0.7538" stop-color="#0008dd"/><stop offset="0.7575" stop-color="#002edd"/><stop offset="0.7613" stop-color="#0030dd"/><stop offset="0.765" stop-color="#006cdd"/><stop offset="0.7688" stop-color="#003add"/><stop offset="0.7801" stop-color="#0039dd"/><stop offset="0.7838" stop-color="#00a8b0"/><stop offset="0.7876" stop-color="#00a1c5"/><stop offset="0.7914" stop-color="#0038dd"/><stop offset="0.7951" stop-color="#003bdd"/><stop offset="0.7989" stop-color="#0094dd"/><stop offset="0.8026" stop-color="#00a7b2"/><stop offset="0.8064" stop-color="#0053dd"/><stop offset="0.8102" stop-color="#7f0090"/><stop offset="0.8177" stop-color="#7c008d"/><stop offset="0.8214" stop-color="#5f009e"/><stop offset="0.8252" stop-color="#7a009b"/><stop offset="0.8289" stop-color="#53005e"/><stop offset="0.8365" stop-color="#35003c"/><stop offset="0.844" stop-color="#400049"/><stop offset="0.8477" stop-color="#2d0034"/><stop offset="0.8515" stop-color="#52005e"/><stop offset="0.8553" stop-color="#300036"/><stop offset="0.8628" stop-color="#4a0055"/><stop offset="0.8703" stop-color="#3c0045"/><stop offset="0.8741" stop-color="#2d0033"/><stop offset="0.8778" stop-color="#3b0043"/><stop offset="0.8816" stop-color="#320039"/><stop offset="0.8891" stop-color="#33003a"/><stop offset="0.8966" stop-color="#28002e"/><stop offset="0.9117" stop-color="#230029"/><stop offset="0.9154" stop-color="#1a001e"/><stop offset="0.9229" stop-color="#1a001d"/><stop offset="0.9342" stop-color="#140017"/><stop offset="0.9455" stop-color="#0e0010"/><stop offset="0.9568" stop-color="#100012"/><stop offset="0.968" stop-color="#050006"/><stop offset="0.9793" stop-color="#050006"/><stop offset="0.9981" stop-color="#030004"/></linearGradient><linearGradient id="r10"><stop offset="0.00188" stop-color="#050005"/><stop offset="0.1936" stop-color="#050005"/><stop offset="0.1974" stop-color="#0f0011"/><stop offset="0.2086" stop-color="#6a007a"/><stop offset="0.2162" stop-color="#850096"/><stop offset="0.2199" stop-color="#7c009b"/><stop offset="0.2237" stop-color="#0000ad"/><stop offset="0.2274" stop-color="#0014dd"/><stop offset="0.2312" stop-color="#0083dd"/><stop offset="0.2387" stop-color="#0099dc"/><stop offset="0.25" stop-color="#00a2c3"/><stop offset="0.2575" stop-color="#00a8af"/><stop offset="0.2688" stop-color="#00aa91"/><stop offset="0.2726" stop-color="#00a879"/><stop offset="0.2763" stop-color="#00a97c"/><stop offset="0.2876" stop-color="#00a459"/><stop offset="0.2914" stop-color="#00a246"/><stop offset="0.2951" stop-color="#00a247"/><stop offset="0.2989" stop-color="#009d22"/><stop offset="0.3102" stop-color="#009902"/><stop offset="0.3402" stop-color="#009a04"/><stop offset="0.344" stop-color="#009c14"/><stop offset="0.3553" stop-color="#009b0e"/><stop offset="0.359" stop-color="#009902"/><stop offset="0.3665" stop-color="#009e00"/><stop offset="0.3703" stop-color="#f10000"/><stop offset="0.3741" stop-color="#cc2a2a"/><stop offset="0.3778" stop-color="#00a600"/><stop offset="0.4342" stop-color="#00cb00"/><stop offset="0.4455" stop-color="#00d300"/><stop offset="0.4831" stop-color="#00ed00"/><stop offset="0.4981" stop-color="#00f000"/><stop offset="0.5357" stop-color="#00e000"/><stop offset="0.5583" stop-color="#00c900"/><stop offset="0.5695" stop-color="#00a100"/><stop offset="0.5733" stop-color="#009e24"/><stop offset="0.5771" stop-color="#00a561"/><stop offset="0.5808" stop-color="#00aa88"/><stop offset="0.6147" stop-color="#00a9ac"/><stop offset="0.6259" stop-color="#00a7b4"/><stop offset="0.6372" stop-color="#009ada"/><stop offset="0.6485" stop-color="#0080dd"/><stop offset="0.6673" stop-color="#0071dd"/><stop offset="0.6711" stop-color="#006add"/><stop offset="0.6861" stop-color="#002add"/><stop offset="0.6936" stop-color="#0010dd"/><stop offset="0.7049" stop-color="#0000da"/><stop offset="0.7312" stop-color="#0000c2"/><stop offset="0.735" stop-color="#0000ac"/><stop offset="0.7387" stop-color="#5400a0"/><stop offset="0.7425" stop-color="#0000b2"/><stop offset="0.7462" stop-color="#00aa8e"/><stop offset="0.75" stop-color="#00a2c3"/><stop offset="0.7538" stop-color="#0000db"/><stop offset="0.7575" stop-color="#0022dd"/><stop offset="0.7613" stop-color="#0023dd"/><stop offset="0.765" stop-color="#005edd"/><stop offset="0.7688" stop-color="#002edd"/><stop offset="0.7801" stop-color="#0033dd"/><stop offset="0.7838" stop-color="#00aa93"/><stop offset="0.7876" stop-color="#00aaa5"/><stop offset="0.7914" stop-color="#0032dd"/><stop offset="0.7951" stop-color="#0033dd"/><stop offset="0.7989" stop-color="#0091dd"/><stop offset="0.8026" stop-color="#00a5b9"/><stop offset="0.8064" stop-color="#0048dd"/><stop offset="0.8102" stop-color="#7f0090"/><stop offset="0.8177" stop-color="#7c008d"/><stop offset="0.8214" stop-color="#61009e"/><stop offset="0.8252" stop-color="#7a009b"/><stop offset="0.8289" stop-color="#53005e"/><stop offset="0.8365" stop-color="#35003c"/><stop offset="0.844" stop-color="#400049"/><stop offset="0.8477" stop-color="#2d0034"/><stop offset="0.8515" stop-color="#52005e"/><stop offset="0.8553" stop-color="#300036"/><stop offset="0.8628" stop-color="#4a0055"/><stop offset="0.8703" stop-color="#3c0045"/><stop offset="0.8741" stop-color="#2d0033"/><stop offset="0.8778" stop-color="#3b0043"/><stop offset="0.8816" stop-color="#320039"/><stop offset="0.8891" stop-color="#33003a"/><stop offset="0.8966" stop-color="#28002e"/><stop offset="0.9117" stop-color="#230029"/><stop offset="0.9154" stop-color="#1a001e"/><stop offset="0.9229" stop-color="#1a001d"/><stop offset="0.9342" stop-color="#140017"/><stop offset="0.9455" stop-color="#0e0010"/><stop offset="0.9568" stop-color="#100012"/><stop offset="0.968" stop-color="#050006"/><stop offset="0.9793" stop-color="#050006"/><stop offset="0.9981" stop-color="#030004"/></linearGradient><linearGradient id="r11"><stop offset="0.00188" stop-color="#050005"/><stop offset="0.1936" stop-color="#050005"/><stop offset="0.1974" stop-color="#0f0011"/><stop offset="0.2086" stop-color="#6a007a"/><stop offset="0.2162" stop-color="#850096"/><stop offset="0.2199" stop-color="#7a009b"/><stop offset="0.2237" stop-color="#0000b2"/><stop offset="0.2274" stop-color="#0030dd"/><stop offset="0.2312" stop-color="#008edd"/><stop offset="0.235" stop-color="#009ada"/><stop offset="0.2425" stop-color="#00a2c2"/><stop offset="0.25" stop-color="#00a6b5"/><stop offset="0.2538" stop-color="#00aaa5"/><stop offset="0.2613" stop-color="#00aa99"/><stop offset="0.265" stop-color="#00aa8e"/><stop offset="0.2688" stop-color="#00a667"/><stop offset="0.2726" stop-color="#009f2d"/><stop offset="0.2763" stop-color="#00a036"/><stop offset="0.2838" stop-color="#009c1a"/><stop offset="0.2914" stop-color="#009903"/><stop offset="0.2951" stop-color="#009b0d"/><stop offset="0.2989" stop-color="#009e00"/><stop offset="0.3289" stop-color="#00a800"/><stop offset="0.3553" stop-color="#009e00"/><stop offset="0.3778" stop-color="#00b200"/><stop offset="0.4041" stop-color="#00c200"/><stop offset="0.4455" stop-color="#00dd00"/><stop offset="0.4944" stop-color="#00fa00"/><stop offset="0.532" stop-color="#00f500"/><stop offset="0.5583" stop-color="#00d700"/><stop offset="0.5695" stop-color="#00ae00"/><stop offset="0.5733" stop-color="#009c00"/><stop offset="0.5808" stop-color="#00a560"/><stop offset="0.5846" stop-color="#00a982"/><stop offset="0.5996" stop-color="#00aa94"/><stop offset="0.6184" stop-color="#00aaa2"/><stop offset="0.6259" stop-color="#00aaa9"/><stop offset="0.6372" stop-color="#009fcb"/><stop offset="0.641" stop-color="#0098dd"/><stop offset="0.6523" stop-color="#0086dd"/><stop offset="0.6711" stop-color="#0076dd"/><stop offset="0.6823" stop-color="#0048dd"/><stop offset="0.6936" stop-color="#001bdd"/><stop offset="0.7049" stop-color="#0000dc"/><stop offset="0.7312" stop-color="#0000ca"/><stop offset="0.735" stop-color="#0000b3"/><stop offset="0.7387" stop-color="#4200a2"/><stop offset="0.7425" stop-color="#0000b8"/><stop offset="0.7462" stop-color="#00aaa1"/><stop offset="0.75" stop-color="#009bd6"/><stop offset="0.7538" stop-color="#0005dd"/><stop offset="0.7575" stop-color="#002ddd"/><stop offset="0.7613" stop-color="#002edd"/><stop offset="0.765" stop-color="#0063dd"/><stop offset="0.7688" stop-color="#0039dd"/><stop offset="0.7801" stop-color="#003cdd"/><stop offset="0.7838" stop-color="#00aa90"/><stop offset="0.7876" stop-color="#00aaa2"/><stop offset="0.7914" stop-color="#003add"/><stop offset="0.7951" stop-color="#003add"/><stop offset="0.7989" stop-color="#00a1c5"/><stop offset="0.8026" stop-color="#00aa92"/><stop offset="0.8064" stop-color="#0077dd"/><stop offset="0.8102" stop-color="#7f0090"/><stop offset="0.8177" stop-color="#7c008d"/><stop offset="0.8214" stop-color="#5f009e"/><stop offset="0.8252" stop-color="#7a009b"/><stop offset="0.8289" stop-color="#53005e"/><stop offset="0.8365" stop-color="#35003c"/><stop offset="0.844" stop-color="#400049"/><stop offset="0.8477" stop-color="#2d0034"/><stop offset="0.8515" stop-color="#52005e"/><stop offset="0.8553" stop-color="#300036"/><stop offset="0.8628" stop-color="#4a0055"/><stop offset="0.8703" stop-color="#3c0045"/><stop offset="0.8741" stop-color="#2d0033"/><stop offset="0.8778" stop-color="#3b0043"/><stop offset="0.8816" stop-color="#320039"/><stop offset="0.8891" stop-color="#33003a"/><stop offset="0.8966" stop-color="#28002e"/><stop offset="0.9117" stop-color="#230029"/><stop offset="0.9154" stop-color="#1a001e"/><stop offset="0.9229" stop-color="#1a001d"/><stop offset="0.9342" stop-color="#140017"/><stop offset="0.9455" stop-color="#0e0010"/><stop offset="0.9568" stop-color="#100012"/><stop offset="0.968" stop-color="#050006"/><stop offset="0.9793" stop-color="#050006"/><stop offset="0.9981" stop-color="#030004"/></linearGradient><linearGradient id="r12"><stop offset="0.00188" stop-color="#050005"/><stop offset="0.1936" stop-color="#050005"/><stop offset="0.1974" stop-color="#0f0011"/><stop offset="0.2086" stop-color="#6a007a"/><stop offset="0.2162" stop-color="#850096"/><stop offset="0.2199" stop-color="#7b009b"/><stop offset="0.2237" stop-color="#0000af"/><stop offset="0.2274" stop-color="#0021dd"/><stop offset="0.2312" stop-color="#0087dd"/><stop offset="0.2387" stop-color="#009cd5"/><stop offset="0.2538" stop-color="#00a8af"/><stop offset="0.2613" stop-color="#00aaa3"/><stop offset="0.2688" stop-color="#00aa8d"/><stop offset="0.2726" stop-color="#00a76d"/><stop offset="0.2838" stop-color="#00a13c"/><stop offset="0.2876" stop-color="#00a036"/><stop offset="0.2914" stop-color="#009d1f"/><stop offset="0.2951" stop-color="#009c19"/><stop offset="0.2989" stop-color="#009a00"/><stop offset="0.3402" stop-color="#009a00"/><stop offset="0.344" stop-color="#009a0c"/><stop offset="0.3515" stop-color="#009b10"/><stop offset="0.359" stop-color="#009c00"/><stop offset="0.3816" stop-color="#00ae00"/><stop offset="0.4229" stop-color="#00c700"/><stop offset="0.4455" stop-color="#00d600"/><stop offset="0.4831" stop-color="#00f200"/><stop offset="0.4981" stop-color="#00f400"/><stop offset="0.5282" stop-color="#00f000"/><stop offset="0.5583" stop-color="#00ca00"/><stop offset="0.5695" stop-color="#00a500"/><stop offset="0.5733" stop-color="#009b12"/><stop offset="0.5771" stop-color="#00a34f"/><stop offset="0.5808" stop-color="#00a773"/><stop offset="0.5846" stop-color="#00aa8c"/><stop offset="0.6259" stop-color="#00a8b1"/><stop offset="0.6335" stop-color="#009fcb"/><stop offset="0.641" stop-color="#0095dd"/><stop offset="0.656" stop-color="#0081dd"/><stop offset="0.6711" stop-color="#006ddd"/><stop offset="0.6936" stop-color="#0015dd"/><stop offset="0.6974" stop-color="#0014dd"/><stop offset="0.7049" stop-color="#0000db"/><stop offset="0.7312" stop-color="#0000c4"/><stop offset="0.735" stop-color="#0000ae"/><stop offset="0.7387" stop-color="#4f00a0"/><stop offset="0.7425" stop-color="#0000b3"/><stop offset="0.7462" stop-color="#00a7b4"/><stop offset="0.75" stop-color="#0093dd"/><stop offset="0.7538" stop-color="#0002dd"/><stop offset="0.7575" stop-color="#0027dd"/><stop offset="0.7613" stop-color="#0029dd"/><stop offset="0.765" stop-color="#0055dd"/><stop offset="0.7688" stop-color="#0036dd"/><stop offset="0.7801" stop-color="#003add"/><stop offset="0.7838" stop-color="#00aa99"/><stop offset="0.7876" stop-color="#00aaaa"/><stop offset="0.7914" stop-color="#0033dd"/><stop offset="0.7951" stop-color="#0033dd"/><stop offset="0.7989" stop-color="#009adb"/><stop offset="0.8026" stop-color="#00aaa6"/><stop offset="0.8064" stop-color="#005cdd"/><stop offset="0.8102" stop-color="#7f0090"/><stop offset="0.8177" stop-color="#7c008d"/><stop offset="0.8214" stop-color="#60009e"/><stop offset="0.8252" stop-color="#7a009b"/><stop offset="0.8289" stop-color="#53005e"/><stop offset="0.8365" stop-color="#35003c"/><stop offset="0.844" stop-color="#400049"/><stop offset="0.8477" stop-color="#2d0034"/><stop offset="0.8515" stop-color="#52005e"/><stop offset="0.8553" stop-color="#300036"/><stop offset="0.8628" stop-color="#4a0055"/><stop offset="0.8703" stop-color="#3c0045"/><stop offset="0.8741" stop-color="#2d0033"/><stop offset="0.8778" stop-color="#3b0043"/><stop offset="0.8816" stop-color="#320039"/><stop offset="0.8891" stop-color="#33003a"/><stop offset="0.8966" stop-color="#28002e"/><stop offset="0.9117" stop-color="#230029"/><stop offset="0.9154" stop-color="#1a001e"/><stop offset="0.9229" stop-color="#1a001d"/><stop offset="0.9342" stop-color="#140017"/><stop offset="0.9455" stop-color="#0e0010"/><stop offset="0.9568" stop-color="#100012"/><stop offset="0.968" stop-color="#050006"/><stop offset="0.9793" stop-color="#050006"/><stop offset="0.9981" stop-color="#030004"/></linearGradient><linearGradient id="r13"><stop offset="0.00188" stop-color="#050005"/><stop offset="0.1936" stop-color="#050005"/><stop offset="0.1974" stop-color="#0f0011"/><stop offset="0.2086" stop-color="#6a007a"/><stop offset="0.2162" stop-color="#850096"/><stop offset="0.2199" stop-color="#7b009b"/><stop offset="0.2237" stop-color="#0000b2"/><stop offset="0.2274" stop-color="#002bdd"/><stop offset="0.2312" stop-color="#008cdd"/><stop offset="0.235" stop-color="#009ada"/><stop offset="0.2425" stop-color="#00a2c3"/><stop offset="0.25" stop-color="#00a7b3"/><stop offset="0.2575" stop-color="#00aaa0"/><stop offset="0.265" stop-color="#00aa8c"/><stop offset="0.2688" stop-color="#00a667"/><stop offset="0.2726" stop-color="#009f32"/><stop offset="0.2801" stop-color="#009f2e"/><stop offset="0.2838" stop-color="#009d21"/><stop offset="0.2876" stop-color="#009d22"/><stop offset="0.2914" stop-color="#009b10"/><stop offset="0.2951" stop-color="#009b10"/><stop offset="0.2989" stop-color="#009b00"/><stop offset="0.3214" stop-color="#00a700"/><stop offset="0.3402" stop-color="#00a400"/><stop offset="0.3515" stop-color="#009d00"/><stop offset="0.3703" stop-color="#00a800"/><stop offset="0.3741" stop-color="#25ff00"/><stop offset="0.3778" stop-color="#00ac00"/><stop offset="0.4117" stop-color="#00ca00"/><stop offset="0.453" stop-color="#00e300"/><stop offset="0.4718" stop-color="#00f100"/><stop offset="0.4981" stop-color="#00fb00"/><stop offset="0.532" stop-color="#00f600"/><stop offset="0.5583" stop-color="#00d400"/><stop offset="0.5695" stop-color="#00ac00"/><stop offset="0.5733" stop-color="#009901"/><stop offset="0.5771" stop-color="#00a038"/><stop offset="0.5846" stop-color="#00a878"/><stop offset="0.5883" stop-color="#00aa88"/><stop offset="0.6109" stop-color="#00aa9b"/><stop offset="0.6259" stop-color="#00aaa8"/><stop offset="0.6447" stop-color="#0095dd"/><stop offset="0.6598" stop-color="#0082dd"/><stop offset="0.6711" stop-color="#0078dd"/><stop offset="0.6823" stop-color="#0046dd"/><stop offset="0.6936" stop-color="#001ddd"/><stop offset="0.7011" stop-color="#0011dd"/><stop offset="0.7086" stop-color="#0000dc"/><stop offset="0.7312" stop-color="#0000c9"/><stop offset="0.735" stop-color="#0000b4"/><stop offset="0.7387" stop-color="#4300a2"/><stop offset="0.7425" stop-color="#0000b7"/><stop offset="0.7462" stop-color="#00aa9e"/><stop offset="0.75" stop-color="#009dd2"/><stop offset="0.7538" stop-color="#0008dd"/><stop offset="0.7575" stop-color="#002edd"/><stop offset="0.7613" stop-color="#0033dd"/><stop offset="0.765" stop-color="#0065dd"/><stop offset="0.7688" stop-color="#003fdd"/><stop offset="0.7801" stop-color="#0040dd"/><stop offset="0.7838" stop-color="#00aa9c"/><stop offset="0.7876" stop-color="#00a9ae"/><stop offset="0.7914" stop-color="#003add"/><stop offset="0.7951" stop-color="#003bdd"/><stop offset="0.7989" stop-color="#00a0c7"/><stop offset="0.8026" stop-color="#00aa93"/><stop offset="0.8064" stop-color="#0077dd"/><stop offset="0.8102" stop-color="#7f0090"/><stop offset="0.8177" stop-color="#7c008d"/><stop offset="0.8214" stop-color="#5f009e"/><stop offset="0.8252" stop-color="#7a009b"/><stop offset="0.8289" stop-color="#53005e"/><stop offset="0.8365" stop-color="#35003c"/><stop offset="0.844" stop-color="#400049"/><stop offset="0.8477" stop-color="#2d0034"/><stop offset="0.8515" stop-color="#52005e"/><stop offset="0.8553" stop-color="#300036"/><stop offset="0.8628" stop-color="#4a0055"/><stop offset="0.8703" stop-color="#3c0045"/><stop offset="0.8741" stop-color="#2d0033"/><stop offset="0.8778" stop-color="#3b0043"/><stop offset="0.8816" stop-color="#320039"/><stop offset="0.8891" stop-color="#33003a"/><stop offset="0.8966" stop-color="#28002e"/><stop offset="0.9117" stop-color="#230029"/><stop offset="0.9154" stop-color="#1a001e"/><stop offset="0.9229" stop-color="#1a001d"/><stop offset="0.9342" stop-color="#140017"/><stop offset="0.9455" stop-color="#0e0010"/><stop offset="0.9568" stop-color="#100012"/><stop offset="0.968" stop-color="#050006"/><stop offset="0.9793" stop-color="#050006"/><stop offset="0.9981" stop-color="#030004"/></linearGradient><linearGradient id="r14"><stop offset="0.00188" stop-color="#050005"/><stop offset="0.1936" stop-color="#050005"/><stop offset="0.1974" stop-color="#0f0011"/><stop offset="0.2086" stop-color="#6a007a"/><stop offset="0.2162" stop-color="#850096"/><stop offset="0.2199" stop-color="#7b009b"/><stop offset="0.2237" stop-color="#0000af"/><stop offset="0.2274" stop-color="#001cdd"/><stop offset="0.2312" stop-color="#0084dd"/><stop offset="0.2387" stop-color="#009bd8"/><stop offset="0.25" stop-color="#00a3c0"/><stop offset="0.2538" stop-color="#00a8b0"/><stop offset="0.265" stop-color="#00aa98"/><stop offset="0.2688" stop-color="#00aa8c"/><stop offset="0.2726" stop-color="#00a665"/><stop offset="0.2763" stop-color="#00a562"/><stop offset="0.2801" stop-color="#00a34d"/><stop offset="0.2838" stop-color="#00a246"/><stop offset="0.2876" stop-color="#00a249"/><stop offset="0.2914" stop-color="#00a036"/><stop offset="0.2951" stop-color="#00a036"/><stop offset="0.2989" stop-color="#009b11"/><stop offset="0.3026" stop-color="#009c16"/><stop offset="0.3102" stop-color="#009a00"/><stop offset="0.3365" stop-color="#009a08"/><stop offset="0.3402" stop-color="#009902"/><stop offset="0.3477" stop-color="#009b12"/><stop offset="0.3553" stop-color="#009a0a"/><stop offset="0.359" stop-color="#009900"/><stop offset="0.3816" stop-color="#00a900"/><stop offset="0.4117" stop-color="#00c000"/><stop offset="0.4192" stop-color="#00c100"/><stop offset="0.4229" stop-color="#daf500"/><stop offset="0.4267" stop-color="#00c700"/><stop offset="0.4756" stop-color="#00ed00"/><stop offset="0.4868" stop-color="#00ef00"/><stop offset="0.4944" stop-color="#00f500"/><stop offset="0.5282" stop-color="#00f000"/><stop offset="0.5583" stop-color="#00c900"/><stop offset="0.5695" stop-color="#00a400"/><stop offset="0.5733" stop-color="#009d20"/><stop offset="0.5771" stop-color="#00a55c"/><stop offset="0.5808" stop-color="#00aa89"/><stop offset="0.5883" stop-color="#00aa98"/><stop offset="0.6222" stop-color="#00a9ac"/><stop offset="0.6259" stop-color="#00a7b2"/><stop offset="0.6335" stop-color="#009ecd"/><stop offset="0.641" stop-color="#0093dd"/><stop offset="0.6523" stop-color="#0081dd"/><stop offset="0.6635" stop-color="#0077dd"/><stop offset="0.6711" stop-color="#0069dd"/><stop offset="0.6786" stop-color="#0042dd"/><stop offset="0.6898" stop-color="#001edd"/><stop offset="0.6936" stop-color="#000cdd"/><stop offset="0.7124" stop-color="#0000d2"/><stop offset="0.7312" stop-color="#0000c6"/><stop offset="0.735" stop-color="#0000ae"/><stop offset="0.7387" stop-color="#5000a0"/><stop offset="0.7425" stop-color="#0000b2"/><stop offset="0.7462" stop-color="#00a9ac"/><stop offset="0.75" stop-color="#0095dd"/><stop offset="0.7538" stop-color="#0000db"/><stop offset="0.7575" stop-color="#0022dd"/><stop offset="0.7613" stop-color="#0023dd"/><stop offset="0.765" stop-color="#006add"/><stop offset="0.7688" stop-color="#0030dd"/><stop offset="0.7801" stop-color="#0033dd"/><stop offset="0.7838" stop-color="#00aaa4"/><stop offset="0.7876" stop-color="#00a6b7"/><stop offset="0.7914" stop-color="#0034dd"/><stop offset="0.7951" stop-color="#0034dd"/><stop offset="0.7989" stop-color="#009dd1"/><stop offset="0.8026" stop-color="#00aa9d"/><stop offset="0.8064" stop-color="#0066dd"/><stop offset="0.8102" stop-color="#7f0090"/><stop offset="0.8177" stop-color="#7c008d"/><stop offset="0.8214" stop-color="#61009e"/><stop offset="0.8252" stop-color="#7a009b"/><stop offset="0.8289" stop-color="#53005e"/><stop offset="0.8365" stop-color="#35003c"/><stop offset="0.844" stop-color="#400049"/><stop offset="0.8477" stop-color="#2d0034"/><stop offset="0.8515" stop-color="#52005e"/><stop offset="0.8553" stop-color="#300036"/><stop offset="0.8628" stop-color="#4a0055"/><stop offset="0.8703" stop-color="#3c0045"/><stop offset="0.8741" stop-color="#2d0033"/><stop offset="0.8778" stop-color="#3b0043"/><stop offset="0.8816" stop-color="#320039"/><stop offset="0.8891" stop-color="#33003a"/><stop offset="0.8966" stop-color="#28002e"/><stop offset="0.9117" stop-color="#230029"/><stop offset="0.9154" stop-color="#1a001e"/><stop offset="0.9229" stop-color="#1a001d"/><stop offset="0.9342" stop-color="#140017"/><stop offset="0.9455" stop-color="#0e0010"/><stop offset="0.9568" stop-color="#100012"/><stop offset="0.968" stop-color="#050006"/><stop offset="0.9793" stop-color="#050006"/><stop offset="0.9981" stop-color="#030004"/></linearGradient><linearGradient id="r15"><stop offset="0.00188" stop-color="#050005"/><stop offset="0.1936" stop-color="#050005"/><stop offset="0.1974" stop-color="#0f0011"/><stop offset="0.2086" stop-color="#6a007a"/><stop offset="0.2162" stop-color="#850096"/><stop offset="0.2199" stop-color="#7b009b"/><stop offset="0.2237" stop-color="#0000af"/><stop offset="0.2274" stop-color="#0021dd"/><stop offset="0.2312" stop-color="#0089dd"/><stop offset="0.235" stop-color="#0095dd"/><stop offset="0.2613" stop-color="#00aaa4"/><stop offset="0.2688" stop-color="#00aa8e"/><stop offset="0.2726" stop-color="#00a667"/><stop offset="0.2876" stop-color="#00a144"/><stop offset="0.2914" stop-color="#009f2e"/><stop offset="0.2951" stop-color="#009f2e"/><stop offset="0.2989" stop-color="#009b13"/><stop offset="0.3064" stop-color="#009b00"/><stop offset="0.3327" stop-color="#009c00"/><stop offset="0.3402" stop-color="#009903"/><stop offset="0.344" stop-color="#009b0e"/><stop offset="0.3477" stop-color="#009a08"/><stop offset="0.3515" stop-color="#009b10"/><stop offset="0.359" stop-color="#009b00"/><stop offset="0.4041" stop-color="#00bc00"/><stop offset="0.4192" stop-color="#00c400"/><stop offset="0.4229" stop-color="#bbff00"/><stop offset="0.4267" stop-color="#00c900"/><stop offset="0.4605" stop-color="#00e000"/><stop offset="0.4831" stop-color="#00f300"/><stop offset="0.5282" stop-color="#00f200"/><stop offset="0.5583" stop-color="#00c900"/><stop offset="0.5695" stop-color="#00a400"/><stop offset="0.5733" stop-color="#009c18"/><stop offset="0.5771" stop-color="#00a353"/><stop offset="0.5808" stop-color="#00a97d"/><stop offset="0.5846" stop-color="#00aa8f"/><stop offset="0.6259" stop-color="#00a7b2"/><stop offset="0.641" stop-color="#0093dd"/><stop offset="0.6598" stop-color="#0079dd"/><stop offset="0.6711" stop-color="#0065dd"/><stop offset="0.6786" stop-color="#0041dd"/><stop offset="0.6898" stop-color="#001fdd"/><stop offset="0.6936" stop-color="#000bdd"/><stop offset="0.7086" stop-color="#0000d4"/><stop offset="0.7312" stop-color="#0000c3"/><stop offset="0.735" stop-color="#0000ad"/><stop offset="0.7387" stop-color="#5200a0"/><stop offset="0.7425" stop-color="#0000b2"/><stop offset="0.7462" stop-color="#00aa89"/><stop offset="0.75" stop-color="#00a3be"/><stop offset="0.7538" stop-color="#0000db"/><stop offset="0.7575" stop-color="#0021dd"/><stop offset="0.7613" stop-color="#0022dd"/><stop offset="0.765" stop-color="#006bdd"/><stop offset="0.7688" stop-color="#002ddd"/><stop offset="0.7801" stop-color="#0033dd"/><stop offset="0.7838" stop-color="#00aaa5"/><stop offset="0.7876" stop-color="#00a5b8"/><stop offset="0.7914" stop-color="#0032dd"/><stop offset="0.7951" stop-color="#0032dd"/><stop offset="0.7989" stop-color="#00a1c4"/><stop offset="0.8026" stop-color="#00aa8f"/><stop offset="0.8064" stop-color="#0077dd"/><stop offset="0.8102" stop-color="#7f0090"/><stop offset="0.8177" stop-color="#7c008d"/><stop offset="0.8214" stop-color="#60009e"/><stop offset="0.8252" stop-color="#7a009b"/><stop offset="0.8289" stop-color="#53005e"/><stop offset="0.8365" stop-color="#35003c"/><stop offset="0.844" stop-color="#400049"/><stop offset="0.8477" stop-color="#2d0034"/><stop offset="0.8515" stop-color="#52005e"/><stop offset="0.8553" stop-color="#300036"/><stop offset="0.8628" stop-color="#4a0055"/><stop offset="0.8703" stop-color="#3c0045"/><stop offset="0.8741" stop-color="#2d0033"/><stop offset="0.8778" stop-color="#3b0043"/><stop offset="0.8816" stop-color="#320039"/><stop offset="0.8891" stop-color="#33003a"/><stop offset="0.8966" stop-color="#28002e"/><stop offset="0.9117" stop-color="#230029"/><stop offset="0.9154" stop-color="#1a001e"/><stop offset="0.9229" stop-color="#1a001d"/><stop offset="0.9342" stop-color="#140017"/><stop offset="0.9455" stop-color="#0e0010"/><stop offset="0.9568" stop-color="#100012"/><stop offset="0.968" stop-color="#050006"/><stop offset="0.9793" stop-color="#050006"/><stop offset="0.9981" stop-color="#030004"/></linearGradient><linearGradient id="r16"><stop offset="0.00188" stop-color="#050005"/><stop offset="0.1936" stop-color="#050005"/><stop offset="0.1974" stop-color="#0f0011"/><stop offset="0.2086" stop-color="#6a007a"/><stop offset="0.2162" stop-color="#850096"/><stop offset="0.2199" stop-color="#7b009b"/><stop offset="0.2237" stop-color="#0000b0"/><stop offset="0.2274" stop-color="#0027dd"/><stop offset="0.2312" stop-color="#008add"/><stop offset="0.235" stop-color="#0099dd"/><stop offset="0.2425" stop-color="#00a3be"/><stop offset="0.2538" stop-color="#00aaa2"/><stop offset="0.2613" stop-color="#00aa9a"/><stop offset="0.265" stop-color="#00aa92"/><stop offset="0.2688" stop-color="#00a97f"/><stop offset="0.2726" stop-color="#00a34e"/><stop offset="0.2763" stop-color="#00a353"/><stop offset="0.2838" stop-color="#00a036"/><stop offset="0.2876" stop-color="#009e2b"/><stop offset="0.2914" stop-color="#009b12"/><stop offset="0.2951" stop-color="#009b13"/><stop offset="0.2989" stop-color="#009d00"/><stop offset="0.3327" stop-color="#00a000"/><stop offset="0.359" stop-color="#00a100"/><stop offset="0.3741" stop-color="#00b200"/><stop offset="0.3853" stop-color="#00b100"/><stop offset="0.3966" stop-color="#00b700"/><stop offset="0.4117" stop-color="#00ca00"/><stop offset="0.4342" stop-color="#00d000"/><stop offset="0.4417" stop-color="#00dd00"/><stop offset="0.4718" stop-color="#00f400"/><stop offset="0.5094" stop-color="#00fd00"/><stop offset="0.5282" stop-color="#00f800"/><stop offset="0.5583" stop-color="#00d200"/><stop offset="0.5695" stop-color="#00ad00"/><stop offset="0.5733" stop-color="#009c00"/><stop offset="0.5771" stop-color="#009f2e"/><stop offset="0.5846" stop-color="#00a874"/><stop offset="0.5883" stop-color="#00aa87"/><stop offset="0.6259" stop-color="#00aaa6"/><stop offset="0.6447" stop-color="#0095dd"/><stop offset="0.6711" stop-color="#0078dd"/><stop offset="0.6898" stop-color="#0032dd"/><stop offset="0.6936" stop-color="#001fdd"/><stop offset="0.7086" stop-color="#0000db"/><stop offset="0.7312" stop-color="#0000c9"/><stop offset="0.735" stop-color="#0000b2"/><stop offset="0.7387" stop-color="#4500a1"/><stop offset="0.7425" stop-color="#0000b7"/><stop offset="0.7462" stop-color="#00aa8e"/><stop offset="0.75" stop-color="#00a2c3"/><stop offset="0.7538" stop-color="#0005dd"/><stop offset="0.7575" stop-color="#002ddd"/><stop offset="0.7613" stop-color="#002edd"/><stop offset="0.765" stop-color="#006ddd"/><stop offset="0.7688" stop-color="#0038dd"/><stop offset="0.7801" stop-color="#003add"/><stop offset="0.7838" stop-color="#00aa9a"/><stop offset="0.7876" stop-color="#00aaaa"/><stop offset="0.7914" stop-color="#0039dd"/><stop offset="0.7951" stop-color="#003bdd"/><stop offset="0.7989" stop-color="#00a1c6"/><stop offset="0.8026" stop-color="#00aa92"/><stop offset="0.8064" stop-color="#0077dd"/><stop offset="0.8102" stop-color="#7f0090"/><stop offset="0.8177" stop-color="#7c008d"/><stop offset="0.8214" stop-color="#5f009e"/><stop offset="0.8252" stop-color="#7a009b"/><stop offset="0.8289" stop-color="#53005e"/><stop offset="0.8365" stop-color="#35003c"/><stop offset="0.844" stop-color="#400049"/><stop offset="0.8477" stop-color="#2d0034"/><stop offset="0.8515" stop-color="#52005e"/><stop offset="0.8553" stop-color="#300036"/><stop offset="0.8628" stop-color="#4a0055"/><stop offset="0.8703" stop-color="#3c0045"/><stop offset="0.8741" stop-color="#2d0033"/><stop offset="0.8778" stop-color="#3b0043"/><stop offset="0.8816" stop-color="#320039"/><stop offset="0.8891" stop-color="#33003a"/><stop offset="0.8966" stop-color="#28002e"/><stop offset="0.9117" stop-color="#230029"/><stop offset="0.9154" stop-color="#1a001e"/><stop offset="0.9229" stop-color="#1a001d"/><stop offset="0.9342" stop-color="#140017"/><stop offset="0.9455" stop-color="#0e0010"/><stop offset="0.9568" stop-color="#100012"/><stop offset="0.968" stop-color="#050006"/><stop offset="0.9793" stop-color="#050006"/><stop offset="0.9981" stop-color="#030004"/></linearGradient><linearGradient id="r17"><stop offset="0.00188" stop-color="#050005"/><stop offset="0.1936" stop-color="#050005"/><stop offset="0.1974" stop-color="#0f0011"/><stop offset="0.2086" stop-color="#6a007a"/><stop offset="0.2162" stop-color="#850096"/><stop offset="0.2199" stop-color="#7b009b"/><stop offset="0.2237" stop-color="#0000b1"/><stop offset="0.2274" stop-color="#0025dd"/><stop offset="0.2312" stop-color="#0088dd"/><stop offset="0.235" stop-color="#0096dd"/><stop offset="0.25" stop-color="#00a4bc"/><stop offset="0.2538" stop-color="#00aaab"/><stop offset="0.2613" stop-color="#00aaa0"/><stop offset="0.2688" stop-color="#00aa86"/><stop offset="0.2726" stop-color="#00a352"/><stop offset="0.2876" stop-color="#00a03b"/><stop offset="0.2914" stop-color="#009e28"/><stop offset="0.2951" stop-color="#009e28"/><stop offset="0.2989" stop-color="#009b0f"/><stop offset="0.3102" stop-color="#009b00"/><stop offset="0.344" stop-color="#009e00"/><stop offset="0.359" stop-color="#009c00"/><stop offset="0.3778" stop-color="#00ac00"/><stop offset="0.3966" stop-color="#00b400"/><stop offset="0.4117" stop-color="#00c400"/><stop offset="0.4342" stop-color="#00ce00"/><stop offset="0.4492" stop-color="#00dc00"/><stop offset="0.4944" stop-color="#00fa00"/><stop offset="0.5282" stop-color="#00f200"/><stop offset="0.5583" stop-color="#00ce00"/><stop offset="0.5695" stop-color="#00a800"/><stop offset="0.5733" stop-color="#009a08"/><stop offset="0.5771" stop-color="#00a142"/><stop offset="0.5808" stop-color="#00a771"/><stop offset="0.5846" stop-color="#00aa8b"/><stop offset="0.6259" stop-color="#00a8af"/><stop offset="0.641" stop-color="#0094dd"/><stop offset="0.656" stop-color="#007fdd"/><stop offset="0.6711" stop-color="#006ddd"/><stop offset="0.6823" stop-color="#003edd"/><stop offset="0.6936" stop-color="#0013dd"/><stop offset="0.7011" stop-color="#0009dd"/><stop offset="0.7086" stop-color="#0000d8"/><stop offset="0.7312" stop-color="#0000c5"/><stop offset="0.735" stop-color="#0000ae"/><stop offset="0.7387" stop-color="#4f00a0"/><stop offset="0.7425" stop-color="#0000b3"/><stop offset="0.7462" stop-color="#00a9ac"/><stop offset="0.75" stop-color="#0096dd"/><stop offset="0.7538" stop-color="#0000dc"/><stop offset="0.7575" stop-color="#0023dd"/><stop offset="0.7613" stop-color="#0026dd"/><stop offset="0.765" stop-color="#0050dd"/><stop offset="0.7688" stop-color="#0031dd"/><stop offset="0.7801" stop-color="#0039dd"/><stop offset="0.7838" stop-color="#00aaa7"/><stop offset="0.7876" stop-color="#00a4bc"/><stop offset="0.7914" stop-color="#0038dd"/><stop offset="0.7951" stop-color="#0038dd"/><stop offset="0.7989" stop-color="#009bd7"/><stop offset="0.8026" stop-color="#00aaa3"/><stop offset="0.8064" stop-color="#005fdd"/><stop offset="0.8102" stop-color="#7f0090"/><stop offset="0.8177" stop-color="#7c008d"/><stop offset="0.8214" stop-color="#60009e"/><stop offset="0.8252" stop-color="#7a009b"/><stop offset="0.8289" stop-color="#53005e"/><stop offset="0.8365" stop-color="#35003c"/><stop offset="0.844" stop-color="#400049"/><stop offset="0.8477" stop-color="#2d0034"/><stop offset="0.8515" stop-color="#52005e"/><stop offset="0.8553" stop-color="#300036"/><stop offset="0.8628" stop-color="#4a0055"/><stop offset="0.8703" stop-color="#3c0045"/><stop offset="0.8741" stop-color="#2d0033"/><stop offset="0.8778" stop-color="#3b0043"/><stop offset="0.8816" stop-color="#320039"/><stop offset="0.8891" stop-color="#33003a"/><stop offset="0.8966" stop-color="#28002e"/><stop offset="0.9117" stop-color="#230029"/><stop offset="0.9154" stop-color="#1a001e"/><stop offset="0.9229" stop-color="#1a001d"/><stop offset="0.9342" stop-color="#140017"/><stop offset="0.9455" stop-color="#0e0010"/><stop offset="0.9568" stop-color="#100012"/><stop offset="0.968" stop-color="#050006"/><stop offset="0.9793" stop-color="#050006"/><stop offset="0.9981" stop-color="#030004"/></linearGradient><linearGradient id="r18"><stop offset="0.00188" stop-color="#050005"/><stop offset="0.1936" stop-color="#050005"/><stop offset="0.1974" stop-color="#0f0011"/><stop offset="0.2086" stop-color="#6a007a"/><stop offset="0.2162" stop-color="#850096"/><stop offset="0.2199" stop-color="#7c009b"/><stop offset="0.2237" stop-color="#0000ae"/><stop offset="0.2274" stop-color="#0018dd"/><stop offset="0.2312" stop-color="#0083dd"/><stop offset="0.2425" stop-color="#009bd7"/><stop offset="0.25" stop-color="#009ecd"/><stop offset="0.2538" stop-color="#00a4bd"/><stop offset="0.2613" stop-color="#00aaab"/><stop offset="0.2688" stop-color="#00aa93"/><stop offset="0.2726" stop-color="#00a87b"/><stop offset="0.2763" stop-color="#00a876"/><stop offset="0.2838" stop-color="#00a55c"/><stop offset="0.2876" stop-color="#00a458"/><stop offset="0.2914" stop-color="#00a245"/><stop offset="0.2951" stop-color="#00a248"/><stop offset="0.2989" stop-color="#009f2c"/><stop offset="0.3102" stop-color="#009c1c"/><stop offset="0.3139" stop-color="#009b0c"/><stop offset="0.3214" stop-color="#009b12"/><stop offset="0.3252" stop-color="#009a0a"/><stop offset="0.3365" stop-color="#009c1a"/><stop offset="0.3402" stop-color="#009c17"/><stop offset="0.3477" stop-color="#009e2a"/><stop offset="0.3515" stop-color="#009f2d"/><stop offset="0.3665" stop-color="#009b00"/><stop offset="0.3703" stop-color="#009c00"/><stop offset="0.3741" stop-color="#70ff00"/><stop offset="0.3778" stop-color="#00a400"/><stop offset="0.4041" stop-color="#00b900"/><stop offset="0.4117" stop-color="#00c100"/><stop offset="0.453" stop-color="#00d300"/><stop offset="0.4944" stop-color="#00ec00"/><stop offset="0.5169" stop-color="#00ec00"/><stop offset="0.5282" stop-color="#00ed00"/><stop offset="0.5583" stop-color="#00c300"/><stop offset="0.5695" stop-color="#009e00"/><stop offset="0.5733" stop-color="#009e2a"/><stop offset="0.5771" stop-color="#00a665"/><stop offset="0.5808" stop-color="#00aa88"/><stop offset="0.5996" stop-color="#00aaa0"/><stop offset="0.6222" stop-color="#00a8b1"/><stop offset="0.6372" stop-color="#0098dd"/><stop offset="0.6523" stop-color="#007ddd"/><stop offset="0.6598" stop-color="#0077dd"/><stop offset="0.6748" stop-color="#004edd"/><stop offset="0.6936" stop-color="#000add"/><stop offset="0.7086" stop-color="#0000d3"/><stop offset="0.7312" stop-color="#0000c1"/><stop offset="0.735" stop-color="#0000ac"/><stop offset="0.7387" stop-color="#55009f"/><stop offset="0.7425" stop-color="#0000b0"/><stop offset="0.7462" stop-color="#00a5b9"/><stop offset="0.75" stop-color="#008fdd"/><stop offset="0.7538" stop-color="#0000d9"/><stop offset="0.7575" stop-color="#001ddd"/><stop offset="0.7613" stop-color="#001fdd"/><stop offset="0.765" stop-color="#005add"/><stop offset="0.7688" stop-color="#002ddd"/><stop offset="0.7801" stop-color="#0031dd"/><stop offset="0.7838" stop-color="#00aaa2"/><stop offset="0.7876" stop-color="#00a6b6"/><stop offset="0.7914" stop-color="#002edd"/><stop offset="0.7951" stop-color="#002edd"/><stop offset="0.7989" stop-color="#00a1c4"/><stop offset="0.8026" stop-color="#00aa90"/><stop offset="0.8064" stop-color="#0074dd"/><stop offset="0.8102" stop-color="#7f0090"/><stop offset="0.8177" stop-color="#7c008d"/><stop offset="0.8214" stop-color="#62009e"/><stop offset="0.8252" stop-color="#7a009b"/><stop offset="0.8289" stop-color="#53005e"/><stop offset="0.8365" stop-color="#35003c"/><stop offset="0.844" stop-color="#400049"/><stop offset="0.8477" stop-color="#2d0034"/><stop offset="0.8515" stop-color="#52005e"/><stop offset="0.8553" stop-color="#300036"/><stop offset="0.8628" stop-color="#4a0055"/><stop offset="0.8703" stop-color="#3c0045"/><stop offset="0.8741" stop-color="#2d0033"/><stop offset="0.8778" stop-color="#3b0043"/><stop offset="0.8816" stop-color="#320039"/><stop offset="0.8891" stop-color="#33003a"/><stop offset="0.8966" stop-color="#28002e"/><stop offset="0.9117" stop-color="#230029"/><stop offset="0.9154" stop-color="#1a001e"/><stop offset="0.9229" stop-color="#1a001d"/><stop offset="0.9342" stop-color="#140017"/><stop offset="0.9455" stop-color="#0e0010"/><stop offset="0.9568" stop-color="#100012"/><stop offset="0.968" stop-color="#050006"/><stop offset="0.9793" stop-color="#050006"/><stop offset="0.9981" stop-color="#030004"/></linearGradient><linearGradient id="r19"><stop offset="0.00188" stop-color="#030004"/><stop offset="0.05075" stop-color="#020002"/><stop offset="0.05451" stop-color="#09000a"/><stop offset="0.06955" stop-color="#060007"/><stop offset="0.08459" stop-color="#060007"/><stop offset="0.09962" stop-color="#030004"/><stop offset="0.1147" stop-color="#070008"/><stop offset="0.1297" stop-color="#080009"/><stop offset="0.1335" stop-color="#0c000e"/><stop offset="0.156" stop-color="#020003"/><stop offset="0.1786" stop-color="#030003"/><stop offset="0.1974" stop-color="#0a000b"/><stop offset="0.2011" stop-color="#160019"/><stop offset="0.2237" stop-color="#160019"/><stop offset="0.2425" stop-color="#1b001f"/><stop offset="0.2462" stop-color="#1f0024"/><stop offset="0.25" stop-color="#1a001d"/><stop offset="0.2575" stop-color="#220027"/><stop offset="0.265" stop-color="#320039"/><stop offset="0.2688" stop-color="#300037"/><stop offset="0.2726" stop-color="#380040"/><stop offset="0.2951" stop-color="#3b0044"/><stop offset="0.3026" stop-color="#3e0047"/><stop offset="0.3102" stop-color="#37003e"/><stop offset="0.3214" stop-color="#43004c"/><stop offset="0.3327" stop-color="#3d0046"/><stop offset="0.3515" stop-color="#42004b"/><stop offset="0.359" stop-color="#400049"/><stop offset="0.3665" stop-color="#4a0055"/><stop offset="0.3816" stop-color="#42004c"/><stop offset="0.4117" stop-color="#3b0043"/><stop offset="0.4192" stop-color="#36003e"/><stop offset="0.4267" stop-color="#42004c"/><stop offset="0.438" stop-color="#3b0044"/><stop offset="0.4455" stop-color="#480052"/><stop offset="0.453" stop-color="#480052"/><stop offset="0.468" stop-color="#380040"/><stop offset="0.4793" stop-color="#3f0048"/><stop offset="0.4981" stop-color="#380040"/><stop offset="0.5056" stop-color="#43004c"/><stop offset="0.5094" stop-color="#3d0046"/><stop offset="0.532" stop-color="#43004d"/><stop offset="0.5395" stop-color="#3f0048"/><stop offset="0.547" stop-color="#4a0055"/><stop offset="0.562" stop-color="#3b0044"/><stop offset="0.5733" stop-color="#45004f"/><stop offset="0.5883" stop-color="#380040"/><stop offset="0.5959" stop-color="#400049"/><stop offset="0.6034" stop-color="#3a0042"/><stop offset="0.6071" stop-color="#42004c"/><stop offset="0.6297" stop-color="#3e0047"/><stop offset="0.6335" stop-color="#43004c"/><stop offset="0.641" stop-color="#3c0045"/><stop offset="0.6485" stop-color="#42004b"/><stop offset="0.6523" stop-color="#3d0046"/><stop offset="0.6635" stop-color="#470052"/><stop offset="0.6861" stop-color="#3e0047"/><stop offset="0.6936" stop-color="#480052"/><stop offset="0.7011" stop-color="#3c0044"/><stop offset="0.7086" stop-color="#480052"/><stop offset="0.7274" stop-color="#400049"/><stop offset="0.7462" stop-color="#41004a"/><stop offset="0.7538" stop-color="#45004e"/><stop offset="0.765" stop-color="#3c0045"/><stop offset="0.7726" stop-color="#42004b"/><stop offset="0.7801" stop-color="#34003c"/><stop offset="0.7989" stop-color="#390041"/><stop offset="0.8064" stop-color="#300037"/><stop offset="0.8139" stop-color="#37003f"/><stop offset="0.8477" stop-color="#34003b"/><stop offset="0.8553" stop-color="#2d0034"/><stop offset="0.8628" stop-color="#34003c"/><stop offset="0.8703" stop-color="#25002a"/><stop offset="0.8778" stop-color="#29002f"/><stop offset="0.8853" stop-color="#1d0021"/><stop offset="0.8929" stop-color="#1f0024"/><stop offset="0.9004" stop-color="#110014"/><stop offset="0.9154" stop-color="#1a001e"/><stop offset="0.9305" stop-color="#140017"/><stop offset="0.9643" stop-color="#09000a"/><stop offset="0.9756" stop-color="#050006"/><stop offset="0.9868" stop-color="#0c000e"/><stop offset="0.9981" stop-color="#070008"/></linearGradient><linearGradient id="r20"><stop offset="0.00188" stop-color="#040005"/><stop offset="0.06579" stop-color="#080009"/><stop offset="0.1974" stop-color="#0a000c"/><stop offset="0.265" stop-color="#17001b"/><stop offset="0.2876" stop-color="#17001a"/><stop offset="0.3139" stop-color="#140017"/><stop offset="0.359" stop-color="#130016"/><stop offset="0.3703" stop-color="#17001a"/><stop offset="0.4041" stop-color="#120015"/><stop offset="0.4229" stop-color="#130015"/><stop offset="0.4455" stop-color="#18001b"/><stop offset="0.4756" stop-color="#160019"/><stop offset="0.5019" stop-color="#140017"/><stop offset="0.5432" stop-color="#130016"/><stop offset="0.5771" stop-color="#160019"/><stop offset="0.5959" stop-color="#160019"/><stop offset="0.6147" stop-color="#110014"/><stop offset="0.6372" stop-color="#100012"/><stop offset="0.6673" stop-color="#140017"/><stop offset="0.6861" stop-color="#140017"/><stop offset="0.6936" stop-color="#1c0020"/><stop offset="0.7011" stop-color="#120015"/><stop offset="0.7312" stop-color="#150018"/><stop offset="0.7575" stop-color="#120015"/><stop offset="0.7726" stop-color="#17001b"/><stop offset="0.7951" stop-color="#120015"/><stop offset="0.8553" stop-color="#0f0011"/><stop offset="0.8665" stop-color="#150018"/><stop offset="0.8853" stop-color="#0d000f"/><stop offset="0.938" stop-color="#080009"/><stop offset="0.9981" stop-color="#050005"/></linearGradient><linearGradient id="r21"><stop offset="0.00188" stop-color="#050005"/><stop offset="0.1936" stop-color="#050005"/><stop offset="0.1974" stop-color="#2d0033"/><stop offset="0.2011" stop-color="#770088"/><stop offset="0.2049" stop-color="#880099"/><stop offset="0.2086" stop-color="#0000dd"/><stop offset="0.2124" stop-color="#008bdd"/><stop offset="0.2162" stop-color="#00aaa8"/><stop offset="0.2199" stop-color="#009a0b"/><stop offset="0.2237" stop-color="#00b900"/><stop offset="0.2312" stop-color="#00fe00"/><stop offset="0.235" stop-color="#b6ff00"/><stop offset="0.2387" stop-color="#d8f500"/><stop offset="0.2425" stop-color="#eaef00"/><stop offset="0.25" stop-color="#f1e800"/><stop offset="0.265" stop-color="#ffbe00"/><stop offset="0.2801" stop-color="#ff7d00"/><stop offset="0.2876" stop-color="#ff8300"/><stop offset="0.2914" stop-color="#ff7600"/><stop offset="0.2951" stop-color="#ff7e00"/><stop offset="0.2989" stop-color="#ff6700"/><stop offset="0.3064" stop-color="#ff5a00"/><stop offset="0.3214" stop-color="#ff8600"/><stop offset="0.3402" stop-color="#ff8900"/><stop offset="0.344" stop-color="#ff9900"/><stop offset="0.3628" stop-color="#ff9d00"/><stop offset="0.3703" stop-color="#ff9b00"/><stop offset="0.3741" stop-color="#ff8b00"/><stop offset="0.3853" stop-color="#ff9a00"/><stop offset="0.3929" stop-color="#ff8b00"/><stop offset="0.3966" stop-color="#ff9500"/><stop offset="0.4004" stop-color="#ff8900"/><stop offset="0.4041" stop-color="#ff8800"/><stop offset="0.4079" stop-color="#ff7a00"/><stop offset="0.4117" stop-color="#ff7d00"/><stop offset="0.4154" stop-color="#ff8c00"/><stop offset="0.4342" stop-color="#ff9a00"/><stop offset="0.438" stop-color="#ff9500"/><stop offset="0.4605" stop-color="#ffac00"/><stop offset="0.4868" stop-color="#ffc400"/><stop offset="0.4981" stop-color="#ffcc00"/><stop offset="0.5357" stop-color="#e7f000"/><stop offset="0.5545" stop-color="#c0fd00"/><stop offset="0.5583" stop-color="#a7ff00"/><stop offset="0.5658" stop-color="#3bff00"/><stop offset="0.5695" stop-color="#12ff00"/><stop offset="0.5733" stop-color="#00ff00"/><stop offset="0.6109" stop-color="#00f000"/><stop offset="0.6259" stop-color="#00e400"/><stop offset="0.6523" stop-color="#00ac00"/><stop offset="0.6635" stop-color="#009b00"/><stop offset="0.6711" stop-color="#009d1f"/><stop offset="0.6786" stop-color="#00a55d"/><stop offset="0.6861" stop-color="#00aa8a"/><stop offset="0.7124" stop-color="#00a3bf"/><stop offset="0.7237" stop-color="#0096dd"/><stop offset="0.7425" stop-color="#0084dd"/><stop offset="0.7462" stop-color="#009ece"/><stop offset="0.75" stop-color="#0080dd"/><stop offset="0.7538" stop-color="#0000c9"/><stop offset="0.7575" stop-color="#0000d1"/><stop offset="0.7613" stop-color="#0038dd"/><stop offset="0.765" stop-color="#009ece"/><stop offset="0.7688" stop-color="#006add"/><stop offset="0.7726" stop-color="#0000c9"/><stop offset="0.7763" stop-color="#0000c9"/><stop offset="0.7801" stop-color="#0031dd"/><stop offset="0.7838" stop-color="#009ece"/><stop offset="0.7876" stop-color="#0071dd"/><stop offset="0.7914" stop-color="#0000c9"/><stop offset="0.7951" stop-color="#0000ce"/><stop offset="0.7989" stop-color="#0092dd"/><stop offset="0.8026" stop-color="#0099dd"/><stop offset="0.8064" stop-color="#0081dd"/><stop offset="0.8102" stop-color="#4400a2"/><stop offset="0.8214" stop-color="#4400a2"/><stop offset="0.8252" stop-color="#880099"/><stop offset="0.9117" stop-color="#7a008b"/><stop offset="0.9229" stop-color="#6b007a"/><stop offset="0.938" stop-color="#45004f"/><stop offset="0.953" stop-color="#210026"/><stop offset="0.968" stop-color="#0a000b"/><stop offset="0.9981" stop-color="#020003"/></linearGradient><linearGradient id="rb1"><stop offset="0.00188" stop-color="#030004"/><stop offset="0.1936" stop-color="#020002"/><stop offset="0.1974" stop-color="#160019"/><stop offset="0.2011" stop-color="#390041"/><stop offset="0.2049" stop-color="#6e007e"/><stop offset="0.2086" stop-color="#840095"/><stop offset="0.2124" stop-color="#5200a0"/><stop offset="0.2162" stop-color="#0000aa"/><stop offset="0.2199" stop-color="#0000d1"/><stop offset="0.2237" stop-color="#0016dd"/><stop offset="0.2312" stop-color="#0077dd"/><stop offset="0.2425" stop-color="#0093dd"/><stop offset="0.2613" stop-color="#009fcc"/><stop offset="0.2876" stop-color="#00aaa8"/><stop offset="0.4831" stop-color="#00a7b3"/><stop offset="0.532" stop-color="#009dd2"/><stop offset="0.5921" stop-color="#007ddd"/><stop offset="0.6222" stop-color="#0074dd"/><stop offset="0.6523" stop-color="#001bdd"/><stop offset="0.6711" stop-color="#0000d9"/><stop offset="0.7124" stop-color="#0000aa"/><stop offset="0.7237" stop-color="#2100a6"/><stop offset="0.7387" stop-color="#3300a4"/><stop offset="0.7425" stop-color="#3d00a2"/><stop offset="0.7462" stop-color="#0d00a8"/><stop offset="0.7538" stop-color="#850096"/><stop offset="0.7575" stop-color="#850096"/><stop offset="0.7613" stop-color="#73009c"/><stop offset="0.765" stop-color="#0e00a8"/><stop offset="0.7688" stop-color="#5c009f"/><stop offset="0.7726" stop-color="#850096"/><stop offset="0.7801" stop-color="#76009b"/><stop offset="0.7838" stop-color="#1000a8"/><stop offset="0.7876" stop-color="#5d009e"/><stop offset="0.7914" stop-color="#830094"/><stop offset="0.7951" stop-color="#840095"/><stop offset="0.7989" stop-color="#2e00a4"/><stop offset="0.8026" stop-color="#2300a6"/><stop offset="0.8102" stop-color="#7c008d"/><stop offset="0.8665" stop-color="#6e007e"/><stop offset="0.9079" stop-color="#4d0058"/><stop offset="0.9643" stop-color="#080009"/><stop offset="0.9981" stop-color="#060007"/></linearGradient><linearGradient id="rb2"><stop offset="0.00188" stop-color="#040005"/><stop offset="0.1936" stop-color="#030004"/><stop offset="0.1974" stop-color="#0c000d"/><stop offset="0.2124" stop-color="#6e007e"/><stop offset="0.2199" stop-color="#800091"/><stop offset="0.2237" stop-color="#65009d"/><stop offset="0.2274" stop-color="#0000af"/><stop offset="0.2312" stop-color="#0000db"/><stop offset="0.2387" stop-color="#003edd"/><stop offset="0.2538" stop-color="#007add"/><stop offset="0.2801" stop-color="#009cd5"/><stop offset="0.3252" stop-color="#00a5b9"/><stop offset="0.359" stop-color="#00a4bb"/><stop offset="0.453" stop-color="#00aa88"/><stop offset="0.4568" stop-color="#00a879"/><stop offset="0.4605" stop-color="#00a97f"/><stop offset="0.4643" stop-color="#00a669"/><stop offset="0.4756" stop-color="#00a455"/><stop offset="0.4868" stop-color="#00a454"/><stop offset="0.4906" stop-color="#00a144"/><stop offset="0.5019" stop-color="#00a24a"/><stop offset="0.5094" stop-color="#00a24b"/><stop offset="0.5132" stop-color="#00a55d"/><stop offset="0.5282" stop-color="#00a350"/><stop offset="0.5508" stop-color="#00aa8f"/><stop offset="0.5695" stop-color="#00a7b2"/><stop offset="0.5808" stop-color="#0099dc"/><stop offset="0.6259" stop-color="#007add"/><stop offset="0.6372" stop-color="#0046dd"/><stop offset="0.6485" stop-color="#0009dd"/><stop offset="0.6936" stop-color="#0000b0"/><stop offset="0.7086" stop-color="#0900a9"/><stop offset="0.7312" stop-color="#2a00a5"/><stop offset="0.7387" stop-color="#870098"/><stop offset="0.7425" stop-color="#4e00a0"/><stop offset="0.7462" stop-color="#008cdd"/><stop offset="0.75" stop-color="#0055dd"/><stop offset="0.7538" stop-color="#0300aa"/><stop offset="0.7613" stop-color="#0000b6"/><stop offset="0.765" stop-color="#0000cc"/><stop offset="0.7688" stop-color="#0000ba"/><stop offset="0.7801" stop-color="#0000bb"/><stop offset="0.7838" stop-color="#008fdd"/><stop offset="0.7876" stop-color="#0082dd"/><stop offset="0.7914" stop-color="#0000b9"/><stop offset="0.7951" stop-color="#0000b9"/><stop offset="0.7989" stop-color="#0018dd"/><stop offset="0.8026" stop-color="#0068dd"/><stop offset="0.8064" stop-color="#0000bf"/><stop offset="0.8102" stop-color="#7a008b"/><stop offset="0.8177" stop-color="#780089"/><stop offset="0.8252" stop-color="#810092"/><stop offset="0.8289" stop-color="#4b0056"/><stop offset="0.8365" stop-color="#35003c"/><stop offset="0.844" stop-color="#3b0044"/><stop offset="0.8477" stop-color="#2e0034"/><stop offset="0.8515" stop-color="#470051"/><stop offset="0.8553" stop-color="#2e0034"/><stop offset="0.8628" stop-color="#42004b"/><stop offset="0.8741" stop-color="#28002e"/><stop offset="0.8778" stop-color="#33003a"/><stop offset="0.9455" stop-color="#0e0010"/><stop offset="0.9981" stop-color="#050005"/></linearGradient><linearGradient id="rb18"><stop offset="0.00188" stop-color="#040005"/><stop offset="0.1635" stop-color="#030003"/><stop offset="0.1974" stop-color="#0c000d"/><stop offset="0.2124" stop-color="#460050"/><stop offset="0.2162" stop-color="#620070"/><stop offset="0.2274" stop-color="#830094"/><stop offset="0.2387" stop-color="#4b00a1"/><stop offset="0.25" stop-color="#3a00a3"/><stop offset="0.265" stop-color="#0000ae"/><stop offset="0.2801" stop-color="#0000c3"/><stop offset="0.344" stop-color="#0000cf"/><stop offset="0.3703" stop-color="#0000d6"/><stop offset="0.3741" stop-color="#007fdd"/><stop offset="0.3778" stop-color="#0000db"/><stop offset="0.4041" stop-color="#0013dd"/><stop offset="0.4117" stop-color="#001cdd"/><stop offset="0.4229" stop-color="#001edd"/><stop offset="0.4417" stop-color="#0030dd"/><stop offset="0.4868" stop-color="#0050dd"/><stop offset="0.4944" stop-color="#0055dd"/><stop offset="0.5282" stop-color="#005edd"/><stop offset="0.5583" stop-color="#0023dd"/><stop offset="0.5695" stop-color="#0000d7"/><stop offset="0.5921" stop-color="#0000b4"/><stop offset="0.6222" stop-color="#0500a9"/><stop offset="0.6372" stop-color="#3400a4"/><stop offset="0.6523" stop-color="#5e009e"/><stop offset="0.6898" stop-color="#880099"/><stop offset="0.7425" stop-color="#800091"/><stop offset="0.7462" stop-color="#0a00a9"/><stop offset="0.75" stop-color="#3b00a3"/><stop offset="0.7538" stop-color="#860097"/><stop offset="0.7613" stop-color="#880099"/><stop offset="0.765" stop-color="#74009c"/><stop offset="0.7688" stop-color="#860099"/><stop offset="0.7801" stop-color="#880099"/><stop offset="0.7838" stop-color="#0000ae"/><stop offset="0.7876" stop-color="#0d00a8"/><stop offset="0.7914" stop-color="#880099"/><stop offset="0.7951" stop-color="#880099"/><stop offset="0.7989" stop-color="#1b00a7"/><stop offset="0.8026" stop-color="#0000b8"/><stop offset="0.8064" stop-color="#71009c"/><stop offset="0.8102" stop-color="#660075"/><stop offset="0.8139" stop-color="#580065"/><stop offset="0.8177" stop-color="#5e006c"/><stop offset="0.8214" stop-color="#7a008b"/><stop offset="0.8252" stop-color="#79008a"/><stop offset="0.8289" stop-color="#42004b"/><stop offset="0.8402" stop-color="#35003d"/><stop offset="0.8477" stop-color="#310038"/><stop offset="0.8515" stop-color="#3b0044"/><stop offset="0.8553" stop-color="#2e0034"/><stop offset="0.8628" stop-color="#3d0046"/><stop offset="0.8741" stop-color="#27002d"/><stop offset="0.8778" stop-color="#300037"/><stop offset="0.9079" stop-color="#1b001f"/><stop offset="0.9793" stop-color="#09000b"/><stop offset="0.9981" stop-color="#060007"/></linearGradient><linearGradient id="rb20"><stop offset="0.00188" stop-color="#040005"/><stop offset="0.1936" stop-color="#09000a"/><stop offset="0.2011" stop-color="#220027"/><stop offset="0.2049" stop-color="#3c0045"/><stop offset="0.2086" stop-color="#6e007e"/><stop offset="0.2199" stop-color="#870098"/><stop offset="0.235" stop-color="#1d00a6"/><stop offset="0.2462" stop-color="#0000aa"/><stop offset="0.2914" stop-color="#0000c1"/><stop offset="0.4906" stop-color="#0000b7"/><stop offset="0.5395" stop-color="#0900a9"/><stop offset="0.5808" stop-color="#3b00a3"/><stop offset="0.6259" stop-color="#4f00a0"/><stop offset="0.6523" stop-color="#7e009a"/><stop offset="0.6823" stop-color="#840095"/><stop offset="0.75" stop-color="#7a008b"/><stop offset="0.7538" stop-color="#670076"/><stop offset="0.765" stop-color="#7e008f"/><stop offset="0.7763" stop-color="#660075"/><stop offset="0.7838" stop-color="#7e008f"/><stop offset="0.7876" stop-color="#79008a"/><stop offset="0.7914" stop-color="#650074"/><stop offset="0.7951" stop-color="#690078"/><stop offset="0.7989" stop-color="#7c008d"/><stop offset="0.8064" stop-color="#7a008b"/><stop offset="0.8102" stop-color="#4b0056"/><stop offset="0.8214" stop-color="#4a0054"/><stop offset="0.8289" stop-color="#3f0048"/><stop offset="0.9079" stop-color="#29002e"/><stop offset="0.9718" stop-color="#060007"/><stop offset="0.9981" stop-color="#040005"/></linearGradient><clipPath id="cl"><rect x="49" y="28" width="266" height="367.5"/></clipPath><clipPath id="cr"><rect x="329" y="28" width="266" height="367.5"/></clipPath></defs>
<rect width="640" height="440" fill="#fff"/>
<g shape-rendering="crispEdges"><rect x="49.00" y="28.00" width="266.00" height="17.00" fill="url(#l0)"/><rect x="49.00" y="44.70" width="266.00" height="17.00" fill="url(#l1)"/><rect x="49.00" y="61.41" width="266.00" height="17.00" fill="url(#l2)"/><rect x="49.00" y="78.11" width="266.00" height="17.00" fill="url(#l3)"/><rect x="49.00" y="94.82" width="266.00" height="17.00" fill="url(#l4)"/><rect x="49.00" y="111.52" width="266.00" height="17.00" fill="url(#l5)"/><rect x="49.00" y="128.23" width="266.00" height="17.00" fill="url(#l6)"/><rect x="49.00" y="144.93" width="266.00" height="17.00" fill="url(#l7)"/><rect x="49.00" y="161.64" width="266.00" height="17.00" fill="url(#l8)"/><rect x="49.00" y="178.34" width="266.00" height="17.00" fill="url(#l9)"/><rect x="49.00" y="195.05" width="266.00" height="17.00" fill="url(#l10)"/><rect x="49.00" y="211.75" width="266.00" height="17.00" fill="url(#l11)"/><rect x="49.00" y="228.45" width="266.00" height="17.00" fill="url(#l12)"/><rect x="49.00" y="245.16" width="266.00" height="17.00" fill="url(#l13)"/><rect x="49.00" y="261.86" width="266.00" height="17.00" fill="url(#l14)"/><rect x="49.00" y="278.57" width="266.00" height="17.00" fill="url(#l15)"/><rect x="49.00" y="295.27" width="266.00" height="17.00" fill="url(#l16)"/><rect x="49.00" y="311.98" width="266.00" height="17.00" fill="url(#l17)"/><rect x="49.00" y="328.68" width="266.00" height="17.00" fill="url(#l18)"/><rect x="49.00" y="345.39" width="266.00" height="17.00" fill="url(#l19)"/><rect x="49.00" y="362.09" width="266.00" height="17.00" fill="url(#l20)"/><rect x="49.00" y="378.80" width="266.00" height="16.70" fill="url(#l21)"/><rect x="329.00" y="28.00" width="266.00" height="17.00" fill="url(#r0)"/><rect x="329.00" y="44.70" width="266.00" height="17.00" fill="url(#r1)"/><rect x="329.00" y="61.41" width="266.00" height="17.00" fill="url(#r2)"/><rect x="329.00" y="78.11" width="266.00" height="17.00" fill="url(#r3)"/><rect x="329.00" y="94.82" width="266.00" height="17.00" fill="url(#r4)"/><rect x="329.00" y="111.52" width="266.00" height="17.00" fill="url(#r5)"/><rect x="329.00" y="128.23" width="266.00" height="17.00" fill="url(#r6)"/><rect x="329.00" y="144.93" width="266.00" height="17.00" fill="url(#r7)"/><rect x="329.00" y="161.64" width="266.00" height="17.00" fill="url(#r8)"/><rect x="329.00" y="178.34" width="266.00" height="17.00" fill="url(#r9)"/><rect x="329.00" y="195.05" width="266.00" height="17.00" fill="url(#r10)"/><rect x="329.00" y="211.75" width="266.00" height="17.00" fill="url(#r11)"/><rect x="329.00" y="228.45" width="266.00" height="17.00" fill="url(#r12)"/><rect x="329.00" y="245.16" width="266.00" height="17.00" fill="url(#r13)"/><rect x="329.00" y="261.86" width="266.00" height="17.00" fill="url(#r14)"/><rect x="329.00" y="278.57" width="266.00" height="17.00" fill="url(#r15)"/><rect x="329.00" y="295.27" width="266.00" height="17.00" fill="url(#r16)"/><rect x="329.00" y="311.98" width="266.00" height="17.00" fill="url(#r17)"/><rect x="329.00" y="328.68" width="266.00" height="17.00" fill="url(#r18)"/><rect x="329.00" y="345.39" width="266.00" height="17.00" fill="url(#r19)"/><rect x="329.00" y="362.09" width="266.00" height="17.00" fill="url(#r20)"/><rect x="329.00" y="378.80" width="266.00" height="16.70" fill="url(#r21)"/><rect x="49.00" y="44.00" width="266.00" height="1.00" fill="url(#lb0)"/><rect x="49.00" y="78.00" width="266.00" height="0.60" fill="url(#lb2)"/><rect x="49.00" y="345.00" width="266.00" height="1.00" fill="url(#lb18)"/><rect x="49.00" y="362.00" width="266.00" height="0.60" fill="url(#lb19)"/><rect x="329.00" y="61.00" width="266.00" height="1.00" fill="url(#rb1)"/><rect x="329.00" y="78.00" width="266.00" height="0.60" fill="url(#rb2)"/><rect x="329.00" y="345.00" width="266.00" height="1.00" fill="url(#rb18)"/><rect x="329.00" y="378.00" width="266.00" height="1.00" fill="url(#rb20)"/></g>
<rect x="48.9" y="27" width="1.9" height="256" fill="#fff"/>
<rect x="49.0" y="285" width="1" height="110.5" fill="#5a00a0"/>
<rect x="328.9" y="27" width="1.9" height="256" fill="#fff"/>
<rect x="329.0" y="285" width="1" height="110.5" fill="#5a00a0"/>
<g clip-path="url(#cl)" fill="none" stroke="#fff" stroke-linejoin="round" stroke-linecap="round"><polyline points="49.0,283.0 51.0,283.0 53.0,283.0 55.0,283.0 57.0,283.0 59.0,283.0 61.0,283.0 63.0,283.0 65.0,283.0 67.0,283.0 69.0,283.0 71.0,283.0 73.0,283.0 75.0,283.0 77.0,283.0 79.0,283.0 81.0,283.0 83.0,283.0 85.0,283.0 87.0,283.0 89.0,283.0 91.0,283.0 93.0,283.0 95.0,283.0 97.0,283.0 99.0,283.0 101.0,283.0 103.0,282.4 105.0,276.7 107.0,265.1 109.0,249.2 111.0,229.3 113.0,214.6 115.0,200.1 117.0,188.0 119.0,181.0 121.0,176.8 123.0,173.7 125.0,170.3 127.0,168.6 129.0,167.5 131.0,167.4 133.0,166.5 135.0,165.4 137.0,163.6 139.0,162.2 141.0,162.4 143.0,162.0 145.0,159.4 147.0,158.1 149.0,155.4 151.0,154.8 153.0,152.3 155.0,151.2 157.0,149.0 159.0,145.9 161.0,143.0 163.0,143.7 165.0,141.8 167.0,139.9 169.0,138.2 171.0,136.7 173.0,136.8 175.0,135.4 177.0,133.2 179.0,135.3 181.0,137.7 183.0,138.9 185.0,141.3 187.0,140.9 189.0,142.3 191.0,149.1 193.0,152.5 195.0,153.8 197.0,158.4 199.0,162.2 201.0,167.1 203.0,170.9 205.0,176.2 207.0,179.7 209.0,185.0 211.0,188.2 213.0,191.9 215.0,197.0 217.0,201.0 219.0,204.5 221.0,208.2 223.0,212.5 225.0,217.2 227.0,220.9 229.0,224.5 231.0,227.5 233.0,229.2 235.0,234.1 237.0,237.5 239.0,239.1 241.0,242.8 243.0,246.7 245.0,251.2 246.3,258.0 247.5,165.5 248.7,259.0 250.0,230.0 251.0,257.0 252.5,215.0 253.5,256.0 254.8,190.0 255.8,240.0 257.0,184.0 258.2,255.0 259.0,186.0 260.4,266.5 262.3,196.0 264.0,263.0 266.0,262.0 267.7,246.0 269.0,268.0 270.4,276.0 274.7,276.8 276.6,269.0 278.0,277.5 280.0,278.5 281.6,283.4 283.0,279.5 290.0,281.0 300.0,282.3 315.0,283.8" stroke-width="2.5" /><polyline points="49.0,282.6 51.0,282.6 53.0,282.6 55.0,282.6 57.0,282.6 59.0,282.6 61.0,282.6 63.0,282.6 65.0,282.6 67.0,282.6 69.0,282.6 71.0,282.6 73.0,282.6 75.0,282.6 77.0,282.6 79.0,282.6 81.0,282.6 83.0,282.6 85.0,282.6 87.0,282.6 89.0,282.6 91.0,282.6 93.0,282.6 95.0,282.6 97.0,282.6 99.0,282.6 101.0,282.6 103.0,282.0 105.0,275.9 107.0,264.0 109.0,247.0 111.0,227.7 113.0,210.1 115.0,196.0 117.0,187.2 119.0,177.6 121.0,174.8 123.0,169.7 125.0,166.2 127.0,163.9 129.0,164.0 131.0,162.8 133.0,162.3 135.0,161.0 137.0,159.9 139.0,157.6 141.0,158.0 143.0,157.0 145.0,156.6 147.0,155.1 149.0,153.5 151.0,152.0 153.0,149.2 155.0,148.1 157.0,146.0 159.0,145.0 161.0,144.3 163.0,142.2 165.0,139.8 167.0,137.6 169.0,137.9 171.0,136.9 173.0,135.6 175.0,134.5 177.0,133.2 179.0,132.4 181.0,133.9 183.0,135.3 185.0,136.9 187.0,137.4 189.0,140.0 191.0,145.8 193.0,150.0 195.0,151.8 197.0,156.7 199.0,159.3 201.0,163.7 203.0,168.6 205.0,172.8 207.0,175.8 209.0,181.5 211.0,185.5 213.0,189.2 215.0,193.5 217.0,198.3 219.0,202.9 221.0,206.5 223.0,209.5 225.0,214.5 227.0,217.7 229.0,221.1 231.0,224.2 233.0,227.9 235.0,230.8 237.0,235.2 239.0,237.8 241.0,241.9 243.0,243.7 245.0,248.3 246.3,258.3 247.5,166.7 248.7,259.2 250.0,230.5 251.0,257.3 252.5,215.7 253.5,256.3 254.8,190.9 255.8,240.4 257.0,185.0 258.2,255.3 259.0,187.0 260.4,266.7 262.3,196.9 264.0,263.2 266.0,262.2 267.7,246.4 269.0,268.2 270.4,276.1 274.7,276.9 276.6,269.1 278.0,277.6 280.0,278.6 281.6,283.4 283.0,279.5 290.0,281.0 300.0,282.3 315.0,283.8" stroke-width="2.5" /><polyline points="49.0,283.4 51.0,283.4 53.0,283.4 55.0,283.4 57.0,283.4 59.0,283.4 61.0,283.4 63.0,283.4 65.0,283.4 67.0,283.4 69.0,283.4 71.0,283.4 73.0,283.4 75.0,283.4 77.0,283.4 79.0,283.4 81.0,283.4 83.0,283.4 85.0,283.4 87.0,283.4 89.0,283.4 91.0,283.4 93.0,283.4 95.0,283.4 97.0,283.4 99.0,283.4 101.0,283.4 103.0,282.8 105.0,277.0 107.0,266.4 109.0,250.6 111.0,232.3 113.0,217.1 115.0,202.7 117.0,192.6 119.0,183.4 121.0,180.9 123.0,178.0 125.0,175.7 127.0,174.4 129.0,173.2 131.0,172.1 133.0,171.6 135.0,169.0 137.0,168.4 139.0,167.6 141.0,167.3 143.0,164.5 145.0,162.4 147.0,162.3 149.0,160.0 151.0,159.6 153.0,155.8 155.0,154.7 157.0,151.1 159.0,150.3 161.0,147.5 163.0,146.4 165.0,142.2 167.0,141.6 169.0,140.8 171.0,139.3 173.0,139.1 175.0,137.4 177.0,135.1 179.0,137.8 181.0,138.7 183.0,141.7 185.0,140.3 187.0,142.5 189.0,146.3 191.0,152.0 193.0,153.7 195.0,159.1 197.0,161.8 199.0,164.8 201.0,170.4 203.0,174.9 205.0,178.6 207.0,184.4 209.0,188.2 211.0,193.3 213.0,197.3 215.0,200.6 217.0,205.4 219.0,207.9 221.0,212.1 223.0,216.3 225.0,219.1 227.0,221.8 229.0,226.0 231.0,228.7 233.0,232.3 235.0,235.2 237.0,238.4 239.0,242.3 241.0,246.2 243.0,248.7 245.0,253.1 246.3,257.7 247.5,164.3 248.7,258.8 250.0,229.5 251.0,256.7 252.5,214.3 253.5,255.7 254.8,189.1 255.8,239.6 257.0,183.0 258.2,254.7 259.0,185.0 260.4,266.3 262.3,195.1 264.0,262.8 266.0,261.8 267.7,245.6 269.0,267.8 270.4,275.9 274.7,276.7 276.6,268.9 278.0,277.4 280.0,278.4 281.6,283.4 283.0,279.5 290.0,281.0 300.0,282.3 315.0,283.8" stroke-width="2.5" /><polyline points="49.0,282.8 51.0,282.8 53.0,282.8 55.0,282.8 57.0,282.8 59.0,282.8 61.0,282.8 63.0,282.8 65.0,282.8 67.0,282.8 69.0,282.8 71.0,282.8 73.0,282.8 75.0,282.8 77.0,282.8 79.0,282.8 81.0,282.8 83.0,282.8 85.0,282.8 87.0,282.8 89.0,282.8 91.0,282.8 93.0,282.8 95.0,282.8 97.0,282.8 99.0,282.8 101.0,282.8 103.0,282.2 105.0,276.3 107.0,265.0 109.0,249.2 111.0,227.0 113.0,213.3 115.0,197.0 117.0,187.3 119.0,179.8 121.0,175.0 123.0,171.0 125.0,168.1 127.0,166.1 129.0,164.8 131.0,163.3 133.0,164.5 135.0,163.0 137.0,163.2 139.0,162.2 141.0,160.6 143.0,159.3 145.0,159.9 147.0,156.9 149.0,155.8 151.0,154.8 153.0,151.8 155.0,149.9 157.0,147.9 159.0,147.1 161.0,145.1 163.0,141.9 165.0,140.9 167.0,140.8 169.0,138.6 171.0,136.1 173.0,136.8 175.0,135.5 177.0,133.6 179.0,134.4 181.0,137.3 183.0,137.3 185.0,139.3 187.0,139.8 189.0,142.6 191.0,147.0 193.0,151.0 195.0,153.3 197.0,157.3 199.0,161.3 201.0,164.9 203.0,171.1 205.0,173.7 207.0,178.1 209.0,183.3 211.0,187.2 213.0,190.5 215.0,195.4 217.0,198.7 219.0,202.5 221.0,208.3 223.0,211.4 225.0,216.6 227.0,220.2 229.0,223.0 231.0,225.2 233.0,230.2 235.0,232.7 237.0,236.7 239.0,239.3 241.0,240.9 243.0,244.7 245.0,249.2 246.3,258.0 247.5,165.5 248.7,259.0 250.0,230.0 251.0,257.0 252.5,215.0 253.5,256.0 254.8,190.0 255.8,240.0 257.0,184.0 258.2,255.0 259.0,186.0 260.4,266.5 262.3,196.0 264.0,263.0 266.0,262.0 267.7,246.0 269.0,268.0 270.4,276.0 274.7,276.8 276.6,269.0 278.0,277.5 280.0,278.5 281.6,283.4 283.0,279.5 290.0,281.0 300.0,282.3 315.0,283.8" stroke-width="2.5" /><polyline points="49.0,283.2 51.0,283.2 53.0,283.2 55.0,283.2 57.0,283.2 59.0,283.2 61.0,283.2 63.0,283.2 65.0,283.2 67.0,283.2 69.0,283.2 71.0,283.2 73.0,283.2 75.0,283.2 77.0,283.2 79.0,283.2 81.0,283.2 83.0,283.2 85.0,283.2 87.0,283.2 89.0,283.2 91.0,283.2 93.0,283.2 95.0,283.2 97.0,283.2 99.0,283.2 101.0,283.2 103.0,282.6 105.0,276.8 107.0,266.4 109.0,248.9 111.0,231.3 113.0,216.2 115.0,202.6 117.0,192.6 119.0,184.9 121.0,180.1 123.0,177.1 125.0,172.8 127.0,172.9 129.0,170.7 131.0,168.9 133.0,167.5 135.0,167.7 137.0,166.7 139.0,164.0 141.0,163.7 143.0,164.2 145.0,162.1 147.0,160.3 149.0,158.7 151.0,157.2 153.0,154.3 155.0,152.7 157.0,150.5 159.0,148.3 161.0,145.7 163.0,145.9 165.0,141.0 167.0,141.2 169.0,139.3 171.0,138.4 173.0,137.3 175.0,136.4 177.0,136.2 179.0,136.7 181.0,139.5 183.0,140.8 185.0,141.0 187.0,142.5 189.0,145.3 191.0,150.9 193.0,155.4 195.0,158.0 197.0,160.7 199.0,164.9 201.0,169.4 203.0,173.5 205.0,177.8 207.0,182.4 209.0,186.8 211.0,191.3 213.0,195.5 215.0,197.6 217.0,204.3 219.0,207.8 221.0,210.7 223.0,213.8 225.0,218.5 227.0,220.7 229.0,224.3 231.0,229.3 233.0,231.8 235.0,235.9 237.0,237.7 239.0,240.7 241.0,245.0 243.0,248.1 245.0,251.2 246.3,258.0 247.5,165.5 248.7,259.0 250.0,230.0 251.0,257.0 252.5,215.0 253.5,256.0 254.8,190.0 255.8,240.0 257.0,184.0 258.2,255.0 259.0,186.0 260.4,266.5 262.3,196.0 264.0,263.0 266.0,262.0 267.7,246.0 269.0,268.0 270.4,276.0 274.7,276.8 276.6,269.0 278.0,277.5 280.0,278.5 281.6,283.4 283.0,279.5 290.0,281.0 300.0,282.3 315.0,283.8" stroke-width="2.5" /><polyline points="49.0,283.3 51.0,283.3 53.0,283.3 55.0,283.3 57.0,283.3 59.0,283.3 61.0,283.3 63.0,283.3 65.0,283.3 67.0,283.3 69.0,283.3 71.0,283.3 73.0,283.3 75.0,283.3 77.0,283.3 79.0,283.3 81.0,283.3 83.0,283.3 85.0,283.3 87.0,283.3 89.0,283.3 91.0,283.3 93.0,283.3 95.0,283.3 97.0,283.3 99.0,283.3 101.0,283.3 103.0,282.7 105.0,276.6 107.0,266.3 109.0,250.8 111.0,231.5 113.0,215.4 115.0,201.1 117.0,191.5 119.0,184.1 121.0,179.4 123.0,179.0 125.0,176.9 127.0,172.7 129.0,170.7 131.0,169.9 133.0,169.9 135.0,168.0 137.0,166.5 139.0,165.2 141.0,165.2 143.0,164.0 145.0,162.7 147.0,159.8 149.0,156.9 151.0,155.7 153.0,153.4 155.0,149.8 157.0,150.4 159.0,148.4 161.0,146.6 163.0,145.6 165.0,142.8 167.0,141.6 169.0,140.8 171.0,138.2 173.0,136.9 175.0,136.0 177.0,135.3 179.0,138.3 181.0,139.1 183.0,140.9 185.0,143.9 187.0,143.2 189.0,147.0 191.0,152.2 193.0,155.3 195.0,157.3 197.0,160.7 199.0,165.0 201.0,170.2 203.0,174.6 205.0,177.6 207.0,182.9 209.0,187.8 211.0,191.5 213.0,195.2 215.0,198.9 217.0,203.5 219.0,207.9 221.0,212.2 223.0,215.2 225.0,220.4 227.0,223.0 229.0,227.0 231.0,230.5 233.0,233.2 235.0,238.5 237.0,239.1 239.0,243.3 241.0,246.6 243.0,249.3 245.0,252.6 246.3,258.0 247.5,165.5 248.7,259.0 250.0,230.0 251.0,257.0 252.5,215.0 253.5,256.0 254.8,190.0 255.8,240.0 257.0,184.0 258.2,255.0 259.0,186.0 260.4,266.5 262.3,196.0 264.0,263.0 266.0,262.0 267.7,246.0 269.0,268.0 270.4,276.0 274.7,276.8 276.6,269.0 278.0,277.5 280.0,278.5 281.6,283.4 283.0,279.5 290.0,281.0 300.0,282.3 315.0,283.8" stroke-width="2.5" /><polyline points="49.0,282.7 51.0,282.7 53.0,282.7 55.0,282.7 57.0,282.7 59.0,282.7 61.0,282.7 63.0,282.7 65.0,282.7 67.0,282.7 69.0,282.7 71.0,282.7 73.0,282.7 75.0,282.7 77.0,282.7 79.0,282.7 81.0,282.7 83.0,282.7 85.0,282.7 87.0,282.7 89.0,282.7 91.0,282.7 93.0,282.7 95.0,282.7 97.0,282.7 99.0,282.7 101.0,282.7 103.0,282.1 105.0,276.3 107.0,264.8 109.0,248.9 111.0,231.1 113.0,213.2 115.0,196.8 117.0,187.4 119.0,179.2 121.0,173.4 123.0,169.6 125.0,167.6 127.0,166.2 129.0,163.2 131.0,163.2 133.0,162.4 135.0,161.6 137.0,161.2 139.0,160.5 141.0,159.2 143.0,158.5 145.0,156.8 147.0,155.9 149.0,154.7 151.0,153.6 153.0,150.0 155.0,148.4 157.0,147.4 159.0,143.9 161.0,142.6 163.0,141.7 165.0,140.0 167.0,137.7 169.0,137.0 171.0,136.0 173.0,135.3 175.0,133.2 177.0,133.6 179.0,133.2 181.0,135.3 183.0,138.5 185.0,137.6 187.0,138.4 189.0,141.2 191.0,145.7 193.0,149.5 195.0,152.9 197.0,156.2 199.0,161.1 201.0,164.7 203.0,170.0 205.0,173.4 207.0,177.9 209.0,181.7 211.0,185.8 213.0,189.9 215.0,193.2 217.0,197.8 219.0,203.2 221.0,206.5 223.0,211.0 225.0,215.5 227.0,218.7 229.0,221.3 231.0,224.9 233.0,228.8 235.0,232.7 237.0,235.6 239.0,238.3 241.0,241.5 243.0,245.8 245.0,249.0 246.3,258.0 247.5,165.5 248.7,259.0 250.0,230.0 251.0,257.0 252.5,215.0 253.5,256.0 254.8,190.0 255.8,240.0 257.0,184.0 258.2,255.0 259.0,186.0 260.4,266.5 262.3,196.0 264.0,263.0 266.0,262.0 267.7,246.0 269.0,268.0 270.4,276.0 274.7,276.8 276.6,269.0 278.0,277.5 280.0,278.5 281.6,283.4 283.0,279.5 290.0,281.0 300.0,282.3 315.0,283.8" stroke-width="2.5" /><polyline points="49.0,283.1 51.0,283.1 53.0,283.1 55.0,283.1 57.0,283.1 59.0,283.1 61.0,283.1 63.0,283.1 65.0,283.1 67.0,283.1 69.0,283.1 71.0,283.1 73.0,283.1 75.0,283.1 77.0,283.1 79.0,283.1 81.0,283.1 83.0,283.1 85.0,283.1 87.0,283.1 89.0,283.1 91.0,283.1 93.0,283.1 95.0,283.1 97.0,283.1 99.0,283.1 101.0,283.1 103.0,282.5 105.0,276.5 107.0,264.9 109.0,250.1 111.0,229.9 113.0,215.0 115.0,199.1 117.0,190.6 119.0,182.3 121.0,177.6 123.0,172.6 125.0,170.8 127.0,170.4 129.0,168.8 131.0,167.7 133.0,167.4 135.0,167.8 137.0,166.3 139.0,164.4 141.0,163.2 143.0,162.9 145.0,161.0 147.0,158.4 149.0,157.9 151.0,155.4 153.0,154.2 155.0,150.2 157.0,148.8 159.0,146.8 161.0,145.5 163.0,144.2 165.0,142.4 167.0,140.6 169.0,139.6 171.0,138.7 173.0,136.0 175.0,136.2 177.0,133.7 179.0,136.4 181.0,139.2 183.0,140.4 185.0,142.3 187.0,144.0 189.0,145.0 191.0,150.4 193.0,152.0 195.0,155.4 197.0,160.1 199.0,163.0 201.0,167.4 203.0,172.2 205.0,175.1 207.0,181.0 209.0,184.7 211.0,188.6 213.0,193.1 215.0,197.6 217.0,202.1 219.0,207.5 221.0,211.4 223.0,215.2 225.0,219.1 227.0,220.9 229.0,224.7 231.0,228.7 233.0,230.4 235.0,235.0 237.0,237.8 239.0,241.0 241.0,244.9 243.0,248.0 245.0,251.9 246.3,258.0 247.5,165.5 248.7,259.0 250.0,230.0 251.0,257.0 252.5,215.0 253.5,256.0 254.8,190.0 255.8,240.0 257.0,184.0 258.2,255.0 259.0,186.0 260.4,266.5 262.3,196.0 264.0,263.0 266.0,262.0 267.7,246.0 269.0,268.0 270.4,276.0 274.7,276.8 276.6,269.0 278.0,277.5 280.0,278.5 281.6,283.4 283.0,279.5 290.0,281.0 300.0,282.3 315.0,283.8" stroke-width="2.5" /><polyline points="49.0,282.9 51.0,282.9 53.0,282.9 55.0,282.9 57.0,282.9 59.0,282.9 61.0,282.9 63.0,282.9 65.0,282.9 67.0,282.9 69.0,282.9 71.0,282.9 73.0,282.9 75.0,282.9 77.0,282.9 79.0,282.9 81.0,282.9 83.0,282.9 85.0,282.9 87.0,282.9 89.0,282.9 91.0,282.9 93.0,282.9 95.0,282.9 97.0,282.9 99.0,282.9 101.0,282.9 103.0,282.3 105.0,276.2 107.0,264.3 109.0,247.0 111.0,228.5 113.0,213.6 115.0,197.5 117.0,188.7 119.0,181.1 121.0,178.5 123.0,171.6 125.0,171.1 127.0,169.0 129.0,167.9 131.0,166.5 133.0,166.3 135.0,166.3 137.0,163.2 139.0,163.4 141.0,164.2 143.0,162.0 145.0,160.5 147.0,158.4 149.0,157.0 151.0,156.1 153.0,153.1 155.0,150.0 157.0,149.6 159.0,148.7 161.0,144.3 163.0,143.3 165.0,142.3 167.0,139.5 169.0,139.0 171.0,137.6 173.0,137.4 175.0,135.3 177.0,133.2 179.0,134.6 181.0,137.8 183.0,138.9 185.0,140.1 187.0,141.1 189.0,143.0 191.0,145.9 193.0,150.3 195.0,153.3 197.0,157.9 199.0,161.1 201.0,165.1 203.0,168.8 205.0,174.8 207.0,179.8 209.0,183.2 211.0,188.0 213.0,191.2 215.0,196.2 217.0,201.0 219.0,204.7 221.0,208.3 223.0,211.5 225.0,215.2 227.0,219.6 229.0,222.4 231.0,225.9 233.0,230.1 235.0,232.7 237.0,235.1 239.0,238.3 241.0,243.1 243.0,246.4 245.0,250.1 246.3,258.0 247.5,165.5 248.7,259.0 250.0,230.0 251.0,257.0 252.5,215.0 253.5,256.0 254.8,190.0 255.8,240.0 257.0,184.0 258.2,255.0 259.0,186.0 260.4,266.5 262.3,196.0 264.0,263.0 266.0,262.0 267.7,246.0 269.0,268.0 270.4,276.0 274.7,276.8 276.6,269.0 278.0,277.5 280.0,278.5 281.6,283.4 283.0,279.5 290.0,281.0 300.0,282.3 315.0,283.8" stroke-width="2.5" /><rect x="246" y="205" width="17.5" height="52" fill="#fff" stroke="none"/><polyline points="148.2,159.0 148.9,50.0 149.6,158.0" stroke-width="2.4" /><polyline points="160.7,145.0 161.2,61.6 161.7,143.0" stroke-width="2.0" /></g>
<g clip-path="url(#cr)" fill="none" stroke="#fff" stroke-linejoin="round" stroke-linecap="round"><polyline points="329.0,283.0 331.0,283.0 333.0,283.0 335.0,283.0 337.0,283.0 339.0,283.0 341.0,283.0 343.0,283.0 345.0,283.0 347.0,283.0 349.0,283.0 351.0,283.0 353.0,283.0 355.0,283.0 357.0,283.0 359.0,283.0 361.0,283.0 363.0,283.0 365.0,283.0 367.0,283.0 369.0,283.0 371.0,283.0 373.0,283.0 375.0,283.0 377.0,283.0 379.0,283.0 381.0,283.0 383.0,282.6 385.0,274.4 387.0,259.3 389.0,234.5 391.0,212.3 393.0,200.9 395.0,192.8 397.0,187.4 399.0,182.1 401.0,178.7 403.0,174.5 405.0,171.1 407.0,168.5 409.0,165.5 411.0,166.5 413.0,164.4 415.0,166.0 417.0,165.0 419.0,162.9 421.0,163.1 423.0,157.9 425.0,159.2 427.0,156.5 429.0,155.8 431.0,151.7 433.0,151.5 435.0,149.5 437.0,147.8 439.0,145.6 441.0,142.0 443.0,140.2 445.0,137.5 447.0,138.8 449.0,138.2 451.0,136.9 453.0,134.9 455.0,134.2 457.0,131.8 459.0,131.3 461.0,131.5 463.0,132.7 465.0,134.4 467.0,136.7 469.0,141.7 471.0,144.3 473.0,148.4 475.0,153.5 477.0,156.5 479.0,161.9 481.0,165.2 483.0,170.3 485.0,175.0 487.0,179.6 489.0,185.3 491.0,188.7 493.0,193.2 495.0,199.5 497.0,202.2 499.0,206.5 501.0,210.1 503.0,215.1 505.0,219.2 507.0,224.7 509.0,228.6 511.0,230.5 513.0,233.6 515.0,237.6 517.0,241.0 519.0,243.3 521.0,244.5 523.0,246.8 525.0,251.2 526.3,256.0 527.6,154.0 528.9,255.0 530.5,225.0 531.5,250.0 532.7,167.0 534.0,252.0 535.5,200.0 537.0,178.0 538.3,235.0 539.5,195.0 540.7,180.0 542.0,250.0 543.2,215.0 544.4,198.0 545.5,258.0 547.0,240.0 548.2,252.0 549.0,270.0 550.5,274.5 555.0,275.0 557.5,271.0 559.0,276.0 563.0,277.0 565.5,267.0 567.0,278.5 572.0,280.0 585.0,282.3 595.0,283.3" stroke-width="2.5" /><polyline points="329.0,282.6 331.0,282.6 333.0,282.6 335.0,282.6 337.0,282.6 339.0,282.6 341.0,282.6 343.0,282.6 345.0,282.6 347.0,282.6 349.0,282.6 351.0,282.6 353.0,282.6 355.0,282.6 357.0,282.6 359.0,282.6 361.0,282.6 363.0,282.6 365.0,282.6 367.0,282.6 369.0,282.6 371.0,282.6 373.0,282.6 375.0,282.6 377.0,282.6 379.0,282.6 381.0,282.6 383.0,282.2 385.0,273.7 387.0,258.1 389.0,234.3 391.0,211.7 393.0,198.2 395.0,189.5 397.0,183.7 399.0,178.0 401.0,172.9 403.0,171.5 405.0,166.2 407.0,163.1 409.0,162.8 411.0,160.8 413.0,160.7 415.0,158.6 417.0,160.4 419.0,159.3 421.0,158.6 423.0,156.5 425.0,154.3 427.0,153.6 429.0,152.3 431.0,153.4 433.0,149.4 435.0,147.8 437.0,146.5 439.0,144.8 441.0,143.9 443.0,140.6 445.0,138.5 447.0,138.0 449.0,135.0 451.0,133.4 453.0,132.8 455.0,129.0 457.0,129.4 459.0,130.4 461.0,129.9 463.0,130.7 465.0,131.6 467.0,134.0 469.0,138.3 471.0,140.8 473.0,143.9 475.0,149.9 477.0,153.7 479.0,156.4 481.0,162.3 483.0,166.8 485.0,171.2 487.0,175.1 489.0,179.1 491.0,186.0 493.0,189.7 495.0,195.5 497.0,200.1 499.0,204.3 501.0,206.5 503.0,212.1 505.0,216.2 507.0,220.6 509.0,222.5 511.0,225.5 513.0,229.4 515.0,233.2 517.0,236.1 519.0,240.4 521.0,243.7 523.0,246.1 525.0,246.9 526.3,256.3 527.6,155.3 528.9,255.3 530.5,225.6 531.5,250.3 532.7,168.2 534.0,252.3 535.5,200.8 537.0,179.1 538.3,235.5 539.5,195.9 540.7,181.0 542.0,250.3 543.2,215.7 544.4,198.9 545.5,258.3 547.0,240.4 548.2,252.3 549.0,270.1 550.5,274.6 555.0,275.1 557.5,271.1 559.0,276.1 563.0,277.1 565.5,267.2 567.0,278.6 572.0,280.0 585.0,282.3 595.0,283.3" stroke-width="2.5" /><polyline points="329.0,283.4 331.0,283.4 333.0,283.4 335.0,283.4 337.0,283.4 339.0,283.4 341.0,283.4 343.0,283.4 345.0,283.4 347.0,283.4 349.0,283.4 351.0,283.4 353.0,283.4 355.0,283.4 357.0,283.4 359.0,283.4 361.0,283.4 363.0,283.4 365.0,283.4 367.0,283.4 369.0,283.4 371.0,283.4 373.0,283.4 375.0,283.4 377.0,283.4 379.0,283.4 381.0,283.4 383.0,282.9 385.0,274.6 387.0,259.2 389.0,237.9 391.0,214.1 393.0,203.4 395.0,196.8 397.0,189.6 399.0,186.3 401.0,182.1 403.0,179.4 405.0,177.0 407.0,172.6 409.0,169.7 411.0,167.4 413.0,167.9 415.0,169.9 417.0,166.7 419.0,165.4 421.0,165.4 423.0,164.6 425.0,161.9 427.0,161.2 429.0,158.2 431.0,156.8 433.0,153.4 435.0,152.1 437.0,150.1 439.0,148.1 441.0,145.7 443.0,144.0 445.0,141.8 447.0,139.3 449.0,137.8 451.0,136.1 453.0,133.9 455.0,134.0 457.0,133.4 459.0,134.2 461.0,134.7 463.0,137.4 465.0,139.0 467.0,141.4 469.0,145.9 471.0,150.0 473.0,154.9 475.0,158.5 477.0,162.3 479.0,167.7 481.0,172.2 483.0,176.0 485.0,179.1 487.0,184.4 489.0,189.1 491.0,194.6 493.0,198.2 495.0,204.1 497.0,207.2 499.0,211.5 501.0,215.8 503.0,220.3 505.0,224.2 507.0,227.2 509.0,231.8 511.0,233.3 513.0,237.7 515.0,240.8 517.0,243.1 519.0,245.9 521.0,248.3 523.0,250.7 525.0,252.3 526.3,255.7 527.6,152.7 528.9,254.7 530.5,224.4 531.5,249.7 532.7,165.8 534.0,251.7 535.5,199.2 537.0,176.9 538.3,234.5 539.5,194.1 540.7,179.0 542.0,249.7 543.2,214.3 544.4,197.1 545.5,257.7 547.0,239.6 548.2,251.7 549.0,269.9 550.5,274.4 555.0,274.9 557.5,270.9 559.0,275.9 563.0,276.9 565.5,266.8 567.0,278.4 572.0,280.0 585.0,282.3 595.0,283.3" stroke-width="2.5" /><polyline points="329.0,282.8 331.0,282.8 333.0,282.8 335.0,282.8 337.0,282.8 339.0,282.8 341.0,282.8 343.0,282.8 345.0,282.8 347.0,282.8 349.0,282.8 351.0,282.8 353.0,282.8 355.0,282.8 357.0,282.8 359.0,282.8 361.0,282.8 363.0,282.8 365.0,282.8 367.0,282.8 369.0,282.8 371.0,282.8 373.0,282.8 375.0,282.8 377.0,282.8 379.0,282.8 381.0,282.8 383.0,282.4 385.0,273.8 387.0,257.2 389.0,232.3 391.0,209.2 393.0,197.8 395.0,192.6 397.0,184.9 399.0,181.5 401.0,177.0 403.0,174.1 405.0,168.7 407.0,167.2 409.0,163.4 411.0,163.4 413.0,161.5 415.0,161.8 417.0,161.8 419.0,160.9 421.0,159.2 423.0,158.7 425.0,157.5 427.0,156.2 429.0,155.2 431.0,153.4 433.0,150.4 435.0,148.5 437.0,147.4 439.0,142.7 441.0,142.1 443.0,141.0 445.0,138.1 447.0,135.5 449.0,133.5 451.0,132.6 453.0,132.2 455.0,129.9 457.0,129.8 459.0,128.5 461.0,129.8 463.0,131.7 465.0,133.8 467.0,134.5 469.0,137.9 471.0,142.5 473.0,144.5 475.0,150.3 477.0,154.9 479.0,159.0 481.0,163.2 483.0,167.0 485.0,173.7 487.0,178.4 489.0,181.3 491.0,186.7 493.0,191.9 495.0,197.2 497.0,201.6 499.0,206.7 501.0,208.3 503.0,213.6 505.0,216.5 507.0,221.5 509.0,225.0 511.0,230.4 513.0,233.1 515.0,234.2 517.0,239.0 519.0,240.6 521.0,243.3 523.0,247.1 525.0,248.5 526.3,256.0 527.6,154.0 528.9,255.0 530.5,225.0 531.5,250.0 532.7,167.0 534.0,252.0 535.5,200.0 537.0,178.0 538.3,235.0 539.5,195.0 540.7,180.0 542.0,250.0 543.2,215.0 544.4,198.0 545.5,258.0 547.0,240.0 548.2,252.0 549.0,270.0 550.5,274.5 555.0,275.0 557.5,271.0 559.0,276.0 563.0,277.0 565.5,267.0 567.0,278.5 572.0,280.0 585.0,282.3 595.0,283.3" stroke-width="2.5" /><polyline points="329.0,283.2 331.0,283.2 333.0,283.2 335.0,283.2 337.0,283.2 339.0,283.2 341.0,283.2 343.0,283.2 345.0,283.2 347.0,283.2 349.0,283.2 351.0,283.2 353.0,283.2 355.0,283.2 357.0,283.2 359.0,283.2 361.0,283.2 363.0,283.2 365.0,283.2 367.0,283.2 369.0,283.2 371.0,283.2 373.0,283.2 375.0,283.2 377.0,283.2 379.0,283.2 381.0,283.2 383.0,282.7 385.0,274.2 387.0,258.6 389.0,237.2 391.0,211.0 393.0,201.7 395.0,194.4 397.0,188.5 399.0,183.4 401.0,180.2 403.0,178.0 405.0,175.8 407.0,171.2 409.0,169.1 411.0,168.1 413.0,166.2 415.0,165.9 417.0,164.7 419.0,164.0 421.0,163.2 423.0,162.4 425.0,160.2 427.0,159.6 429.0,158.5 431.0,156.6 433.0,153.1 435.0,150.1 437.0,148.4 439.0,146.5 441.0,144.7 443.0,143.2 445.0,141.2 447.0,139.9 449.0,135.6 451.0,136.2 453.0,133.6 455.0,134.2 457.0,132.5 459.0,131.6 461.0,134.2 463.0,134.7 465.0,135.2 467.0,138.4 469.0,142.6 471.0,146.9 473.0,151.9 475.0,155.4 477.0,162.1 479.0,165.5 481.0,168.6 483.0,173.5 485.0,177.1 487.0,182.6 489.0,187.9 491.0,191.6 493.0,197.8 495.0,203.3 497.0,207.4 499.0,210.1 501.0,214.5 503.0,218.0 505.0,221.9 507.0,224.7 509.0,226.7 511.0,230.5 513.0,234.6 515.0,237.0 517.0,242.3 519.0,244.4 521.0,245.3 523.0,248.4 525.0,250.7 526.3,256.0 527.6,154.0 528.9,255.0 530.5,225.0 531.5,250.0 532.7,167.0 534.0,252.0 535.5,200.0 537.0,178.0 538.3,235.0 539.5,195.0 540.7,180.0 542.0,250.0 543.2,215.0 544.4,198.0 545.5,258.0 547.0,240.0 548.2,252.0 549.0,270.0 550.5,274.5 555.0,275.0 557.5,271.0 559.0,276.0 563.0,277.0 565.5,267.0 567.0,278.5 572.0,280.0 585.0,282.3 595.0,283.3" stroke-width="2.5" /><polyline points="329.0,283.3 331.0,283.3 333.0,283.3 335.0,283.3 337.0,283.3 339.0,283.3 341.0,283.3 343.0,283.3 345.0,283.3 347.0,283.3 349.0,283.3 351.0,283.3 353.0,283.3 355.0,283.3 357.0,283.3 359.0,283.3 361.0,283.3 363.0,283.3 365.0,283.3 367.0,283.3 369.0,283.3 371.0,283.3 373.0,283.3 375.0,283.3 377.0,283.3 379.0,283.3 381.0,283.3 383.0,282.9 385.0,274.2 387.0,258.6 389.0,237.3 391.0,213.4 393.0,202.3 395.0,196.0 397.0,188.4 399.0,183.6 401.0,181.1 403.0,176.8 405.0,176.5 407.0,171.2 409.0,168.9 411.0,168.0 413.0,167.5 415.0,167.0 417.0,166.2 419.0,165.2 421.0,163.3 423.0,163.8 425.0,161.9 427.0,159.6 429.0,157.3 431.0,155.6 433.0,152.2 435.0,151.2 437.0,150.7 439.0,146.1 441.0,144.7 443.0,143.7 445.0,141.3 447.0,139.5 449.0,138.3 451.0,137.3 453.0,135.1 455.0,134.6 457.0,131.7 459.0,132.7 461.0,135.0 463.0,135.6 465.0,138.5 467.0,140.0 469.0,144.4 471.0,148.0 473.0,152.9 475.0,156.8 477.0,161.9 479.0,167.0 481.0,171.0 483.0,175.4 485.0,179.1 487.0,184.3 489.0,189.7 491.0,193.3 493.0,198.2 495.0,202.7 497.0,206.6 499.0,208.6 501.0,212.6 503.0,216.9 505.0,221.1 507.0,225.4 509.0,228.2 511.0,232.0 513.0,236.9 515.0,240.4 517.0,241.9 519.0,244.4 521.0,246.8 523.0,249.7 525.0,252.2 526.3,256.0 527.6,154.0 528.9,255.0 530.5,225.0 531.5,250.0 532.7,167.0 534.0,252.0 535.5,200.0 537.0,178.0 538.3,235.0 539.5,195.0 540.7,180.0 542.0,250.0 543.2,215.0 544.4,198.0 545.5,258.0 547.0,240.0 548.2,252.0 549.0,270.0 550.5,274.5 555.0,275.0 557.5,271.0 559.0,276.0 563.0,277.0 565.5,267.0 567.0,278.5 572.0,280.0 585.0,282.3 595.0,283.3" stroke-width="2.5" /><polyline points="329.0,282.7 331.0,282.7 333.0,282.7 335.0,282.7 337.0,282.7 339.0,282.7 341.0,282.7 343.0,282.7 345.0,282.7 347.0,282.7 349.0,282.7 351.0,282.7 353.0,282.7 355.0,282.7 357.0,282.7 359.0,282.7 361.0,282.7 363.0,282.7 365.0,282.7 367.0,282.7 369.0,282.7 371.0,282.7 373.0,282.7 375.0,282.7 377.0,282.7 379.0,282.7 381.0,282.7 383.0,282.3 385.0,273.9 387.0,256.9 389.0,233.6 391.0,208.9 393.0,198.6 395.0,191.5 397.0,185.0 399.0,179.3 401.0,175.9 403.0,171.2 405.0,167.7 407.0,165.1 409.0,162.8 411.0,160.5 413.0,161.3 415.0,160.8 417.0,159.6 419.0,159.7 421.0,157.9 423.0,159.0 425.0,156.6 427.0,156.6 429.0,153.4 431.0,151.5 433.0,149.7 435.0,147.4 437.0,146.7 439.0,144.2 441.0,140.5 443.0,139.8 445.0,139.3 447.0,136.9 449.0,134.3 451.0,134.3 453.0,132.7 455.0,131.4 457.0,128.7 459.0,128.8 461.0,128.5 463.0,130.7 465.0,131.8 467.0,133.9 469.0,136.9 471.0,140.4 473.0,145.2 475.0,149.2 477.0,155.3 479.0,157.3 481.0,162.4 483.0,165.8 485.0,172.3 487.0,175.0 489.0,180.4 491.0,186.0 493.0,192.6 495.0,195.9 497.0,200.1 499.0,205.2 501.0,209.3 503.0,213.9 505.0,216.8 507.0,222.9 509.0,225.8 511.0,227.7 513.0,232.3 515.0,236.0 517.0,238.5 519.0,241.5 521.0,243.4 523.0,245.0 525.0,248.2 526.3,256.0 527.6,154.0 528.9,255.0 530.5,225.0 531.5,250.0 532.7,167.0 534.0,252.0 535.5,200.0 537.0,178.0 538.3,235.0 539.5,195.0 540.7,180.0 542.0,250.0 543.2,215.0 544.4,198.0 545.5,258.0 547.0,240.0 548.2,252.0 549.0,270.0 550.5,274.5 555.0,275.0 557.5,271.0 559.0,276.0 563.0,277.0 565.5,267.0 567.0,278.5 572.0,280.0 585.0,282.3 595.0,283.3" stroke-width="2.5" /><polyline points="329.0,283.1 331.0,283.1 333.0,283.1 335.0,283.1 337.0,283.1 339.0,283.1 341.0,283.1 343.0,283.1 345.0,283.1 347.0,283.1 349.0,283.1 351.0,283.1 353.0,283.1 355.0,283.1 357.0,283.1 359.0,283.1 361.0,283.1 363.0,283.1 365.0,283.1 367.0,283.1 369.0,283.1 371.0,283.1 373.0,283.1 375.0,283.1 377.0,283.1 379.0,283.1 381.0,283.1 383.0,282.7 385.0,274.0 387.0,258.3 389.0,233.3 391.0,209.2 393.0,202.4 395.0,194.0 397.0,188.1 399.0,183.2 401.0,181.4 403.0,175.0 405.0,173.0 407.0,170.8 409.0,168.9 411.0,167.7 413.0,164.4 415.0,166.0 417.0,164.9 419.0,164.0 421.0,162.2 423.0,160.4 425.0,159.1 427.0,158.3 429.0,158.5 431.0,155.8 433.0,152.9 435.0,149.9 437.0,149.0 439.0,146.9 441.0,144.6 443.0,142.7 445.0,140.8 447.0,138.5 449.0,137.7 451.0,136.7 453.0,136.8 455.0,133.2 457.0,130.9 459.0,131.7 461.0,132.7 463.0,133.2 465.0,135.8 467.0,137.8 469.0,141.5 471.0,144.4 473.0,149.0 475.0,154.5 477.0,158.7 479.0,162.8 481.0,167.7 483.0,173.4 485.0,176.7 487.0,180.1 489.0,187.2 491.0,190.9 493.0,195.2 495.0,201.2 497.0,203.8 499.0,208.7 501.0,212.3 503.0,214.8 505.0,220.5 507.0,224.3 509.0,227.5 511.0,231.3 513.0,233.2 515.0,237.9 517.0,240.1 519.0,243.6 521.0,246.1 523.0,248.2 525.0,250.6 526.3,256.0 527.6,154.0 528.9,255.0 530.5,225.0 531.5,250.0 532.7,167.0 534.0,252.0 535.5,200.0 537.0,178.0 538.3,235.0 539.5,195.0 540.7,180.0 542.0,250.0 543.2,215.0 544.4,198.0 545.5,258.0 547.0,240.0 548.2,252.0 549.0,270.0 550.5,274.5 555.0,275.0 557.5,271.0 559.0,276.0 563.0,277.0 565.5,267.0 567.0,278.5 572.0,280.0 585.0,282.3 595.0,283.3" stroke-width="2.5" /><polyline points="329.0,282.9 331.0,282.9 333.0,282.9 335.0,282.9 337.0,282.9 339.0,282.9 341.0,282.9 343.0,282.9 345.0,282.9 347.0,282.9 349.0,282.9 351.0,282.9 353.0,282.9 355.0,282.9 357.0,282.9 359.0,282.9 361.0,282.9 363.0,282.9 365.0,282.9 367.0,282.9 369.0,282.9 371.0,282.9 373.0,282.9 375.0,282.9 377.0,282.9 379.0,282.9 381.0,282.9 383.0,282.4 385.0,273.8 387.0,258.2 389.0,234.8 391.0,210.1 393.0,201.0 395.0,191.7 397.0,186.5 399.0,179.5 401.0,178.2 403.0,173.7 405.0,171.7 407.0,167.6 409.0,165.5 411.0,164.2 413.0,163.8 415.0,163.6 417.0,163.8 419.0,161.6 421.0,160.2 423.0,160.6 425.0,158.3 427.0,156.8 429.0,155.3 431.0,151.5 433.0,151.2 435.0,148.7 437.0,146.7 439.0,144.4 441.0,144.1 443.0,141.7 445.0,140.1 447.0,139.5 449.0,136.7 451.0,136.5 453.0,134.4 455.0,130.7 457.0,131.2 459.0,131.5 461.0,132.9 463.0,133.3 465.0,136.3 467.0,136.6 469.0,139.6 471.0,144.0 473.0,146.9 475.0,152.7 477.0,156.9 479.0,161.3 481.0,165.7 483.0,169.5 485.0,174.1 487.0,177.9 489.0,182.5 491.0,188.5 493.0,192.4 495.0,196.8 497.0,201.9 499.0,205.1 501.0,209.5 503.0,213.8 505.0,218.5 507.0,221.5 509.0,224.2 511.0,228.2 513.0,231.5 515.0,232.9 517.0,237.0 519.0,241.2 521.0,244.6 523.0,246.9 525.0,249.7 526.3,256.0 527.6,154.0 528.9,255.0 530.5,225.0 531.5,250.0 532.7,167.0 534.0,252.0 535.5,200.0 537.0,178.0 538.3,235.0 539.5,195.0 540.7,180.0 542.0,250.0 543.2,215.0 544.4,198.0 545.5,258.0 547.0,240.0 548.2,252.0 549.0,270.0 550.5,274.5 555.0,275.0 557.5,271.0 559.0,276.0 563.0,277.0 565.5,267.0 567.0,278.5 572.0,280.0 585.0,282.3 595.0,283.3" stroke-width="2.5" /><rect x="526.4" y="200" width="7" height="50" fill="#fff" stroke="none"/><rect x="535" y="205" width="6.5" height="45" fill="#fff" stroke="none"/><rect x="543" y="215" width="3" height="38" fill="#fff" stroke="none"/><polyline points="427.5,159.0 428.6,10.0 429.7,158.0" stroke-width="2.7" /><polyline points="441.1,145.0 441.5,83.0 441.9,143.0" stroke-width="2.1" /><polyline points="383.0,283.5 385.0,270.0 387.0,240.0 389.5,205.0 392.8,172.5 396.0,164.0 399.0,157.5 404.0,152.5 409.0,146.3 411.5,148.0 414.0,148.8 418.0,147.0 421.5,146.3 425.0,145.5 427.8,145.0 430.5,143.0 432.0,135.0 433.5,142.5 436.0,133.8 438.0,141.0 440.0,136.0 443.0,136.0 446.5,133.8 450.0,131.5 454.0,130.0 457.0,129.0" stroke-width="1.8" /><polyline points="385.2,286.5 387.2,273.0 389.2,243.0 391.7,208.0 394.9,175.5 398.2,167.0 401.2,160.5 406.2,155.5 411.2,149.3" stroke-width="1.4" /></g>
<line x1="69.5" x2="75.0" y1="44.0" y2="44.0" stroke="#fff" stroke-width="1.4"/>
<text x="79.4" y="49.1" font-size="13.89" text-anchor="start" fill="#fff" >25</text>
<line x1="69.5" x2="75.0" y1="92.0" y2="92.0" stroke="#fff" stroke-width="1.4"/>
<text x="79.4" y="97.1" font-size="13.89" text-anchor="start" fill="#fff" >20</text>
<line x1="69.5" x2="75.0" y1="140.0" y2="140.0" stroke="#fff" stroke-width="1.4"/>
<text x="79.4" y="145.1" font-size="13.89" text-anchor="start" fill="#fff" >15</text>
<line x1="69.5" x2="75.0" y1="188.0" y2="188.0" stroke="#fff" stroke-width="1.4"/>
<text x="79.4" y="193.1" font-size="13.89" text-anchor="start" fill="#fff" >10</text>
<line x1="69.5" x2="75.0" y1="236.0" y2="236.0" stroke="#fff" stroke-width="1.4"/>
<text x="79.4" y="241.1" font-size="13.89" text-anchor="start" fill="#fff" >5</text>
<line x1="69.5" x2="75.0" y1="284.0" y2="284.0" stroke="#fff" stroke-width="1.4"/>
<text x="79.4" y="289.1" font-size="13.89" text-anchor="start" fill="#fff" >0</text>
<line x1="349.5" x2="355.0" y1="44.0" y2="44.0" stroke="#fff" stroke-width="1.4"/>
<text x="359.4" y="49.1" font-size="13.89" text-anchor="start" fill="#fff" >25</text>
<line x1="349.5" x2="355.0" y1="92.0" y2="92.0" stroke="#fff" stroke-width="1.4"/>
<text x="359.4" y="97.1" font-size="13.89" text-anchor="start" fill="#fff" >20</text>
<line x1="349.5" x2="355.0" y1="140.0" y2="140.0" stroke="#fff" stroke-width="1.4"/>
<text x="359.4" y="145.1" font-size="13.89" text-anchor="start" fill="#fff" >15</text>
<line x1="349.5" x2="355.0" y1="188.0" y2="188.0" stroke="#fff" stroke-width="1.4"/>
<text x="359.4" y="193.1" font-size="13.89" text-anchor="start" fill="#fff" >10</text>
<line x1="349.5" x2="355.0" y1="236.0" y2="236.0" stroke="#fff" stroke-width="1.4"/>
<text x="359.4" y="241.1" font-size="13.89" text-anchor="start" fill="#fff" >5</text>
<line x1="349.5" x2="355.0" y1="284.0" y2="284.0" stroke="#fff" stroke-width="1.4"/>
<text x="359.4" y="289.1" font-size="13.89" text-anchor="start" fill="#fff" >0</text>
<text x="318.7" y="49.1" font-size="13.89" text-anchor="end" fill="#fff" >25</text>
<text x="318.7" y="97.1" font-size="13.89" text-anchor="end" fill="#fff" >20</text>
<text x="318.7" y="145.1" font-size="13.89" text-anchor="end" fill="#fff" >15</text>
<text x="318.7" y="193.1" font-size="13.89" text-anchor="end" fill="#fff" >10</text>
<text x="318.7" y="241.1" font-size="13.89" text-anchor="end" fill="#fff" >5</text>
<text x="318.7" y="289.1" font-size="13.89" text-anchor="end" fill="#fff" >0</text>
<text x="182.0" y="15.8" font-size="16.67" text-anchor="middle" fill="#111" >4.5 (Tile165=165) X</text>
<text x="462.0" y="15.8" font-size="16.67" text-anchor="middle" fill="#111" >4.5 (Tile165=165) Y</text>
<text x="32.0" y="41.9" font-size="13.4" text-anchor="end" fill="#000" >On</text>
<text x="611.8" y="41.9" font-size="13.4" text-anchor="start" fill="#000" >On</text>
<text x="32.0" y="58.6" font-size="13.4" text-anchor="end" fill="#000" >Y</text>
<text x="611.8" y="58.6" font-size="13.4" text-anchor="start" fill="#000" >Y</text>
<text x="32.0" y="75.3" font-size="13.4" text-anchor="end" fill="#000" >Off</text>
<text x="611.8" y="75.3" font-size="13.4" text-anchor="start" fill="#000" >Off</text>
<text x="32.0" y="92.0" font-size="13.4" text-anchor="end" fill="#000" >P</text>
<text x="611.8" y="92.0" font-size="13.4" text-anchor="start" fill="#000" >P</text>
<text x="32.0" y="108.7" font-size="13.4" text-anchor="end" fill="#000" >O</text>
<text x="611.8" y="108.7" font-size="13.4" text-anchor="start" fill="#000" >O</text>
<text x="32.0" y="125.4" font-size="13.4" text-anchor="end" fill="#000" >N</text>
<text x="611.8" y="125.4" font-size="13.4" text-anchor="start" fill="#000" >N</text>
<text x="32.0" y="142.1" font-size="13.4" text-anchor="end" fill="#000" >M</text>
<text x="611.8" y="142.1" font-size="13.4" text-anchor="start" fill="#000" >M **</text>
<text x="32.0" y="158.8" font-size="13.4" text-anchor="end" fill="#000" >L</text>
<text x="611.8" y="158.8" font-size="13.4" text-anchor="start" fill="#000" >L</text>
<text x="32.0" y="175.5" font-size="13.4" text-anchor="end" fill="#000" >K</text>
<text x="611.8" y="175.5" font-size="13.4" text-anchor="start" fill="#000" >K</text>
<text x="32.0" y="192.2" font-size="13.4" text-anchor="end" fill="#000" >J</text>
<text x="611.8" y="192.2" font-size="13.4" text-anchor="start" fill="#000" >J</text>
<text x="32.0" y="208.9" font-size="13.4" text-anchor="end" fill="#000" >I</text>
<text x="611.8" y="208.9" font-size="13.4" text-anchor="start" fill="#000" >I</text>
<text x="32.0" y="225.6" font-size="13.4" text-anchor="end" fill="#000" >H</text>
<text x="611.8" y="225.6" font-size="13.4" text-anchor="start" fill="#000" >H</text>
<text x="32.0" y="242.3" font-size="13.4" text-anchor="end" fill="#000" >G</text>
<text x="611.8" y="242.3" font-size="13.4" text-anchor="start" fill="#000" >G</text>
<text x="32.0" y="259.0" font-size="13.4" text-anchor="end" fill="#000" >F</text>
<text x="611.8" y="259.0" font-size="13.4" text-anchor="start" fill="#000" >F</text>
<text x="32.0" y="275.7" font-size="13.4" text-anchor="end" fill="#000" >E</text>
<text x="611.8" y="275.7" font-size="13.4" text-anchor="start" fill="#000" >E</text>
<text x="32.0" y="292.4" font-size="13.4" text-anchor="end" fill="#000" >D</text>
<text x="611.8" y="292.4" font-size="13.4" text-anchor="start" fill="#000" >D</text>
<text x="32.0" y="309.1" font-size="13.4" text-anchor="end" fill="#000" >C</text>
<text x="611.8" y="309.1" font-size="13.4" text-anchor="start" fill="#000" >C</text>
<text x="32.0" y="325.8" font-size="13.4" text-anchor="end" fill="#000" >B</text>
<text x="611.8" y="325.8" font-size="13.4" text-anchor="start" fill="#000" >B</text>
<text x="32.0" y="342.5" font-size="13.4" text-anchor="end" fill="#000" >A</text>
<text x="611.8" y="342.5" font-size="13.4" text-anchor="start" fill="#000" >A</text>
<text x="32.0" y="359.2" font-size="13.4" text-anchor="end" fill="#000" >Off</text>
<text x="611.8" y="359.2" font-size="13.4" text-anchor="start" fill="#000" >Off</text>
<text x="32.0" y="375.9" font-size="13.4" text-anchor="end" fill="#000" >X</text>
<text x="611.8" y="375.9" font-size="13.4" text-anchor="start" fill="#000" >X</text>
<text x="32.0" y="392.6" font-size="13.4" text-anchor="end" fill="#000" >On</text>
<text x="611.8" y="392.6" font-size="13.4" text-anchor="start" fill="#000" >On</text>
<text x="38.5" y="49.1" font-size="13.89" text-anchor="end" fill="#fff" >25</text>
<text x="38.5" y="97.1" font-size="13.89" text-anchor="end" fill="#fff" >20</text>
<text x="38.5" y="145.1" font-size="13.89" text-anchor="end" fill="#fff" >15</text>
<text x="38.5" y="193.1" font-size="13.89" text-anchor="end" fill="#fff" >10</text>
<text x="38.5" y="241.1" font-size="13.89" text-anchor="end" fill="#fff" >5</text>
<text x="38.5" y="289.1" font-size="13.89" text-anchor="end" fill="#fff" >0</text>
<text transform="translate(3.3,217.5) rotate(-90)" font-size="13.89" text-anchor="middle" fill="#262626">Dipole</text>
<line x1="49.30" x2="49.30" y1="408" y2="413.4" stroke="#111" stroke-width="1"/>
<text x="49.4" y="425.8" font-size="9.72" text-anchor="middle" fill="#111" letter-spacing="-0.3">0</text>
<line x1="89.97" x2="89.97" y1="408" y2="413.4" stroke="#111" stroke-width="1"/>
<text x="90.1" y="425.8" font-size="9.72" text-anchor="middle" fill="#111" letter-spacing="-0.3">50</text>
<line x1="130.65" x2="130.65" y1="408" y2="413.4" stroke="#111" stroke-width="1"/>
<text x="130.8" y="425.8" font-size="9.72" text-anchor="middle" fill="#111" letter-spacing="-0.3">100</text>
<line x1="171.32" x2="171.32" y1="408" y2="413.4" stroke="#111" stroke-width="1"/>
<text x="171.5" y="425.8" font-size="9.72" text-anchor="middle" fill="#111" letter-spacing="-0.3">150</text>
<line x1="212.00" x2="212.00" y1="408" y2="413.4" stroke="#111" stroke-width="1"/>
<text x="212.2" y="425.8" font-size="9.72" text-anchor="middle" fill="#111" letter-spacing="-0.3">200</text>
<line x1="252.68" x2="252.68" y1="408" y2="413.4" stroke="#111" stroke-width="1"/>
<text x="252.8" y="425.8" font-size="9.72" text-anchor="middle" fill="#111" letter-spacing="-0.3">250</text>
<line x1="293.35" x2="293.35" y1="408" y2="413.4" stroke="#111" stroke-width="1"/>
<text x="293.5" y="425.8" font-size="9.72" text-anchor="middle" fill="#111" letter-spacing="-0.3">300</text>
<line x1="329.30" x2="329.30" y1="408" y2="413.4" stroke="#111" stroke-width="1"/>
<text x="329.4" y="425.8" font-size="9.72" text-anchor="middle" fill="#111" letter-spacing="-0.3">0</text>
<line x1="369.98" x2="369.98" y1="408" y2="413.4" stroke="#111" stroke-width="1"/>
<text x="370.1" y="425.8" font-size="9.72" text-anchor="middle" fill="#111" letter-spacing="-0.3">50</text>
<line x1="410.65" x2="410.65" y1="408" y2="413.4" stroke="#111" stroke-width="1"/>
<text x="410.8" y="425.8" font-size="9.72" text-anchor="middle" fill="#111" letter-spacing="-0.3">100</text>
<line x1="451.33" x2="451.33" y1="408" y2="413.4" stroke="#111" stroke-width="1"/>
<text x="451.5" y="425.8" font-size="9.72" text-anchor="middle" fill="#111" letter-spacing="-0.3">150</text>
<line x1="492.00" x2="492.00" y1="408" y2="413.4" stroke="#111" stroke-width="1"/>
<text x="492.1" y="425.8" font-size="9.72" text-anchor="middle" fill="#111" letter-spacing="-0.3">200</text>
<line x1="532.67" x2="532.67" y1="408" y2="413.4" stroke="#111" stroke-width="1"/>
<text x="532.8" y="425.8" font-size="9.72" text-anchor="middle" fill="#111" letter-spacing="-0.3">250</text>
<line x1="573.35" x2="573.35" y1="408" y2="413.4" stroke="#111" stroke-width="1"/>
<text x="573.5" y="425.8" font-size="9.72" text-anchor="middle" fill="#111" letter-spacing="-0.3">300</text>
</svg></body></html>
